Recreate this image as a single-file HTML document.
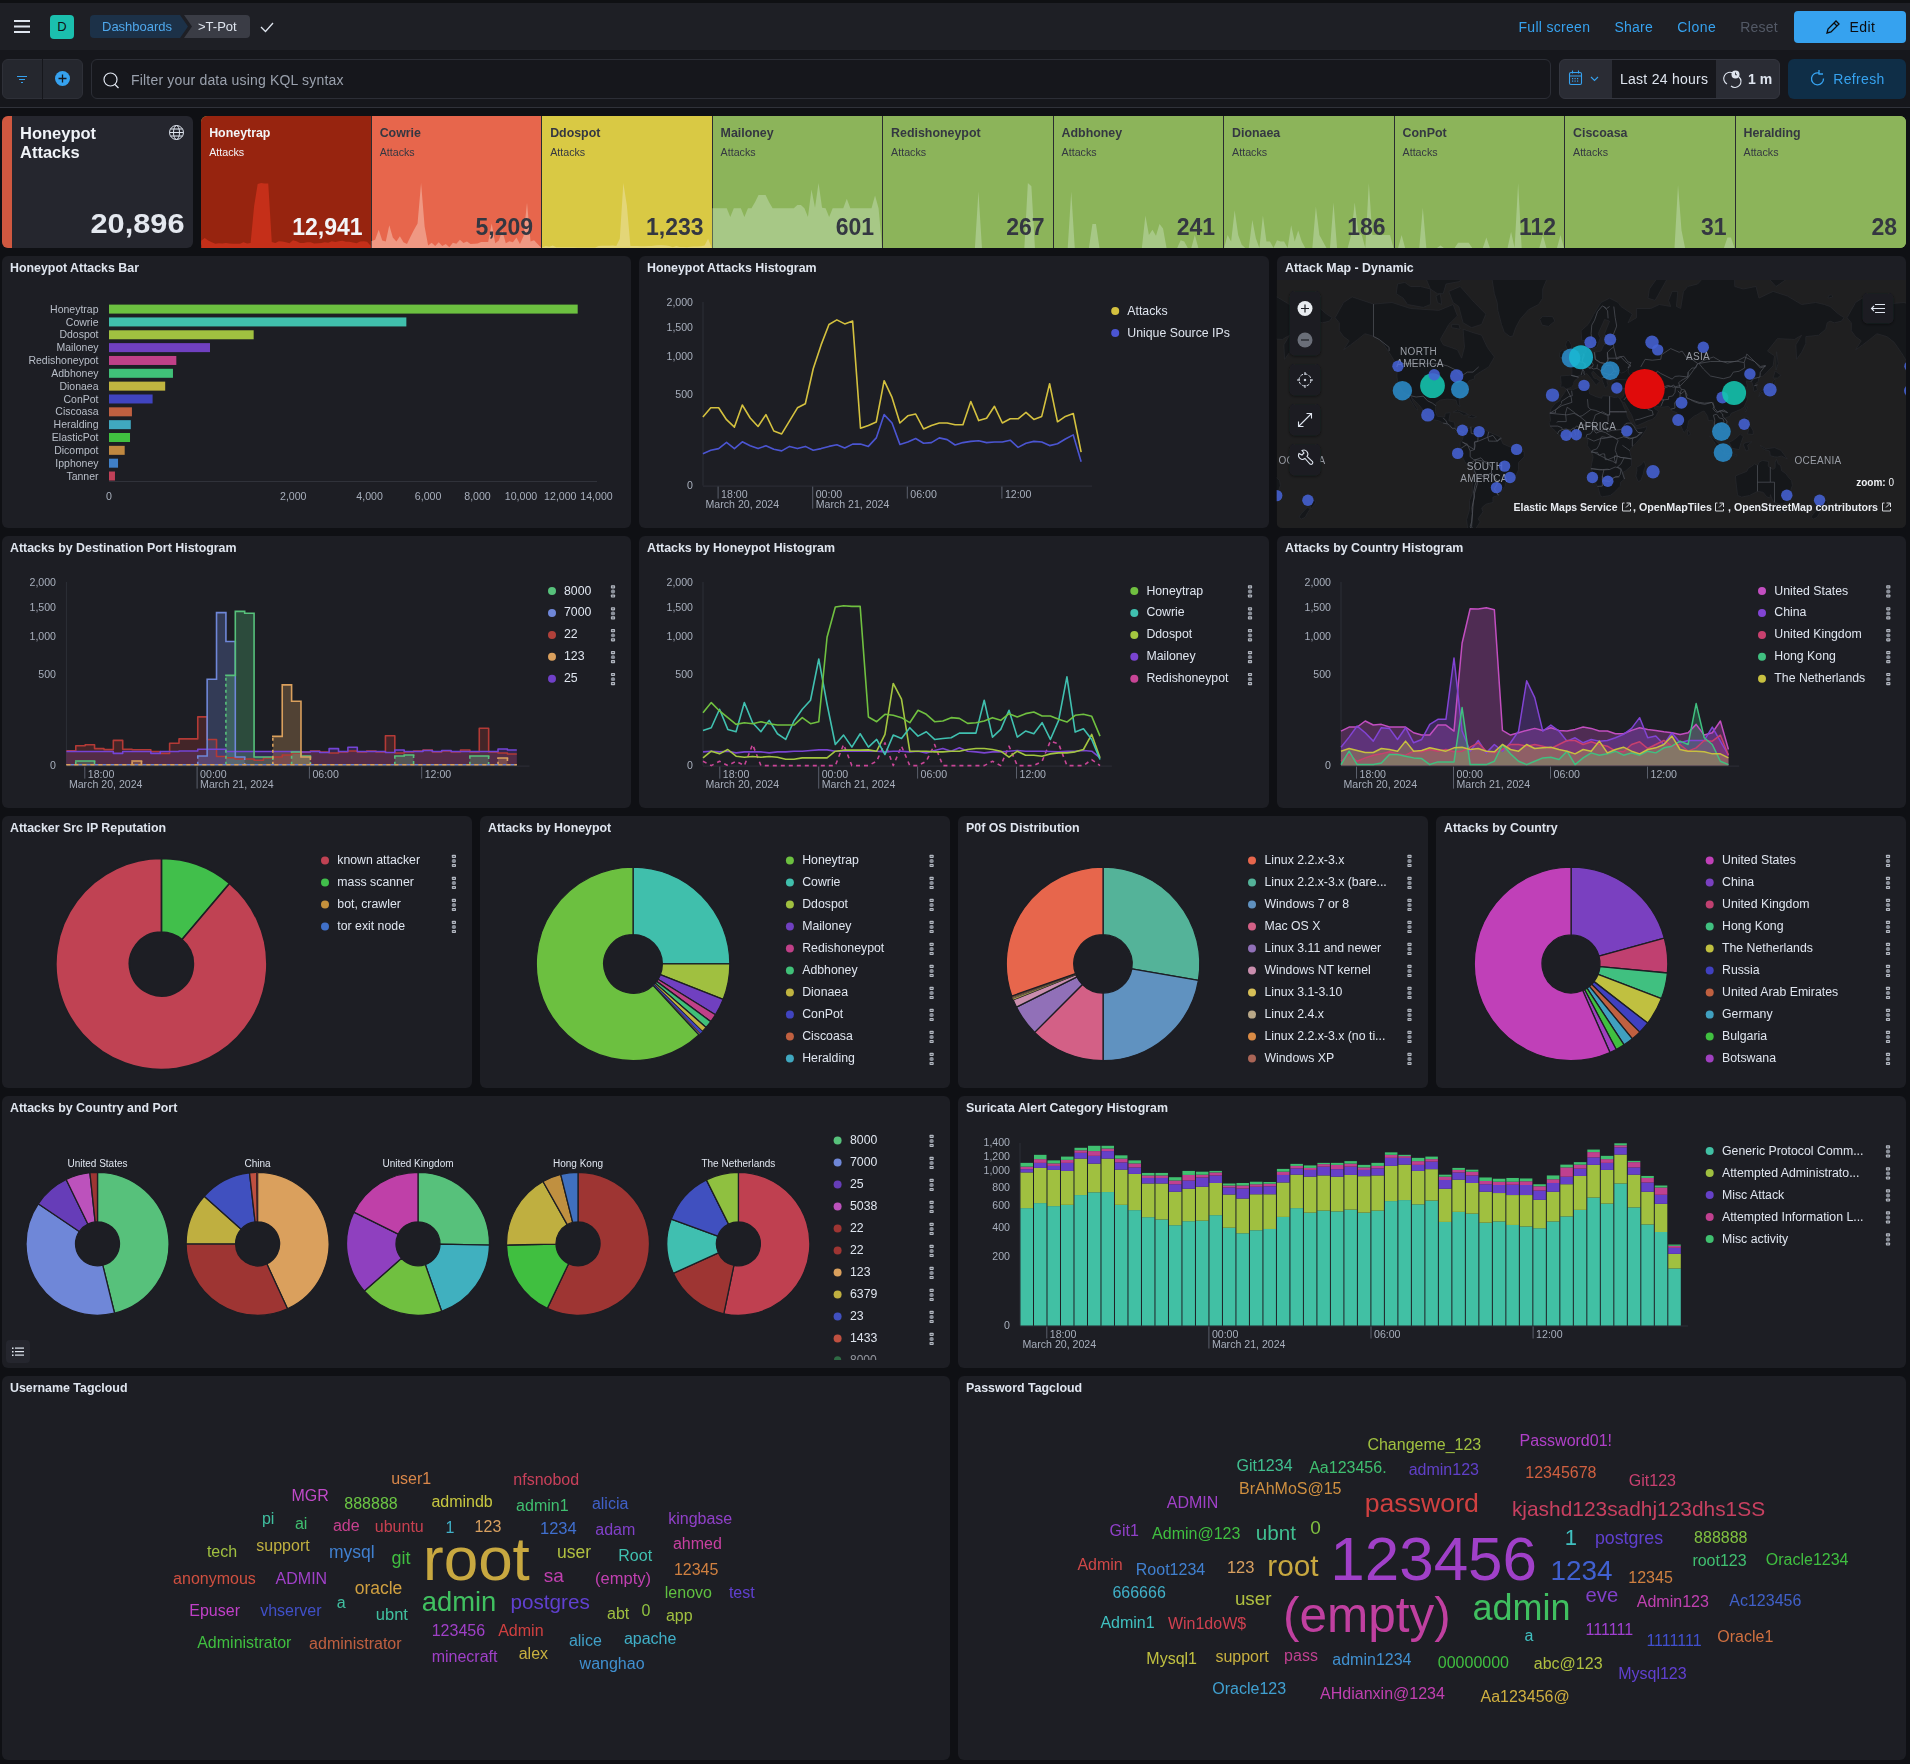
<!DOCTYPE html>
<html><head><meta charset="utf-8"><title>T-Pot Dashboard</title>
<style>
*{box-sizing:border-box}
html,body{margin:0;padding:0}
body{width:1910px;height:1764px;overflow:hidden;position:relative;background:#0f1014;font-family:'Liberation Sans', Arial, sans-serif;color:#dfe5ef}
.pn{position:absolute;border-radius:6px}
.pt{will-change:transform;position:absolute;font-size:12.4px;font-weight:bold;color:#dfe5ef;line-height:14px;white-space:nowrap}
.a{position:absolute;white-space:nowrap}
.t{will-change:transform}
svg text{font-family:'Liberation Sans', Arial, sans-serif}
</style></head><body>
<div class="a" style="left:0;top:0;width:1910px;height:3px;background:#0f1013"></div><div class="a" style="left:0;top:3px;width:1910px;height:47px;background:#1e1f25"></div><div class="a" style="left:0;top:50px;width:1910px;height:57px;background:#16171c"></div><div class="a" style="left:0;top:107px;width:1910px;height:1px;background:#30323a"></div><div class="a" style="left:50px;top:15px;width:24px;height:24px;border-radius:4px;background:#1bbfae;color:#101114;font-size:13px;line-height:24px;text-align:center">D</div><div class="a" style="left:1794px;top:11px;width:112px;height:32px;border-radius:4px;background:#36a2ef"></div><div class="a" style="left:2px;top:59px;width:81px;height:40px;border-radius:6px;background:#25272e;border:1px solid #2e3038"></div><div class="a" style="left:42px;top:59px;width:1px;height:40px;background:#16171c"></div><div class="a" style="left:91px;top:59px;width:1460px;height:40px;border-radius:6px;background:#16171c;border:1px solid #2c2e36"></div><div class="a" style="left:1559px;top:59px;width:221px;height:40px;border-radius:6px;background:#2a2c34;border:1px solid #34363f"></div><div class="a" style="left:1612px;top:60px;width:104px;height:38px;background:#16171c"></div><div class="a" style="left:1788px;top:59px;width:118px;height:40px;border-radius:6px;background:#0f2e47"></div><div class="pn" style="left:2px;top:116px;width:191.17px;height:132px;background:#25262e;overflow:hidden"><div style="position:absolute;left:0;top:0;width:10px;height:132px;background:#d05840"></div></div><div class="a t" style="left:20px;top:123.5px;font-size:16.5px;font-weight:bold;line-height:18.6px;color:#f0f3f8">Honeypot<br>Attacks</div><div class="pn" style="left:201.17px;top:116px;width:1704.83px;height:132px;overflow:hidden;background:#8cb45a"><div style="position:absolute;left:0px;top:0;width:170.48px;height:132px;background:#97240f"></div><div style="position:absolute;left:170.48px;top:0;width:170.48px;height:132px;background:#e7664c"></div><div style="position:absolute;left:340.97px;top:0;width:170.48px;height:132px;background:#d9c944"></div><div style="position:absolute;left:511.45px;top:0;width:170.48px;height:132px;background:#8cb45a"></div><div style="position:absolute;left:681.93px;top:0;width:170.48px;height:132px;background:#8cb45a"></div><div style="position:absolute;left:852.42px;top:0;width:170.48px;height:132px;background:#8cb45a"></div><div style="position:absolute;left:1022.9px;top:0;width:170.48px;height:132px;background:#8cb45a"></div><div style="position:absolute;left:1193.38px;top:0;width:170.48px;height:132px;background:#8cb45a"></div><div style="position:absolute;left:1363.87px;top:0;width:170.48px;height:132px;background:#8cb45a"></div><div style="position:absolute;left:1534.35px;top:0;width:170.48px;height:132px;background:#8cb45a"></div><div style="position:absolute;left:169.48px;top:0;width:1px;height:132px;background:#2a2c30"></div><div style="position:absolute;left:339.97px;top:0;width:1px;height:132px;background:#2a2c30"></div><div style="position:absolute;left:510.45px;top:0;width:1px;height:132px;background:#2a2c30"></div><div style="position:absolute;left:680.93px;top:0;width:1px;height:132px;background:#2a2c30"></div><div style="position:absolute;left:851.42px;top:0;width:1px;height:132px;background:#2a2c30"></div><div style="position:absolute;left:1021.9px;top:0;width:1px;height:132px;background:#2a2c30"></div><div style="position:absolute;left:1192.38px;top:0;width:1px;height:132px;background:#2a2c30"></div><div style="position:absolute;left:1362.87px;top:0;width:1px;height:132px;background:#2a2c30"></div><div style="position:absolute;left:1533.35px;top:0;width:1px;height:132px;background:#2a2c30"></div></div><div class="pn" style="left:2px;top:256px;width:629.33px;height:272px;background:#1d1e24"></div><div class="pt" style="left:10px;top:261px">Honeypot Attacks Bar</div><div class="pn" style="left:639.33px;top:256px;width:629.33px;height:272px;background:#1d1e24"></div><div class="pt" style="left:647.33px;top:261px">Honeypot Attacks Histogram</div><div class="pn" style="left:1276.67px;top:256px;width:629.33px;height:272px;background:#1d1e24"></div><div class="pt" style="left:1284.67px;top:261px">Attack Map - Dynamic</div><div class="pn" style="left:2px;top:536px;width:629.33px;height:272px;background:#1d1e24"></div><div class="pt" style="left:10px;top:541px">Attacks by Destination Port Histogram</div><div class="pn" style="left:639.33px;top:536px;width:629.33px;height:272px;background:#1d1e24"></div><div class="pt" style="left:647.33px;top:541px">Attacks by Honeypot Histogram</div><div class="pn" style="left:1276.67px;top:536px;width:629.33px;height:272px;background:#1d1e24"></div><div class="pt" style="left:1284.67px;top:541px">Attacks by Country Histogram</div><div class="pn" style="left:2px;top:816px;width:470px;height:272px;background:#1d1e24"></div><div class="pt" style="left:10px;top:821px">Attacker Src IP Reputation</div><div class="pn" style="left:480px;top:816px;width:470px;height:272px;background:#1d1e24"></div><div class="pt" style="left:488px;top:821px">Attacks by Honeypot</div><div class="pn" style="left:958px;top:816px;width:470px;height:272px;background:#1d1e24"></div><div class="pt" style="left:966px;top:821px">P0f OS Distribution</div><div class="pn" style="left:1436px;top:816px;width:470px;height:272px;background:#1d1e24"></div><div class="pt" style="left:1444px;top:821px">Attacks by Country</div><div class="pn" style="left:2px;top:1096px;width:948px;height:272px;background:#1d1e24"></div><div class="pt" style="left:10px;top:1101px">Attacks by Country and Port</div><div class="pn" style="left:958px;top:1096px;width:948px;height:272px;background:#1d1e24"></div><div class="pt" style="left:966px;top:1101px">Suricata Alert Category Histogram</div><div class="pn" style="left:2px;top:1376px;width:948px;height:384px;background:#1d1e24"></div><div class="pt" style="left:10px;top:1381px">Username Tagcloud</div><div class="pn" style="left:958px;top:1376px;width:948px;height:384px;background:#1d1e24"></div><div class="pt" style="left:966px;top:1381px">Password Tagcloud</div><div class="a" style="left:6px;top:1340px;width:24px;height:23px;border-radius:4px;background:#25262e"></div>
<svg width="1910" height="1764" viewBox="0 0 1910 1764" style="position:absolute;left:0;top:0;will-change:transform">
<rect x="14" y="20" width="16" height="2" fill="#dfe5ef"/><rect x="14" y="25.5" width="16" height="2" fill="#dfe5ef"/><rect x="14" y="31" width="16" height="2" fill="#dfe5ef"/><path d="M94 15 H180 L188 26.5 L180 38 H94 Q90 38 90 34 V19 Q90 15 94 15 Z" fill="#1c3148"/><path d="M184 15 H246 Q250 15 250 19 V34 Q250 38 246 38 H184 L192 26.5 Z" fill="#3a3c45"/><text x="102" y="31" font-size="13" fill="#4fa8ec" text-anchor="start" font-weight="normal" >Dashboards</text><text x="198" y="31" font-size="13" fill="#dfe5ef" text-anchor="start" font-weight="normal" >&gt;T-Pot</text><path d="M261 27 L265.5 31.5 L273 23" stroke="#dfe5ef" stroke-width="1.3" fill="none"/><text x="1518.5" y="32" font-size="14" fill="#36a2ef" text-anchor="start" font-weight="normal" textLength="71.5">Full screen</text><text x="1614.5" y="32" font-size="14" fill="#36a2ef" text-anchor="start" font-weight="normal" textLength="38.2">Share</text><text x="1677.2" y="32" font-size="14" fill="#36a2ef" text-anchor="start" font-weight="normal" textLength="38.5">Clone</text><text x="1740.2" y="32" font-size="14" fill="#535966" text-anchor="start" font-weight="normal" textLength="37.5">Reset</text><g stroke="#0b0c0f" stroke-width="1.3" fill="none"><path d="M1827 33 L1828 29 L1836 21 L1839 24 L1831 32 Z"/><path d="M1834 23 L1837 26"/></g><text x="1849.4" y="32" font-size="14" fill="#0b0c0f" text-anchor="start" font-weight="normal" textLength="25.5">Edit</text><g stroke="#36a2ef" stroke-width="1.2"><path d="M17 76.5 H27 M19 79.5 H25 M21 82.5 H23"/></g><circle cx="62.5" cy="78.5" r="7.5" fill="#36a2ef"/><path d="M62.5 74.5 V82.5 M58.5 78.5 H66.5" stroke="#16171c" stroke-width="1.3"/><circle cx="110.5" cy="79.5" r="6.5" stroke="#dfe5ef" stroke-width="1.2" fill="none"/><path d="M115 84.5 L118.5 88" stroke="#dfe5ef" stroke-width="1.2"/><text x="131" y="85" font-size="14" fill="#9aa1ad" text-anchor="start" font-weight="normal" textLength="212.5">Filter your data using KQL syntax</text><g stroke="#36a2ef" stroke-width="1.1" fill="none"><rect x="1569.5" y="72.5" width="12" height="12" rx="1.5"/><path d="M1569.5 76 H1581.5 M1572.5 70.5 V73.5 M1578.5 70.5 V73.5"/><path d="M1591 77 L1594.5 80.5 L1598 77"/></g><g fill="#36a2ef"><rect x="1572.0" y="78.0" width="1.2" height="1.2"/><rect x="1572.0" y="80.5" width="1.2" height="1.2"/><rect x="1574.5" y="78.0" width="1.2" height="1.2"/><rect x="1574.5" y="80.5" width="1.2" height="1.2"/><rect x="1577.0" y="78.0" width="1.2" height="1.2"/><rect x="1577.0" y="80.5" width="1.2" height="1.2"/></g><text x="1620" y="84" font-size="14" fill="#dfe5ef" text-anchor="start" font-weight="normal" textLength="88">Last 24 hours</text><g stroke="#dfe5ef" stroke-width="1.1" fill="none"><path d="M1727 84 A6 6 0 0 1 1733 73"/><path d="M1739 77 A6 6 0 0 1 1731 86"/></g><circle cx="1735.5" cy="74.5" r="4" fill="#dfe5ef"/><path d="M1735.5 72.5 V74.8 H1737" stroke="#2a2c34" stroke-width="0.9" fill="none"/><text x="1748" y="84" font-size="14" fill="#dfe5ef" text-anchor="start" font-weight="bold" >1 m</text><path d="M1823.5 78.5 A6 6 0 1 1 1819 73" stroke="#36a2ef" stroke-width="1.3" fill="none"/><path d="M1819 70 V74 H1823" stroke="#36a2ef" stroke-width="1.3" fill="none"/><text x="1833.3" y="84" font-size="14" fill="#36a2ef" text-anchor="start" font-weight="normal" textLength="51">Refresh</text><g stroke="#dfe5ef" stroke-width="1" fill="none"><circle cx="176.5" cy="132.5" r="7"/><ellipse cx="176.5" cy="132.5" rx="3" ry="7"/><path d="M169.5 132.5 H183.5 M170.5 129 H182.5 M170.5 136 H182.5"/></g><text x="184.5" y="233.4" font-size="28.5" fill="#e4e8ef" text-anchor="end" font-weight="bold" textLength="94" lengthAdjust="spacingAndGlyphs">20,896</text><path d="M201.17,248 L201.17,240.87 L204.7,237.9 L208.23,240.41 L211.76,242.16 L215.29,243.68 L218.82,243.32 L222.35,243.53 L225.88,243.1 L229.41,243.53 L232.94,243.82 L236.48,243.82 L240.01,243.82 L243.54,242.16 L247.07,243.53 L250.6,243.1 L254.13,206.09 L257.66,184.09 L261.19,183 L264.72,183.54 L268.25,183.54 L271.78,241.99 L275.32,243.1 L278.85,241.31 L282.38,241.57 L285.91,242.16 L289.44,243.32 L292.97,240.22 L296.5,241.31 L300.03,243.1 L303.56,242.94 L307.09,242.16 L310.62,242.32 L314.16,243.46 L317.69,243.32 L321.22,242.94 L324.75,242.16 L328.28,242.79 L331.81,241.13 L335.34,241.99 L338.87,241.13 L342.4,240.68 L345.93,241.74 L349.46,241.74 L353,242.56 L356.53,243.17 L360.06,241.57 L363.59,241.31 L367.12,241.83 L370.65,245.79 L370.65,248 Z" fill="#c52f19"/><text x="209.17" y="137" font-size="12.4" fill="#f3f5f8" text-anchor="start" font-weight="bold" >Honeytrap</text><text x="209.17" y="155.8" font-size="10.7" fill="#f3f5f8" text-anchor="start" font-weight="normal" >Attacks</text><text x="362.65" y="235" font-size="23" fill="#f3f5f8" text-anchor="end" font-weight="bold" >12,941</text><path d="M371.65,248 L371.65,240.91 L375.18,239.79 L378.71,229.86 L382.24,240.5 L385.77,241.44 L389.3,225.28 L392.84,237.47 L396.37,241.44 L399.9,236.28 L403.43,242.2 L406.96,244.09 L410.49,236.63 L414.02,229.86 L417.55,223.56 L421.08,183 L424.61,226.47 L428.14,245.45 L431.68,242.67 L435.21,246.05 L438.74,242.2 L442.27,246.05 L445.8,244.09 L449.33,247.3 L452.86,242.67 L456.39,243.78 L459.92,239.79 L463.45,243.02 L466.98,241.44 L470.52,244.09 L474.05,243.78 L477.58,243.57 L481.11,241.95 L484.64,241.95 L488.17,241.95 L491.7,223.56 L495.23,243.35 L498.76,240.5 L502.29,230.5 L505.82,243.35 L509.36,241.18 L512.89,242.2 L516.42,237.47 L519.95,244.09 L523.48,236.28 L527.01,202.86 L530.54,241.57 L534.07,240.22 L537.6,244.09 L541.13,247.79 L541.13,248 Z" fill="#ef9883"/><text x="379.65" y="137" font-size="12.4" fill="#343741" text-anchor="start" font-weight="bold" >Cowrie</text><text x="379.65" y="155.8" font-size="10.7" fill="#343741" text-anchor="start" font-weight="normal" >Attacks</text><text x="533.13" y="235" font-size="23" fill="#343741" text-anchor="end" font-weight="bold" >5,209</text><path d="M542.13,248 L542.13,247.43 L545.66,246 L549.2,246.67 L552.73,245.5 L556.26,247.15 L559.79,247.32 L563.32,247.21 L566.85,247.32 L570.38,247.21 L573.91,247.32 L577.44,247.61 L580.97,247.61 L584.5,247.43 L588.04,247.43 L591.57,247.43 L595.1,247.43 L598.63,246 L602.16,245.71 L605.69,245.71 L609.22,245.71 L612.75,245.61 L616.28,246 L619.81,238.63 L623.34,183 L626.87,205.54 L630.41,246 L633.94,246 L637.47,246 L641,246.18 L644.53,246.18 L648.06,246 L651.59,246 L655.12,245.5 L658.65,245.18 L662.18,245.18 L665.71,245.5 L669.25,246 L672.78,247.32 L676.31,246 L679.84,246.96 L683.37,246.96 L686.9,247.15 L690.43,246.67 L693.96,246.43 L697.49,246.43 L701.02,246.18 L704.55,245.5 L708.09,238.63 L711.62,247.43 L711.62,248 Z" fill="#e3d678"/><text x="550.13" y="137" font-size="12.4" fill="#343741" text-anchor="start" font-weight="bold" >Ddospot</text><text x="550.13" y="155.8" font-size="10.7" fill="#343741" text-anchor="start" font-weight="normal" >Attacks</text><text x="703.62" y="235" font-size="23" fill="#343741" text-anchor="end" font-weight="bold" >1,233</text><path d="M712.62,248 L712.62,208.25 L716.15,208.25 L719.68,208.25 L723.21,208.25 L726.74,208.25 L730.27,217.11 L733.8,208.25 L737.33,208.25 L740.86,208.25 L744.39,217.11 L747.93,208.25 L751.46,208.25 L754.99,202.34 L758.52,195.09 L762.05,195.09 L765.58,195.09 L769.11,202.34 L772.64,208.25 L776.17,208.25 L779.7,208.25 L783.23,208.25 L786.77,208.25 L790.3,208.25 L793.83,208.25 L797.36,205.02 L800.89,205.02 L804.42,208.25 L807.95,217.11 L811.48,189.45 L815.01,207.71 L818.54,183 L822.07,207.71 L825.61,208.25 L829.14,217.11 L832.67,208.25 L836.2,208.25 L839.73,208.25 L843.26,208.25 L846.79,198.85 L850.32,208.25 L853.85,208.25 L857.38,208.25 L860.91,208.25 L864.45,208.25 L867.98,208.25 L871.51,208.25 L875.04,195.62 L878.57,208.25 L882.1,248 L882.1,248 Z" fill="#a7c886"/><text x="720.62" y="137" font-size="12.4" fill="#343741" text-anchor="start" font-weight="bold" >Mailoney</text><text x="720.62" y="155.8" font-size="10.7" fill="#343741" text-anchor="start" font-weight="normal" >Attacks</text><text x="874.1" y="235" font-size="23" fill="#343741" text-anchor="end" font-weight="bold" >601</text><path d="M883.1,248 L883.1,248 L886.63,248 L890.16,248 L893.69,248 L897.22,248 L900.75,248 L904.29,248 L907.82,248 L911.35,248 L914.88,248 L918.41,248 L921.94,248 L925.47,248 L929,248 L932.53,248 L936.06,248 L939.59,248 L943.13,248 L946.66,248 L950.19,248 L953.72,248 L957.25,248 L960.78,248 L964.31,248 L967.84,248 L971.37,248 L974.9,248 L978.43,191.45 L981.97,248 L985.5,248 L989.03,248 L992.56,248 L996.09,248 L999.62,248 L1003.15,248 L1006.68,248 L1010.21,248 L1013.74,248 L1017.27,248 L1020.81,248 L1024.34,248 L1027.87,183 L1031.4,186.25 L1034.93,248 L1038.46,248 L1041.99,248 L1045.52,248 L1049.05,248 L1052.58,248 L1052.58,248 Z" fill="#a7c886"/><text x="891.1" y="137" font-size="12.4" fill="#343741" text-anchor="start" font-weight="bold" >Redishoneypot</text><text x="891.1" y="155.8" font-size="10.7" fill="#343741" text-anchor="start" font-weight="normal" >Attacks</text><text x="1044.58" y="235" font-size="23" fill="#343741" text-anchor="end" font-weight="bold" >267</text><path d="M1053.58,248 L1053.58,248 L1057.11,248 L1060.65,248 L1064.18,248 L1067.71,248 L1071.24,191.45 L1074.77,248 L1078.3,248 L1081.83,248 L1085.36,248 L1088.89,248 L1092.42,223.95 L1095.95,223.95 L1099.49,248 L1103.02,248 L1106.55,248 L1110.08,248 L1113.61,248 L1117.14,248 L1120.67,248 L1124.2,248 L1127.73,248 L1131.26,248 L1134.79,248 L1138.32,248 L1141.86,248 L1145.39,215.5 L1148.92,235 L1152.45,229.8 L1155.98,235.65 L1159.51,223.95 L1163.04,228.5 L1166.57,248 L1170.1,248 L1173.63,248 L1177.16,248 L1180.7,240.2 L1184.23,241.5 L1187.76,248 L1191.29,248 L1194.82,235 L1198.35,248 L1201.88,248 L1205.41,248 L1208.94,248 L1212.47,248 L1216,248 L1219.54,248 L1223.07,248 L1223.07,248 Z" fill="#a7c886"/><text x="1061.58" y="137" font-size="12.4" fill="#343741" text-anchor="start" font-weight="bold" >Adbhoney</text><text x="1061.58" y="155.8" font-size="10.7" fill="#343741" text-anchor="start" font-weight="normal" >Attacks</text><text x="1215.07" y="235" font-size="23" fill="#343741" text-anchor="end" font-weight="bold" >241</text><path d="M1224.07,248 L1224.07,248 L1227.6,235 L1231.13,241.5 L1234.66,210.3 L1238.19,235 L1241.72,244.75 L1245.25,248 L1248.78,248 L1252.31,220.05 L1255.84,238.25 L1259.38,248 L1262.91,215.5 L1266.44,241.5 L1269.97,241.5 L1273.5,248 L1277.03,240.2 L1280.56,241.5 L1284.09,241.5 L1287.62,248 L1291.15,225.25 L1294.68,241.5 L1298.22,230.45 L1301.75,241.5 L1305.28,248 L1308.81,248 L1312.34,248 L1315.87,206.4 L1319.4,235 L1322.93,241.5 L1326.46,248 L1329.99,248 L1333.52,202.5 L1337.06,248 L1340.59,248 L1344.12,248 L1347.65,248 L1351.18,235 L1354.71,202.5 L1358.24,231.75 L1361.77,235 L1365.3,248 L1368.83,183 L1372.36,235 L1375.9,235 L1379.43,235 L1382.96,235 L1386.49,235 L1390.02,235 L1393.55,248 L1393.55,248 Z" fill="#a7c886"/><text x="1232.07" y="137" font-size="12.4" fill="#343741" text-anchor="start" font-weight="bold" >Dionaea</text><text x="1232.07" y="155.8" font-size="10.7" fill="#343741" text-anchor="start" font-weight="normal" >Attacks</text><text x="1385.55" y="235" font-size="23" fill="#343741" text-anchor="end" font-weight="bold" >186</text><path d="M1394.55,248 L1394.55,248 L1398.08,248 L1401.61,235 L1405.14,248 L1408.67,248 L1412.2,248 L1415.74,248 L1419.27,248 L1422.8,207.7 L1426.33,248 L1429.86,248 L1433.39,248 L1436.92,248 L1440.45,245.4 L1443.98,248 L1447.51,248 L1451.04,248 L1454.58,248 L1458.11,242.8 L1461.64,242.8 L1465.17,242.8 L1468.7,242.8 L1472.23,248 L1475.76,248 L1479.29,248 L1482.82,248 L1486.35,237.6 L1489.88,248 L1493.42,248 L1496.95,248 L1500.48,248 L1504.01,248 L1507.54,248 L1511.07,231.75 L1514.6,248 L1518.13,183 L1521.66,248 L1525.19,248 L1528.72,248 L1532.26,248 L1535.79,248 L1539.32,248 L1542.85,235 L1546.38,248 L1549.91,248 L1553.44,248 L1556.97,248 L1560.5,235 L1564.03,248 L1564.03,248 Z" fill="#a7c886"/><text x="1402.55" y="137" font-size="12.4" fill="#343741" text-anchor="start" font-weight="bold" >ConPot</text><text x="1402.55" y="155.8" font-size="10.7" fill="#343741" text-anchor="start" font-weight="normal" >Attacks</text><text x="1556.03" y="235" font-size="23" fill="#343741" text-anchor="end" font-weight="bold" >112</text><path d="M1565.03,248 L1565.03,248 L1568.56,248 L1572.1,248 L1575.63,248 L1579.16,248 L1582.69,248 L1586.22,248 L1589.75,248 L1593.28,248 L1596.81,248 L1600.34,248 L1603.87,248 L1607.4,248 L1610.94,248 L1614.47,248 L1618,248 L1621.53,248 L1625.06,248 L1628.59,248 L1632.12,248 L1635.65,248 L1639.18,248 L1642.71,248 L1646.24,248 L1649.77,248 L1653.31,248 L1656.84,248 L1660.37,248 L1663.9,248 L1667.43,248 L1670.96,248 L1674.49,248 L1678.02,184.95 L1681.55,230.45 L1685.08,248 L1688.61,248 L1692.15,248 L1695.68,248 L1699.21,248 L1702.74,248 L1706.27,248 L1709.8,248 L1713.33,248 L1716.86,248 L1720.39,248 L1723.92,248 L1727.45,237.6 L1730.99,237.6 L1734.52,248 L1734.52,248 Z" fill="#a7c886"/><text x="1573.03" y="137" font-size="12.4" fill="#343741" text-anchor="start" font-weight="bold" >Ciscoasa</text><text x="1573.03" y="155.8" font-size="10.7" fill="#343741" text-anchor="start" font-weight="normal" >Attacks</text><text x="1726.52" y="235" font-size="23" fill="#343741" text-anchor="end" font-weight="bold" >31</text><text x="1743.52" y="137" font-size="12.4" fill="#343741" text-anchor="start" font-weight="bold" >Heralding</text><text x="1743.52" y="155.8" font-size="10.7" fill="#343741" text-anchor="start" font-weight="normal" >Attacks</text><text x="1897" y="235" font-size="23" fill="#343741" text-anchor="end" font-weight="bold" >28</text><rect x="109" y="304.6" width="468.69" height="9" fill="#6cc040"/><text x="98.5" y="312.7" font-size="10.5" fill="#b9bfc9" text-anchor="end" font-weight="normal" >Honeytrap</text><rect x="109" y="317.44" width="297.35" height="9" fill="#40bfac"/><text x="98.5" y="325.54" font-size="10.5" fill="#b9bfc9" text-anchor="end" font-weight="normal" >Cowrie</text><rect x="109" y="330.28" width="144.67" height="9" fill="#a0c040"/><text x="98.5" y="338.38" font-size="10.5" fill="#b9bfc9" text-anchor="end" font-weight="normal" >Ddospot</text><rect x="109" y="343.12" width="101" height="9" fill="#7040c0"/><text x="98.5" y="351.22" font-size="10.5" fill="#b9bfc9" text-anchor="end" font-weight="normal" >Mailoney</text><rect x="109" y="355.96" width="67.32" height="9" fill="#c04088"/><text x="98.5" y="364.06" font-size="10.5" fill="#b9bfc9" text-anchor="end" font-weight="normal" >Redishoneypot</text><rect x="109" y="368.8" width="63.96" height="9" fill="#40c078"/><text x="98.5" y="376.9" font-size="10.5" fill="#b9bfc9" text-anchor="end" font-weight="normal" >Adbhoney</text><rect x="109" y="381.64" width="56.19" height="9" fill="#c0b440"/><text x="98.5" y="389.74" font-size="10.5" fill="#b9bfc9" text-anchor="end" font-weight="normal" >Dionaea</text><rect x="109" y="394.48" width="43.6" height="9" fill="#4044c0"/><text x="98.5" y="402.58" font-size="10.5" fill="#b9bfc9" text-anchor="end" font-weight="normal" >ConPot</text><rect x="109" y="407.32" width="22.94" height="9" fill="#c06040"/><text x="98.5" y="415.42" font-size="10.5" fill="#b9bfc9" text-anchor="end" font-weight="normal" >Ciscoasa</text><rect x="109" y="420.16" width="21.8" height="9" fill="#40a8c0"/><text x="98.5" y="428.26" font-size="10.5" fill="#b9bfc9" text-anchor="end" font-weight="normal" >Heralding</text><rect x="109" y="433" width="21.01" height="9" fill="#40c040"/><text x="98.5" y="441.1" font-size="10.5" fill="#b9bfc9" text-anchor="end" font-weight="normal" >ElasticPot</text><rect x="109" y="445.84" width="15.69" height="9" fill="#c08840"/><text x="98.5" y="453.94" font-size="10.5" fill="#b9bfc9" text-anchor="end" font-weight="normal" >Dicompot</text><rect x="109" y="458.68" width="9.03" height="9" fill="#4080c8"/><text x="98.5" y="466.78" font-size="10.5" fill="#b9bfc9" text-anchor="end" font-weight="normal" >Ipphoney</text><rect x="109" y="471.52" width="5.97" height="9" fill="#c04058"/><text x="98.5" y="479.62" font-size="10.5" fill="#b9bfc9" text-anchor="end" font-weight="normal" >Tanner</text><rect x="109" y="481" width="488" height="1" fill="#30323a"/><text x="109" y="499.5" font-size="10.6" fill="#a7aebb" text-anchor="middle" font-weight="normal" >0</text><text x="293.25" y="499.5" font-size="10.6" fill="#a7aebb" text-anchor="middle" font-weight="normal" >2,000</text><text x="369.57" y="499.5" font-size="10.6" fill="#a7aebb" text-anchor="middle" font-weight="normal" >4,000</text><text x="428.13" y="499.5" font-size="10.6" fill="#a7aebb" text-anchor="middle" font-weight="normal" >6,000</text><text x="477.5" y="499.5" font-size="10.6" fill="#a7aebb" text-anchor="middle" font-weight="normal" >8,000</text><text x="521" y="499.5" font-size="10.6" fill="#a7aebb" text-anchor="middle" font-weight="normal" >10,000</text><text x="560.32" y="499.5" font-size="10.6" fill="#a7aebb" text-anchor="middle" font-weight="normal" >12,000</text><text x="596.48" y="499.5" font-size="10.6" fill="#a7aebb" text-anchor="middle" font-weight="normal" >14,000</text><rect x="702.5" y="302" width="1" height="183.6" fill="#2d2f37"/><rect x="703" y="485.6" width="389" height="1" fill="#2d2f37"/><rect x="717.6" y="486.6" width="1" height="12" fill="#5a5f6b"/><text x="721.1" y="497.6" font-size="10.6" fill="#a7aebb" text-anchor="start" font-weight="normal" >18:00</text><rect x="812.2" y="486.6" width="1" height="22" fill="#5a5f6b"/><text x="815.7" y="497.6" font-size="10.6" fill="#a7aebb" text-anchor="start" font-weight="normal" >00:00</text><rect x="906.8" y="486.6" width="1" height="12" fill="#5a5f6b"/><text x="910.3" y="497.6" font-size="10.6" fill="#a7aebb" text-anchor="start" font-weight="normal" >06:00</text><rect x="1001.4" y="486.6" width="1" height="12" fill="#5a5f6b"/><text x="1004.9" y="497.6" font-size="10.6" fill="#a7aebb" text-anchor="start" font-weight="normal" >12:00</text><text x="705.5" y="508.1" font-size="10.6" fill="#a7aebb" text-anchor="start" font-weight="normal" >March 20, 2024</text><text x="815.7" y="508.1" font-size="10.6" fill="#a7aebb" text-anchor="start" font-weight="normal" >March 21, 2024</text><text x="693" y="306.3" font-size="10.6" fill="#a7aebb" text-anchor="end" font-weight="normal" >2,000</text><text x="693" y="330.82" font-size="10.6" fill="#a7aebb" text-anchor="end" font-weight="normal" >1,500</text><text x="693" y="359.9" font-size="10.6" fill="#a7aebb" text-anchor="end" font-weight="normal" >1,000</text><text x="693" y="397.8" font-size="10.6" fill="#a7aebb" text-anchor="end" font-weight="normal" >500</text><text x="693" y="489.3" font-size="10.6" fill="#a7aebb" text-anchor="end" font-weight="normal" >0</text><path d="M702.9,416.9 L710.78,407.8 L718.66,407.8 L726.54,419.7 L734.42,427.1 L742.3,405 L750.18,418 L758.06,426.5 L765.94,414.6 L773.82,431 L781.7,433.9 L789.58,420.9 L797.46,407.8 L805.34,403.8 L813.22,368.7 L821.1,344.9 L828.98,324.5 L836.86,319.9 L844.74,323.9 L852.62,321.1 L860.5,428.2 L868.38,425.4 L876.26,422 L884.14,380.7 L892.02,397.4 L899.9,423 L907.78,415.8 L915.66,414 L923.54,428.9 L931.42,425.4 L939.3,423 L947.18,423 L955.06,424.8 L962.94,424.8 L970.82,401.5 L978.7,420.6 L986.58,418.2 L994.46,406.3 L1002.34,423 L1010.22,418.8 L1018.1,418.8 L1025.98,412.3 L1033.86,419.4 L1041.74,416.4 L1049.62,383.7 L1057.5,421.8 L1065.38,416.4 L1073.26,413.5 L1081.14,452.1" fill="none" stroke="#d4c13f" stroke-width="1.6" stroke-linejoin="round" /><path d="M702.9,453.7 L710.78,450.3 L718.66,448.6 L726.54,442.4 L734.42,448.6 L742.3,441.8 L750.18,445.8 L758.06,448.6 L765.94,445.8 L773.82,449.2 L781.7,450.9 L789.58,446.4 L797.46,448.6 L805.34,446.4 L813.22,450.3 L821.1,448.6 L828.98,446.4 L836.86,444.7 L844.74,448 L852.62,444.1 L860.5,444.1 L868.38,446.4 L876.26,437.9 L884.14,414.6 L892.02,423 L899.9,444.4 L907.78,442 L915.66,438.5 L923.54,443.2 L931.42,442.6 L939.3,437.9 L947.18,439.6 L955.06,445 L962.94,442.6 L970.82,441.4 L978.7,440.8 L986.58,442.6 L994.46,442 L1002.34,442 L1010.22,440.2 L1018.1,447.4 L1025.98,443.2 L1033.86,441.4 L1041.74,442 L1049.62,445.6 L1057.5,443.8 L1065.38,439 L1073.26,434.9 L1081.14,461.7" fill="none" stroke="#4b55d2" stroke-width="1.6" stroke-linejoin="round" /><circle cx="1115.2" cy="311.1" r="4" fill="#d4c13f"/><text x="1127.3" y="314.5" font-size="12.3" fill="#dfe5ef" text-anchor="start" font-weight="normal" >Attacks</text><circle cx="1115.2" cy="333.1" r="4" fill="#4b55d2"/><text x="1127.3" y="336.5" font-size="12.3" fill="#dfe5ef" text-anchor="start" font-weight="normal" >Unique Source IPs</text><rect x="65.9" y="582" width="1" height="183.6" fill="#2d2f37"/><rect x="66.4" y="765.6" width="463.1" height="1" fill="#2d2f37"/><rect x="84.3" y="766.6" width="1" height="12" fill="#5a5f6b"/><text x="87.8" y="777.6" font-size="10.6" fill="#a7aebb" text-anchor="start" font-weight="normal" >18:00</text><rect x="196.6" y="766.6" width="1" height="22" fill="#5a5f6b"/><text x="200.1" y="777.6" font-size="10.6" fill="#a7aebb" text-anchor="start" font-weight="normal" >00:00</text><rect x="308.9" y="766.6" width="1" height="12" fill="#5a5f6b"/><text x="312.4" y="777.6" font-size="10.6" fill="#a7aebb" text-anchor="start" font-weight="normal" >06:00</text><rect x="421.2" y="766.6" width="1" height="12" fill="#5a5f6b"/><text x="424.7" y="777.6" font-size="10.6" fill="#a7aebb" text-anchor="start" font-weight="normal" >12:00</text><text x="68.9" y="788.1" font-size="10.6" fill="#a7aebb" text-anchor="start" font-weight="normal" >March 20, 2024</text><text x="200.1" y="788.1" font-size="10.6" fill="#a7aebb" text-anchor="start" font-weight="normal" >March 21, 2024</text><text x="56" y="586.3" font-size="10.6" fill="#a7aebb" text-anchor="end" font-weight="normal" >2,000</text><text x="56" y="610.82" font-size="10.6" fill="#a7aebb" text-anchor="end" font-weight="normal" >1,500</text><text x="56" y="639.9" font-size="10.6" fill="#a7aebb" text-anchor="end" font-weight="normal" >1,000</text><text x="56" y="677.8" font-size="10.6" fill="#a7aebb" text-anchor="end" font-weight="normal" >500</text><text x="56" y="769.3" font-size="10.6" fill="#a7aebb" text-anchor="end" font-weight="normal" >0</text><path d="M66.4,765.6 L66.4,751.5 L75.78,751.5 L75.78,751.5 L85.17,751.5 L85.17,751.5 L94.55,751.5 L94.55,751.5 L103.93,751.5 L103.93,751.5 L113.32,751.5 L113.32,753.4 L122.7,753.4 L122.7,751.5 L132.08,751.5 L132.08,751.5 L141.47,751.5 L141.47,751.5 L150.85,751.5 L150.85,753.4 L160.23,753.4 L160.23,751.5 L169.62,751.5 L169.62,751.5 L179,751.5 L179,751 L188.38,751 L188.38,751 L197.77,751 L197.77,749.3 L207.15,749.3 L207.15,749.3 L216.53,749.3 L216.53,749.3 L225.92,749.3 L225.92,751.5 L235.3,751.5 L235.3,751.5 L244.68,751.5 L244.68,751.5 L254.07,751.5 L254.07,751.5 L263.45,751.5 L263.45,751.5 L272.83,751.5 L272.83,751.5 L282.22,751.5 L282.22,751.5 L291.6,751.5 L291.6,751.5 L300.98,751.5 L300.98,752 L310.37,752 L310.37,751.5 L319.75,751.5 L319.75,752.5 L329.13,752.5 L329.13,748.6 L338.52,748.6 L338.52,751.5 L347.9,751.5 L347.9,747.3 L357.28,747.3 L357.28,751.5 L366.67,751.5 L366.67,751.5 L376.05,751.5 L376.05,751.5 L385.43,751.5 L385.43,752.5 L394.82,752.5 L394.82,750 L404.2,750 L404.2,751.5 L413.58,751.5 L413.58,751.5 L422.97,751.5 L422.97,750.5 L432.35,750.5 L432.35,751.5 L441.73,751.5 L441.73,750.5 L451.12,750.5 L451.12,751.5 L460.5,751.5 L460.5,751.5 L469.88,751.5 L469.88,751.5 L479.27,751.5 L479.27,751.5 L488.65,751.5 L488.65,751.5 L498.03,751.5 L498.03,749 L507.42,749 L507.42,750 L516.8,750 L516.8,765.6 Z" fill="#6b3fc6" fill-opacity="0.28"/><path d="M66.4,765.6 L66.4,750.8 L75.78,750.8 L75.78,745.8 L85.17,745.8 L85.17,744.8 L94.55,744.8 L94.55,748.6 L103.93,748.6 L103.93,749.6 L113.32,749.6 L113.32,740.4 L122.7,740.4 L122.7,749.3 L132.08,749.3 L132.08,749.8 L141.47,749.8 L141.47,749.8 L150.85,749.8 L150.85,751.5 L160.23,751.5 L160.23,753.4 L169.62,753.4 L169.62,743.3 L179,743.3 L179,738.9 L188.38,738.9 L188.38,738.9 L197.77,738.9 L197.77,716.9 L207.15,716.9 L207.15,739.5 L216.53,739.5 L216.53,756.5 L225.92,756.5 L225.92,757.8 L235.3,757.8 L235.3,759 L244.68,759 L244.68,759 L254.07,759 L254.07,760.3 L263.45,760.3 L263.45,758 L272.83,758 L272.83,757 L282.22,757 L282.22,755 L291.6,755 L291.6,753 L300.98,753 L300.98,752 L310.37,752 L310.37,751 L319.75,751 L319.75,752 L329.13,752 L329.13,753 L338.52,753 L338.52,752 L347.9,752 L347.9,751 L357.28,751 L357.28,752 L366.67,752 L366.67,751 L376.05,751 L376.05,752 L385.43,752 L385.43,735.8 L394.82,735.8 L394.82,753 L404.2,753 L404.2,752 L413.58,752 L413.58,751 L422.97,751 L422.97,750 L432.35,750 L432.35,752 L441.73,752 L441.73,751 L451.12,751 L451.12,752 L460.5,752 L460.5,750 L469.88,750 L469.88,752 L479.27,752 L479.27,728.2 L488.65,728.2 L488.65,752 L498.03,752 L498.03,753 L507.42,753 L507.42,754 L516.8,754 L516.8,765.6 Z" fill="#a83834" fill-opacity="0.28"/><path d="M66.4,765.6 L66.4,764.8 L75.78,764.8 L75.78,764.8 L85.17,764.8 L85.17,764.8 L94.55,764.8 L94.55,764.8 L103.93,764.8 L103.93,764.8 L113.32,764.8 L113.32,764.8 L122.7,764.8 L122.7,764.8 L132.08,764.8 L132.08,764.8 L141.47,764.8 L141.47,764.8 L150.85,764.8 L150.85,764.8 L160.23,764.8 L160.23,764.8 L169.62,764.8 L169.62,764.8 L179,764.8 L179,764.8 L188.38,764.8 L188.38,764.8 L197.77,764.8 L197.77,756 L207.15,756 L207.15,679.2 L216.53,679.2 L216.53,612.6 L225.92,612.6 L225.92,641.5 L235.3,641.5 L235.3,757 L244.68,757 L244.68,764.8 L254.07,764.8 L254.07,764.8 L263.45,764.8 L263.45,764.8 L272.83,764.8 L272.83,764.8 L282.22,764.8 L282.22,764.8 L291.6,764.8 L291.6,764.8 L300.98,764.8 L300.98,764.8 L310.37,764.8 L310.37,764.8 L319.75,764.8 L319.75,764.8 L329.13,764.8 L329.13,764.8 L338.52,764.8 L338.52,764.8 L347.9,764.8 L347.9,764.8 L357.28,764.8 L357.28,764.8 L366.67,764.8 L366.67,764.8 L376.05,764.8 L376.05,764.8 L385.43,764.8 L385.43,764.8 L394.82,764.8 L394.82,764.8 L404.2,764.8 L404.2,764.8 L413.58,764.8 L413.58,764.8 L422.97,764.8 L422.97,764.8 L432.35,764.8 L432.35,764.8 L441.73,764.8 L441.73,764.8 L451.12,764.8 L451.12,764.8 L460.5,764.8 L460.5,764.8 L469.88,764.8 L469.88,764.8 L479.27,764.8 L479.27,764.8 L488.65,764.8 L488.65,764.8 L498.03,764.8 L498.03,764.8 L507.42,764.8 L507.42,764.8 L516.8,764.8 L516.8,765.6 Z" fill="#6f87d8" fill-opacity="0.28"/><path d="M66.4,765.6 L66.4,764.8 L75.78,764.8 L75.78,761 L85.17,761 L85.17,761 L94.55,761 L94.55,764.8 L103.93,764.8 L103.93,764.8 L113.32,764.8 L113.32,764.8 L122.7,764.8 L122.7,764.8 L132.08,764.8 L132.08,764.8 L141.47,764.8 L141.47,764.8 L150.85,764.8 L150.85,764.8 L160.23,764.8 L160.23,764.8 L169.62,764.8 L169.62,764.8 L179,764.8 L179,764.8 L188.38,764.8 L188.38,764.8 L197.77,764.8 L197.77,764.8 L207.15,764.8 L207.15,764.8 L216.53,764.8 L216.53,764.8 L225.92,764.8 L225.92,675.4 L235.3,675.4 L235.3,611.4 L244.68,611.4 L244.68,613.2 L254.07,613.2 L254.07,757 L263.45,757 L263.45,757 L272.83,757 L272.83,764.8 L282.22,764.8 L282.22,764.8 L291.6,764.8 L291.6,752 L300.98,752 L300.98,756 L310.37,756 L310.37,764.8 L319.75,764.8 L319.75,764.8 L329.13,764.8 L329.13,764.8 L338.52,764.8 L338.52,764.8 L347.9,764.8 L347.9,764.8 L357.28,764.8 L357.28,764.8 L366.67,764.8 L366.67,764.8 L376.05,764.8 L376.05,764.8 L385.43,764.8 L385.43,764.8 L394.82,764.8 L394.82,756 L404.2,756 L404.2,755 L413.58,755 L413.58,764.8 L422.97,764.8 L422.97,764.8 L432.35,764.8 L432.35,764.8 L441.73,764.8 L441.73,764.8 L451.12,764.8 L451.12,764.8 L460.5,764.8 L460.5,764.8 L469.88,764.8 L469.88,756 L479.27,756 L479.27,756 L488.65,756 L488.65,764.8 L498.03,764.8 L498.03,764.8 L507.42,764.8 L507.42,764.8 L516.8,764.8 L516.8,765.6 Z" fill="#57c17b" fill-opacity="0.28"/><path d="M66.4,765.6 L66.4,764.8 L75.78,764.8 L75.78,764.8 L85.17,764.8 L85.17,764.8 L94.55,764.8 L94.55,764.8 L103.93,764.8 L103.93,764.8 L113.32,764.8 L113.32,764.8 L122.7,764.8 L122.7,764.8 L132.08,764.8 L132.08,761 L141.47,761 L141.47,764.8 L150.85,764.8 L150.85,764.8 L160.23,764.8 L160.23,764.8 L169.62,764.8 L169.62,764.8 L179,764.8 L179,764.8 L188.38,764.8 L188.38,764.8 L197.77,764.8 L197.77,764.8 L207.15,764.8 L207.15,764.8 L216.53,764.8 L216.53,764.8 L225.92,764.8 L225.92,764.8 L235.3,764.8 L235.3,764.8 L244.68,764.8 L244.68,764.8 L254.07,764.8 L254.07,764.8 L263.45,764.8 L263.45,764.8 L272.83,764.8 L272.83,736.4 L282.22,736.4 L282.22,684.9 L291.6,684.9 L291.6,701.2 L300.98,701.2 L300.98,757 L310.37,757 L310.37,764.8 L319.75,764.8 L319.75,764.8 L329.13,764.8 L329.13,764.8 L338.52,764.8 L338.52,764.8 L347.9,764.8 L347.9,764.8 L357.28,764.8 L357.28,764.8 L366.67,764.8 L366.67,764.8 L376.05,764.8 L376.05,764.8 L385.43,764.8 L385.43,764.8 L394.82,764.8 L394.82,764.8 L404.2,764.8 L404.2,764.8 L413.58,764.8 L413.58,764.8 L422.97,764.8 L422.97,764.8 L432.35,764.8 L432.35,764.8 L441.73,764.8 L441.73,764.8 L451.12,764.8 L451.12,764.8 L460.5,764.8 L460.5,764.8 L469.88,764.8 L469.88,764.8 L479.27,764.8 L479.27,764.8 L488.65,764.8 L488.65,764.8 L498.03,764.8 L498.03,758 L507.42,758 L507.42,764.8 L516.8,764.8 L516.8,765.6 Z" fill="#daa05d" fill-opacity="0.28"/><path d="M66.4,750.8 L75.78,750.8 L75.78,745.8 L85.17,745.8 L85.17,744.8 L94.55,744.8 L94.55,748.6 L103.93,748.6 L103.93,749.6 L113.32,749.6 L113.32,740.4 L122.7,740.4 L122.7,749.3 L132.08,749.3 L132.08,749.8 L141.47,749.8 L141.47,749.8 L150.85,749.8 L150.85,751.5 L160.23,751.5 L160.23,753.4 L169.62,753.4 L169.62,743.3 L179,743.3 L179,738.9 L188.38,738.9 L188.38,738.9 L197.77,738.9 L197.77,716.9 L207.15,716.9 L207.15,739.5 L216.53,739.5 L216.53,756.5 L225.92,756.5 L225.92,757.8 L235.3,757.8 L235.3,759 L244.68,759 L244.68,759 L254.07,759 L254.07,760.3 L263.45,760.3 L263.45,758 L272.83,758 L272.83,757 L282.22,757 L282.22,755 L291.6,755 L291.6,753 L300.98,753 L300.98,752 L310.37,752 L310.37,751 L319.75,751 L319.75,752 L329.13,752 L329.13,753 L338.52,753 L338.52,752 L347.9,752 L347.9,751 L357.28,751 L357.28,752 L366.67,752 L366.67,751 L376.05,751 L376.05,752 L385.43,752 L385.43,735.8 L394.82,735.8 L394.82,753 L404.2,753 L404.2,752 L413.58,752 L413.58,751 L422.97,751 L422.97,750 L432.35,750 L432.35,752 L441.73,752 L441.73,751 L451.12,751 L451.12,752 L460.5,752 L460.5,750 L469.88,750 L469.88,752 L479.27,752 L479.27,728.2 L488.65,728.2 L488.65,752 L498.03,752 L498.03,753 L507.42,753 L507.42,754 L516.8,754" fill="none" stroke="#b33a36" stroke-width="1.6" stroke-linejoin="round" /><path d="M66.4,751.5 L75.78,751.5 L75.78,751.5 L85.17,751.5 L85.17,751.5 L94.55,751.5 L94.55,751.5 L103.93,751.5 L103.93,751.5 L113.32,751.5 L113.32,753.4 L122.7,753.4 L122.7,751.5 L132.08,751.5 L132.08,751.5 L141.47,751.5 L141.47,751.5 L150.85,751.5 L150.85,753.4 L160.23,753.4 L160.23,751.5 L169.62,751.5 L169.62,751.5 L179,751.5 L179,751 L188.38,751 L188.38,751 L197.77,751 L197.77,749.3 L207.15,749.3 L207.15,749.3 L216.53,749.3 L216.53,749.3 L225.92,749.3 L225.92,751.5 L235.3,751.5 L235.3,751.5 L244.68,751.5 L244.68,751.5 L254.07,751.5 L254.07,751.5 L263.45,751.5 L263.45,751.5 L272.83,751.5 L272.83,751.5 L282.22,751.5 L282.22,751.5 L291.6,751.5 L291.6,751.5 L300.98,751.5 L300.98,752 L310.37,752 L310.37,751.5 L319.75,751.5 L319.75,752.5 L329.13,752.5 L329.13,748.6 L338.52,748.6 L338.52,751.5 L347.9,751.5 L347.9,747.3 L357.28,747.3 L357.28,751.5 L366.67,751.5 L366.67,751.5 L376.05,751.5 L376.05,751.5 L385.43,751.5 L385.43,752.5 L394.82,752.5 L394.82,750 L404.2,750 L404.2,751.5 L413.58,751.5 L413.58,751.5 L422.97,751.5 L422.97,750.5 L432.35,750.5 L432.35,751.5 L441.73,751.5 L441.73,750.5 L451.12,750.5 L451.12,751.5 L460.5,751.5 L460.5,751.5 L469.88,751.5 L469.88,751.5 L479.27,751.5 L479.27,751.5 L488.65,751.5 L488.65,751.5 L498.03,751.5 L498.03,749 L507.42,749 L507.42,750 L516.8,750" fill="none" stroke="#7444d6" stroke-width="1.6" stroke-linejoin="round" /><path d="M197.77,756 H207.15 M207.15,679.2 H216.53 M207.15,756 V679.2 M216.53,612.6 H225.92 M216.53,679.2 V612.6 M225.92,641.5 H235.3 M225.92,612.6 V641.5 M235.3,757 H244.68 M235.3,641.5 V757" fill="none" stroke="#6f87d8" stroke-width="1.6" stroke-linecap="square"/><path d="M197.77,764.8 V756 M244.68,757 V764.8" fill="none" stroke="#6f87d8" stroke-width="1.6" stroke-dasharray="3,3"/><path d="M75.78,761 H85.17 M85.17,761 H94.55 M225.92,675.4 H235.3 M235.3,611.4 H244.68 M235.3,675.4 V611.4 M244.68,613.2 H254.07 M244.68,611.4 V613.2 M254.07,757 H263.45 M254.07,613.2 V757 M263.45,757 H272.83 M291.6,752 H300.98 M300.98,756 H310.37 M300.98,752 V756 M394.82,756 H404.2 M404.2,755 H413.58 M404.2,756 V755 M469.88,756 H479.27 M479.27,756 H488.65" fill="none" stroke="#57c17b" stroke-width="1.6" stroke-linecap="square"/><path d="M75.78,764.8 V761 M94.55,761 V764.8 M225.92,764.8 V675.4 M272.83,757 V764.8 M291.6,764.8 V752 M310.37,756 V764.8 M394.82,764.8 V756 M413.58,755 V764.8 M469.88,764.8 V756 M488.65,756 V764.8" fill="none" stroke="#57c17b" stroke-width="1.6" stroke-dasharray="3,3"/><path d="M132.08,761 H141.47 M272.83,736.4 H282.22 M282.22,684.9 H291.6 M282.22,736.4 V684.9 M291.6,701.2 H300.98 M291.6,684.9 V701.2 M300.98,757 H310.37 M300.98,701.2 V757 M498.03,758 H507.42" fill="none" stroke="#daa05d" stroke-width="1.6" stroke-linecap="square"/><path d="M132.08,764.8 V761 M141.47,761 V764.8 M272.83,764.8 V736.4 M310.37,757 V764.8 M498.03,764.8 V758 M507.42,758 V764.8" fill="none" stroke="#daa05d" stroke-width="1.6" stroke-dasharray="3,3"/><path d="M66.4,764.6 H516.8" stroke="#6f87d8" stroke-width="1.4" stroke-dasharray="4,4" stroke-dashoffset="4" fill="none"/><path d="M66.4,764.6 H516.8" stroke="#daa05d" stroke-width="1.4" stroke-dasharray="4,4" fill="none"/><path d="M66.4,764.6 H516.8" stroke="#daa05d" stroke-width="1.4" stroke-dasharray="4,4" fill="none"/><circle cx="552" cy="591.1" r="4" fill="#57c17b"/><text x="564" y="594.5" font-size="12.3" fill="#dfe5ef" text-anchor="start" font-weight="normal" >8000</text><rect x="610.9" y="585.3" width="4.2" height="3.2" rx="0.8" fill="#b4b9c2"/><rect x="611.9" y="586.6" width="2.2" height="0.7" fill="#3a3d45"/><rect x="610.9" y="589.6" width="4.2" height="3.8" rx="1.6" fill="#8a8f99"/><rect x="610.9" y="594.4" width="4.2" height="3.2" rx="0.8" fill="#b4b9c2"/><rect x="611.9" y="595.7" width="2.2" height="0.7" fill="#3a3d45"/><circle cx="552" cy="613" r="4" fill="#6f87d8"/><text x="564" y="616.4" font-size="12.3" fill="#dfe5ef" text-anchor="start" font-weight="normal" >7000</text><rect x="610.9" y="607.2" width="4.2" height="3.2" rx="0.8" fill="#b4b9c2"/><rect x="611.9" y="608.5" width="2.2" height="0.7" fill="#3a3d45"/><rect x="610.9" y="611.5" width="4.2" height="3.8" rx="1.6" fill="#8a8f99"/><rect x="610.9" y="616.3" width="4.2" height="3.2" rx="0.8" fill="#b4b9c2"/><rect x="611.9" y="617.6" width="2.2" height="0.7" fill="#3a3d45"/><circle cx="552" cy="634.9" r="4" fill="#b0403a"/><text x="564" y="638.3" font-size="12.3" fill="#dfe5ef" text-anchor="start" font-weight="normal" >22</text><rect x="610.9" y="629.1" width="4.2" height="3.2" rx="0.8" fill="#b4b9c2"/><rect x="611.9" y="630.4" width="2.2" height="0.7" fill="#3a3d45"/><rect x="610.9" y="633.4" width="4.2" height="3.8" rx="1.6" fill="#8a8f99"/><rect x="610.9" y="638.2" width="4.2" height="3.2" rx="0.8" fill="#b4b9c2"/><rect x="611.9" y="639.5" width="2.2" height="0.7" fill="#3a3d45"/><circle cx="552" cy="656.8" r="4" fill="#daa05d"/><text x="564" y="660.2" font-size="12.3" fill="#dfe5ef" text-anchor="start" font-weight="normal" >123</text><rect x="610.9" y="651" width="4.2" height="3.2" rx="0.8" fill="#b4b9c2"/><rect x="611.9" y="652.3" width="2.2" height="0.7" fill="#3a3d45"/><rect x="610.9" y="655.3" width="4.2" height="3.8" rx="1.6" fill="#8a8f99"/><rect x="610.9" y="660.1" width="4.2" height="3.2" rx="0.8" fill="#b4b9c2"/><rect x="611.9" y="661.4" width="2.2" height="0.7" fill="#3a3d45"/><circle cx="552" cy="678.7" r="4" fill="#7040c8"/><text x="564" y="682.1" font-size="12.3" fill="#dfe5ef" text-anchor="start" font-weight="normal" >25</text><rect x="610.9" y="672.9" width="4.2" height="3.2" rx="0.8" fill="#b4b9c2"/><rect x="611.9" y="674.2" width="2.2" height="0.7" fill="#3a3d45"/><rect x="610.9" y="677.2" width="4.2" height="3.8" rx="1.6" fill="#8a8f99"/><rect x="610.9" y="682" width="4.2" height="3.2" rx="0.8" fill="#b4b9c2"/><rect x="611.9" y="683.3" width="2.2" height="0.7" fill="#3a3d45"/><rect x="702.5" y="582" width="1" height="183.6" fill="#2d2f37"/><rect x="703" y="765.6" width="408.9" height="1" fill="#2d2f37"/><rect x="719.3" y="766.6" width="1" height="12" fill="#5a5f6b"/><text x="722.8" y="777.6" font-size="10.6" fill="#a7aebb" text-anchor="start" font-weight="normal" >18:00</text><rect x="818.2" y="766.6" width="1" height="22" fill="#5a5f6b"/><text x="821.7" y="777.6" font-size="10.6" fill="#a7aebb" text-anchor="start" font-weight="normal" >00:00</text><rect x="917.1" y="766.6" width="1" height="12" fill="#5a5f6b"/><text x="920.6" y="777.6" font-size="10.6" fill="#a7aebb" text-anchor="start" font-weight="normal" >06:00</text><rect x="1016" y="766.6" width="1" height="12" fill="#5a5f6b"/><text x="1019.5" y="777.6" font-size="10.6" fill="#a7aebb" text-anchor="start" font-weight="normal" >12:00</text><text x="705.5" y="788.1" font-size="10.6" fill="#a7aebb" text-anchor="start" font-weight="normal" >March 20, 2024</text><text x="821.7" y="788.1" font-size="10.6" fill="#a7aebb" text-anchor="start" font-weight="normal" >March 21, 2024</text><text x="693" y="586.3" font-size="10.6" fill="#a7aebb" text-anchor="end" font-weight="normal" >2,000</text><text x="693" y="610.82" font-size="10.6" fill="#a7aebb" text-anchor="end" font-weight="normal" >1,500</text><text x="693" y="639.9" font-size="10.6" fill="#a7aebb" text-anchor="end" font-weight="normal" >1,000</text><text x="693" y="677.8" font-size="10.6" fill="#a7aebb" text-anchor="end" font-weight="normal" >500</text><text x="693" y="769.3" font-size="10.6" fill="#a7aebb" text-anchor="end" font-weight="normal" >0</text><path d="M703,761.23 L711.27,765.59 L719.54,761.23 L727.81,765.59 L736.08,761.23 L744.35,765.59 L752.62,744.48 L760.9,765.59 L769.17,765.59 L777.44,765.59 L785.71,765.59 L793.98,765.59 L802.25,765.59 L810.52,765.59 L818.79,765.59 L827.06,765.59 L835.33,765.59 L843.6,744.48 L851.88,765.59 L860.15,765.59 L868.42,765.59 L876.69,761.23 L884.96,742.8 L893.23,765.59 L901.5,746.15 L909.77,765.59 L918.04,765.59 L926.31,761.23 L934.58,744.48 L942.85,765.59 L951.12,765.59 L959.4,765.59 L967.67,765.59 L975.94,765.59 L984.21,765.59 L992.48,761.23 L1000.75,765.59 L1009.02,746.15 L1017.29,765.59 L1025.56,765.59 L1033.83,765.59 L1042.1,761.23 L1050.38,741.13 L1058.65,743.81 L1066.92,765.59 L1075.19,765.59 L1083.46,765.59 L1091.73,759.56 L1100,765.59" fill="none" stroke="#c84596" stroke-width="1.6" stroke-linejoin="round" stroke-dasharray="4,4" /><path d="M703,751.85 L711.27,751.18 L719.54,751.85 L727.81,751.18 L736.08,752.86 L744.35,751.85 L752.62,751.85 L760.9,751.85 L769.17,752.86 L777.44,751.85 L785.71,751.85 L793.98,751.18 L802.25,751.18 L810.52,750.51 L818.79,749.84 L827.06,749.84 L835.33,751.18 L843.6,751.18 L851.88,751.18 L860.15,751.18 L868.42,751.18 L876.69,751.18 L884.96,751.85 L893.23,751.18 L901.5,751.18 L909.77,751.85 L918.04,751.18 L926.31,752.86 L934.58,750.51 L942.85,748.5 L951.12,751.18 L959.4,747.83 L967.67,751.18 L975.94,751.85 L984.21,752.86 L992.48,751.85 L1000.75,751.85 L1009.02,751.18 L1017.29,750.51 L1025.56,751.18 L1033.83,751.18 L1042.1,751.18 L1050.38,751.51 L1058.65,751.85 L1066.92,751.18 L1075.19,751.18 L1083.46,750.51 L1091.73,751.18 L1100,757.88" fill="none" stroke="#7a44d0" stroke-width="1.6" stroke-linejoin="round" /><path d="M703,757.88 L711.27,751.18 L719.54,753.86 L727.81,749.5 L736.08,756.21 L744.35,757.21 L752.62,756.54 L760.9,757.21 L769.17,756.54 L777.44,757.21 L785.71,759.22 L793.98,759.22 L802.25,757.88 L810.52,757.88 L818.79,757.88 L827.06,757.88 L835.33,751.18 L843.6,750.17 L851.88,750.17 L860.15,750.17 L868.42,749.84 L876.69,751.18 L884.96,734.42 L893.23,683.49 L901.5,699.24 L909.77,751.18 L918.04,751.18 L926.31,751.18 L934.58,751.85 L942.85,751.85 L951.12,751.18 L959.4,751.18 L967.67,749.5 L975.94,748.5 L984.21,748.5 L992.48,749.5 L1000.75,751.18 L1009.02,757.21 L1017.29,751.18 L1025.56,755.2 L1033.83,755.2 L1042.1,756.21 L1050.38,753.86 L1058.65,752.86 L1066.92,752.86 L1075.19,751.85 L1083.46,749.5 L1091.73,734.42 L1100,757.88" fill="none" stroke="#a4c640" stroke-width="1.6" stroke-linejoin="round" /><path d="M703,730.4 L711.27,727.72 L719.54,709.29 L727.81,729.4 L736.08,731.74 L744.35,702.59 L752.62,722.69 L760.9,731.74 L769.17,720.35 L777.44,733.75 L785.71,739.45 L793.98,721.02 L802.25,709.29 L810.52,700.24 L818.79,659.02 L827.06,704.26 L835.33,744.48 L843.6,735.09 L851.88,747.16 L860.15,733.75 L868.42,747.16 L876.69,739.45 L884.96,754.53 L893.23,735.09 L901.5,738.45 L909.77,727.72 L918.04,736.1 L926.31,731.74 L934.58,739.45 L942.85,738.45 L951.12,737.77 L959.4,733.08 L967.67,733.08 L975.94,733.08 L984.21,700.24 L992.48,737.1 L1000.75,729.4 L1009.02,710.29 L1017.29,737.1 L1025.56,731.07 L1033.83,733.75 L1042.1,722.69 L1050.38,739.45 L1058.65,720.35 L1066.92,676.78 L1075.19,732.08 L1083.46,728.73 L1091.73,739.45 L1100,759.56" fill="none" stroke="#40c0b0" stroke-width="1.6" stroke-linejoin="round" /><path d="M703,712.64 L711.27,702.59 L719.54,710.97 L727.81,717.67 L736.08,724.37 L744.35,722.69 L752.62,723.7 L760.9,721.69 L769.17,723.7 L777.44,725.04 L785.71,725.04 L793.98,725.04 L802.25,717.67 L810.52,723.7 L818.79,721.69 L827.06,637.24 L835.33,607.08 L843.6,605.74 L851.88,606.41 L860.15,606.41 L868.42,717 L876.69,721.69 L884.96,714.32 L893.23,715.32 L901.5,717.67 L909.77,722.69 L918.04,710.29 L926.31,714.32 L934.58,721.69 L942.85,721.02 L951.12,717.67 L959.4,718.34 L967.67,723.36 L975.94,722.69 L984.21,721.02 L992.48,717.67 L1000.75,720.35 L1009.02,713.65 L1017.29,717 L1025.56,713.65 L1033.83,711.97 L1042.1,715.99 L1050.38,715.99 L1058.65,719.34 L1066.92,722.02 L1075.19,715.32 L1083.46,714.32 L1091.73,716.33 L1100,736.1" fill="none" stroke="#70c040" stroke-width="1.6" stroke-linejoin="round" /><circle cx="1134.3" cy="591.1" r="4" fill="#70c040"/><text x="1146.4" y="594.5" font-size="12.3" fill="#dfe5ef" text-anchor="start" font-weight="normal" >Honeytrap</text><rect x="1247.9" y="585.3" width="4.2" height="3.2" rx="0.8" fill="#b4b9c2"/><rect x="1248.9" y="586.6" width="2.2" height="0.7" fill="#3a3d45"/><rect x="1247.9" y="589.6" width="4.2" height="3.8" rx="1.6" fill="#8a8f99"/><rect x="1247.9" y="594.4" width="4.2" height="3.2" rx="0.8" fill="#b4b9c2"/><rect x="1248.9" y="595.7" width="2.2" height="0.7" fill="#3a3d45"/><circle cx="1134.3" cy="613" r="4" fill="#40c0b0"/><text x="1146.4" y="616.4" font-size="12.3" fill="#dfe5ef" text-anchor="start" font-weight="normal" >Cowrie</text><rect x="1247.9" y="607.2" width="4.2" height="3.2" rx="0.8" fill="#b4b9c2"/><rect x="1248.9" y="608.5" width="2.2" height="0.7" fill="#3a3d45"/><rect x="1247.9" y="611.5" width="4.2" height="3.8" rx="1.6" fill="#8a8f99"/><rect x="1247.9" y="616.3" width="4.2" height="3.2" rx="0.8" fill="#b4b9c2"/><rect x="1248.9" y="617.6" width="2.2" height="0.7" fill="#3a3d45"/><circle cx="1134.3" cy="634.9" r="4" fill="#a4c640"/><text x="1146.4" y="638.3" font-size="12.3" fill="#dfe5ef" text-anchor="start" font-weight="normal" >Ddospot</text><rect x="1247.9" y="629.1" width="4.2" height="3.2" rx="0.8" fill="#b4b9c2"/><rect x="1248.9" y="630.4" width="2.2" height="0.7" fill="#3a3d45"/><rect x="1247.9" y="633.4" width="4.2" height="3.8" rx="1.6" fill="#8a8f99"/><rect x="1247.9" y="638.2" width="4.2" height="3.2" rx="0.8" fill="#b4b9c2"/><rect x="1248.9" y="639.5" width="2.2" height="0.7" fill="#3a3d45"/><circle cx="1134.3" cy="656.8" r="4" fill="#7a44d0"/><text x="1146.4" y="660.2" font-size="12.3" fill="#dfe5ef" text-anchor="start" font-weight="normal" >Mailoney</text><rect x="1247.9" y="651" width="4.2" height="3.2" rx="0.8" fill="#b4b9c2"/><rect x="1248.9" y="652.3" width="2.2" height="0.7" fill="#3a3d45"/><rect x="1247.9" y="655.3" width="4.2" height="3.8" rx="1.6" fill="#8a8f99"/><rect x="1247.9" y="660.1" width="4.2" height="3.2" rx="0.8" fill="#b4b9c2"/><rect x="1248.9" y="661.4" width="2.2" height="0.7" fill="#3a3d45"/><circle cx="1134.3" cy="678.7" r="4" fill="#c84596"/><text x="1146.4" y="682.1" font-size="12.3" fill="#dfe5ef" text-anchor="start" font-weight="normal" >Redishoneypot</text><rect x="1247.9" y="672.9" width="4.2" height="3.2" rx="0.8" fill="#b4b9c2"/><rect x="1248.9" y="674.2" width="2.2" height="0.7" fill="#3a3d45"/><rect x="1247.9" y="677.2" width="4.2" height="3.8" rx="1.6" fill="#8a8f99"/><rect x="1247.9" y="682" width="4.2" height="3.2" rx="0.8" fill="#b4b9c2"/><rect x="1248.9" y="683.3" width="2.2" height="0.7" fill="#3a3d45"/><rect x="1340.5" y="582" width="1" height="183.6" fill="#2d2f37"/><rect x="1341" y="765.6" width="398.2" height="1" fill="#2d2f37"/><rect x="1356" y="766.6" width="1" height="12" fill="#5a5f6b"/><text x="1359.5" y="777.6" font-size="10.6" fill="#a7aebb" text-anchor="start" font-weight="normal" >18:00</text><rect x="1453" y="766.6" width="1" height="22" fill="#5a5f6b"/><text x="1456.5" y="777.6" font-size="10.6" fill="#a7aebb" text-anchor="start" font-weight="normal" >00:00</text><rect x="1550" y="766.6" width="1" height="12" fill="#5a5f6b"/><text x="1553.5" y="777.6" font-size="10.6" fill="#a7aebb" text-anchor="start" font-weight="normal" >06:00</text><rect x="1647" y="766.6" width="1" height="12" fill="#5a5f6b"/><text x="1650.5" y="777.6" font-size="10.6" fill="#a7aebb" text-anchor="start" font-weight="normal" >12:00</text><text x="1343.5" y="788.1" font-size="10.6" fill="#a7aebb" text-anchor="start" font-weight="normal" >March 20, 2024</text><text x="1456.5" y="788.1" font-size="10.6" fill="#a7aebb" text-anchor="start" font-weight="normal" >March 21, 2024</text><text x="1331" y="586.3" font-size="10.6" fill="#a7aebb" text-anchor="end" font-weight="normal" >2,000</text><text x="1331" y="610.82" font-size="10.6" fill="#a7aebb" text-anchor="end" font-weight="normal" >1,500</text><text x="1331" y="639.9" font-size="10.6" fill="#a7aebb" text-anchor="end" font-weight="normal" >1,000</text><text x="1331" y="677.8" font-size="10.6" fill="#a7aebb" text-anchor="end" font-weight="normal" >500</text><text x="1331" y="769.3" font-size="10.6" fill="#a7aebb" text-anchor="end" font-weight="normal" >0</text><path d="M1341,765.6 L1341,731.07 L1349.07,727.05 L1357.14,727.05 L1365.22,721.02 L1373.29,725.04 L1381.36,724.37 L1389.43,727.05 L1397.5,727.05 L1405.57,727.05 L1413.65,732.75 L1421.72,735.09 L1429.79,735.09 L1437.86,725.04 L1445.93,725.04 L1454,731.07 L1462.08,643.27 L1470.15,608.75 L1478.22,609.09 L1486.29,607.75 L1494.36,609.76 L1502.44,730.4 L1510.51,735.09 L1518.58,732.75 L1526.65,730.4 L1534.72,728.39 L1542.79,730.4 L1550.87,727.72 L1558.94,730.4 L1567.01,731.07 L1575.08,729.4 L1583.15,727.05 L1591.22,728.39 L1599.3,731.07 L1607.37,731.07 L1615.44,733.75 L1623.51,733.75 L1631.58,730.4 L1639.66,727.72 L1647.73,729.4 L1655.8,730.4 L1663.87,731.74 L1671.94,732.75 L1680.01,734.42 L1688.09,732.75 L1696.16,724.37 L1704.23,735.09 L1712.3,732.75 L1720.37,721.02 L1728.45,749.5 L1728.45,765.6 Z" fill="#c24ec0" fill-opacity="0.3"/><path d="M1341,765.6 L1341,747.16 L1349.07,737.1 L1357.14,726.05 L1365.22,732.75 L1373.29,741.13 L1381.36,727.72 L1389.43,728.39 L1397.5,739.45 L1405.57,727.72 L1413.65,742.8 L1421.72,739.45 L1429.79,724.37 L1437.86,719.34 L1445.93,719.34 L1454,658.02 L1462.08,731.07 L1470.15,751.18 L1478.22,740.46 L1486.29,752.86 L1494.36,744.48 L1502.44,751.18 L1510.51,742.8 L1518.58,731.07 L1526.65,680.8 L1534.72,697.56 L1542.79,731.07 L1550.87,725.04 L1558.94,731.07 L1567.01,741.13 L1575.08,737.77 L1583.15,742.8 L1591.22,739.45 L1599.3,741.13 L1607.37,740.46 L1615.44,737.77 L1623.51,734.42 L1631.58,728.39 L1639.66,717.67 L1647.73,737.77 L1655.8,736.1 L1663.87,744.48 L1671.94,732.75 L1680.01,742.8 L1688.09,740.46 L1696.16,740.46 L1704.23,740.46 L1712.3,727.05 L1720.37,741.13 L1728.45,755.2 L1728.45,765.6 Z" fill="#8244d4" fill-opacity="0.3"/><path d="M1341,765.6 L1341,761.23 L1349.07,754.53 L1357.14,761.23 L1365.22,757.88 L1373.29,755.2 L1381.36,753.86 L1389.43,751.85 L1397.5,753.86 L1405.57,755.2 L1413.65,751.18 L1421.72,751.85 L1429.79,749.5 L1437.86,751.18 L1445.93,749.5 L1454,751.85 L1462.08,751.18 L1470.15,747.16 L1478.22,742.8 L1486.29,751.18 L1494.36,752.86 L1502.44,749.5 L1510.51,744.48 L1518.58,744.48 L1526.65,746.15 L1534.72,744.48 L1542.79,746.15 L1550.87,748.5 L1558.94,744.48 L1567.01,740.46 L1575.08,740.46 L1583.15,744.48 L1591.22,741.8 L1599.3,744.48 L1607.37,746.15 L1615.44,751.18 L1623.51,751.85 L1631.58,744.48 L1639.66,741.8 L1647.73,748.5 L1655.8,744.48 L1663.87,740.46 L1671.94,746.15 L1680.01,744.48 L1688.09,751.18 L1696.16,747.83 L1704.23,740.46 L1712.3,741.13 L1720.37,735.09 L1728.45,755.2 L1728.45,765.6 Z" fill="#c8406e" fill-opacity="0.25"/><path d="M1341,765.6 L1341,764.58 L1349.07,751.18 L1357.14,764.58 L1365.22,764.58 L1373.29,764.58 L1381.36,762.91 L1389.43,754.53 L1397.5,754.53 L1405.57,756.21 L1413.65,757.88 L1421.72,758.55 L1429.79,764.58 L1437.86,761.9 L1445.93,761.9 L1454,761.9 L1462.08,707.61 L1470.15,764.58 L1478.22,764.58 L1486.29,764.58 L1494.36,761.23 L1502.44,744.48 L1510.51,753.86 L1518.58,761.23 L1526.65,764.58 L1534.72,761.23 L1542.79,757.88 L1550.87,757.21 L1558.94,759.56 L1567.01,751.18 L1575.08,764.58 L1583.15,757.88 L1591.22,752.86 L1599.3,755.2 L1607.37,753.86 L1615.44,751.18 L1623.51,755.2 L1631.58,752.86 L1639.66,755.2 L1647.73,751.18 L1655.8,752.86 L1663.87,747.83 L1671.94,746.15 L1680.01,741.13 L1688.09,744.48 L1696.16,703.59 L1704.23,737.77 L1712.3,744.48 L1720.37,761.23 L1728.45,764.58 L1728.45,765.6 Z" fill="#40c080" fill-opacity="0.25"/><path d="M1341,765.6 L1341,751.18 L1349.07,748.5 L1357.14,750.51 L1365.22,752.52 L1373.29,752.52 L1381.36,748.5 L1389.43,749.5 L1397.5,751.18 L1405.57,741.13 L1413.65,751.18 L1421.72,750.51 L1429.79,747.83 L1437.86,749.5 L1445.93,751.18 L1454,747.83 L1462.08,747.16 L1470.15,749.5 L1478.22,748.5 L1486.29,751.18 L1494.36,751.85 L1502.44,744.48 L1510.51,749.5 L1518.58,751.18 L1526.65,744.48 L1534.72,748.5 L1542.79,747.83 L1550.87,747.16 L1558.94,749.5 L1567.01,751.18 L1575.08,753.86 L1583.15,749.5 L1591.22,751.18 L1599.3,741.13 L1607.37,752.86 L1615.44,749.5 L1623.51,747.16 L1631.58,751.18 L1639.66,753.86 L1647.73,749.5 L1655.8,747.83 L1663.87,744.48 L1671.94,736.1 L1680.01,749.5 L1688.09,751.18 L1696.16,751.18 L1704.23,751.85 L1712.3,753.86 L1720.37,753.86 L1728.45,757.88 L1728.45,765.6 Z" fill="#c8c040" fill-opacity="0.3"/><path d="M1341,731.07 L1349.07,727.05 L1357.14,727.05 L1365.22,721.02 L1373.29,725.04 L1381.36,724.37 L1389.43,727.05 L1397.5,727.05 L1405.57,727.05 L1413.65,732.75 L1421.72,735.09 L1429.79,735.09 L1437.86,725.04 L1445.93,725.04 L1454,731.07 L1462.08,643.27 L1470.15,608.75 L1478.22,609.09 L1486.29,607.75 L1494.36,609.76 L1502.44,730.4 L1510.51,735.09 L1518.58,732.75 L1526.65,730.4 L1534.72,728.39 L1542.79,730.4 L1550.87,727.72 L1558.94,730.4 L1567.01,731.07 L1575.08,729.4 L1583.15,727.05 L1591.22,728.39 L1599.3,731.07 L1607.37,731.07 L1615.44,733.75 L1623.51,733.75 L1631.58,730.4 L1639.66,727.72 L1647.73,729.4 L1655.8,730.4 L1663.87,731.74 L1671.94,732.75 L1680.01,734.42 L1688.09,732.75 L1696.16,724.37 L1704.23,735.09 L1712.3,732.75 L1720.37,721.02 L1728.45,749.5" fill="none" stroke="#c24ec0" stroke-width="1.5" stroke-linejoin="round" /><path d="M1341,747.16 L1349.07,737.1 L1357.14,726.05 L1365.22,732.75 L1373.29,741.13 L1381.36,727.72 L1389.43,728.39 L1397.5,739.45 L1405.57,727.72 L1413.65,742.8 L1421.72,739.45 L1429.79,724.37 L1437.86,719.34 L1445.93,719.34 L1454,658.02 L1462.08,731.07 L1470.15,751.18 L1478.22,740.46 L1486.29,752.86 L1494.36,744.48 L1502.44,751.18 L1510.51,742.8 L1518.58,731.07 L1526.65,680.8 L1534.72,697.56 L1542.79,731.07 L1550.87,725.04 L1558.94,731.07 L1567.01,741.13 L1575.08,737.77 L1583.15,742.8 L1591.22,739.45 L1599.3,741.13 L1607.37,740.46 L1615.44,737.77 L1623.51,734.42 L1631.58,728.39 L1639.66,717.67 L1647.73,737.77 L1655.8,736.1 L1663.87,744.48 L1671.94,732.75 L1680.01,742.8 L1688.09,740.46 L1696.16,740.46 L1704.23,740.46 L1712.3,727.05 L1720.37,741.13 L1728.45,755.2" fill="none" stroke="#8244d4" stroke-width="1.5" stroke-linejoin="round" /><path d="M1341,761.23 L1349.07,754.53 L1357.14,761.23 L1365.22,757.88 L1373.29,755.2 L1381.36,753.86 L1389.43,751.85 L1397.5,753.86 L1405.57,755.2 L1413.65,751.18 L1421.72,751.85 L1429.79,749.5 L1437.86,751.18 L1445.93,749.5 L1454,751.85 L1462.08,751.18 L1470.15,747.16 L1478.22,742.8 L1486.29,751.18 L1494.36,752.86 L1502.44,749.5 L1510.51,744.48 L1518.58,744.48 L1526.65,746.15 L1534.72,744.48 L1542.79,746.15 L1550.87,748.5 L1558.94,744.48 L1567.01,740.46 L1575.08,740.46 L1583.15,744.48 L1591.22,741.8 L1599.3,744.48 L1607.37,746.15 L1615.44,751.18 L1623.51,751.85 L1631.58,744.48 L1639.66,741.8 L1647.73,748.5 L1655.8,744.48 L1663.87,740.46 L1671.94,746.15 L1680.01,744.48 L1688.09,751.18 L1696.16,747.83 L1704.23,740.46 L1712.3,741.13 L1720.37,735.09 L1728.45,755.2" fill="none" stroke="#c8406e" stroke-width="1.5" stroke-linejoin="round" /><path d="M1341,764.58 L1349.07,751.18 L1357.14,764.58 L1365.22,764.58 L1373.29,764.58 L1381.36,762.91 L1389.43,754.53 L1397.5,754.53 L1405.57,756.21 L1413.65,757.88 L1421.72,758.55 L1429.79,764.58 L1437.86,761.9 L1445.93,761.9 L1454,761.9 L1462.08,707.61 L1470.15,764.58 L1478.22,764.58 L1486.29,764.58 L1494.36,761.23 L1502.44,744.48 L1510.51,753.86 L1518.58,761.23 L1526.65,764.58 L1534.72,761.23 L1542.79,757.88 L1550.87,757.21 L1558.94,759.56 L1567.01,751.18 L1575.08,764.58 L1583.15,757.88 L1591.22,752.86 L1599.3,755.2 L1607.37,753.86 L1615.44,751.18 L1623.51,755.2 L1631.58,752.86 L1639.66,755.2 L1647.73,751.18 L1655.8,752.86 L1663.87,747.83 L1671.94,746.15 L1680.01,741.13 L1688.09,744.48 L1696.16,703.59 L1704.23,737.77 L1712.3,744.48 L1720.37,761.23 L1728.45,764.58" fill="none" stroke="#40c080" stroke-width="1.5" stroke-linejoin="round" /><path d="M1341,751.18 L1349.07,748.5 L1357.14,750.51 L1365.22,752.52 L1373.29,752.52 L1381.36,748.5 L1389.43,749.5 L1397.5,751.18 L1405.57,741.13 L1413.65,751.18 L1421.72,750.51 L1429.79,747.83 L1437.86,749.5 L1445.93,751.18 L1454,747.83 L1462.08,747.16 L1470.15,749.5 L1478.22,748.5 L1486.29,751.18 L1494.36,751.85 L1502.44,744.48 L1510.51,749.5 L1518.58,751.18 L1526.65,744.48 L1534.72,748.5 L1542.79,747.83 L1550.87,747.16 L1558.94,749.5 L1567.01,751.18 L1575.08,753.86 L1583.15,749.5 L1591.22,751.18 L1599.3,741.13 L1607.37,752.86 L1615.44,749.5 L1623.51,747.16 L1631.58,751.18 L1639.66,753.86 L1647.73,749.5 L1655.8,747.83 L1663.87,744.48 L1671.94,736.1 L1680.01,749.5 L1688.09,751.18 L1696.16,751.18 L1704.23,751.85 L1712.3,753.86 L1720.37,753.86 L1728.45,757.88" fill="none" stroke="#c8c040" stroke-width="1.5" stroke-linejoin="round" /><circle cx="1762" cy="591.1" r="4" fill="#c24ec0"/><text x="1774.3" y="594.5" font-size="12.3" fill="#dfe5ef" text-anchor="start" font-weight="normal" >United States</text><rect x="1886.2" y="585.3" width="4.2" height="3.2" rx="0.8" fill="#b4b9c2"/><rect x="1887.2" y="586.6" width="2.2" height="0.7" fill="#3a3d45"/><rect x="1886.2" y="589.6" width="4.2" height="3.8" rx="1.6" fill="#8a8f99"/><rect x="1886.2" y="594.4" width="4.2" height="3.2" rx="0.8" fill="#b4b9c2"/><rect x="1887.2" y="595.7" width="2.2" height="0.7" fill="#3a3d45"/><circle cx="1762" cy="613" r="4" fill="#8244d4"/><text x="1774.3" y="616.4" font-size="12.3" fill="#dfe5ef" text-anchor="start" font-weight="normal" >China</text><rect x="1886.2" y="607.2" width="4.2" height="3.2" rx="0.8" fill="#b4b9c2"/><rect x="1887.2" y="608.5" width="2.2" height="0.7" fill="#3a3d45"/><rect x="1886.2" y="611.5" width="4.2" height="3.8" rx="1.6" fill="#8a8f99"/><rect x="1886.2" y="616.3" width="4.2" height="3.2" rx="0.8" fill="#b4b9c2"/><rect x="1887.2" y="617.6" width="2.2" height="0.7" fill="#3a3d45"/><circle cx="1762" cy="634.9" r="4" fill="#c8406e"/><text x="1774.3" y="638.3" font-size="12.3" fill="#dfe5ef" text-anchor="start" font-weight="normal" >United Kingdom</text><rect x="1886.2" y="629.1" width="4.2" height="3.2" rx="0.8" fill="#b4b9c2"/><rect x="1887.2" y="630.4" width="2.2" height="0.7" fill="#3a3d45"/><rect x="1886.2" y="633.4" width="4.2" height="3.8" rx="1.6" fill="#8a8f99"/><rect x="1886.2" y="638.2" width="4.2" height="3.2" rx="0.8" fill="#b4b9c2"/><rect x="1887.2" y="639.5" width="2.2" height="0.7" fill="#3a3d45"/><circle cx="1762" cy="656.8" r="4" fill="#40c080"/><text x="1774.3" y="660.2" font-size="12.3" fill="#dfe5ef" text-anchor="start" font-weight="normal" >Hong Kong</text><rect x="1886.2" y="651" width="4.2" height="3.2" rx="0.8" fill="#b4b9c2"/><rect x="1887.2" y="652.3" width="2.2" height="0.7" fill="#3a3d45"/><rect x="1886.2" y="655.3" width="4.2" height="3.8" rx="1.6" fill="#8a8f99"/><rect x="1886.2" y="660.1" width="4.2" height="3.2" rx="0.8" fill="#b4b9c2"/><rect x="1887.2" y="661.4" width="2.2" height="0.7" fill="#3a3d45"/><circle cx="1762" cy="678.7" r="4" fill="#c8c040"/><text x="1774.3" y="682.1" font-size="12.3" fill="#dfe5ef" text-anchor="start" font-weight="normal" >The Netherlands</text><rect x="1886.2" y="672.9" width="4.2" height="3.2" rx="0.8" fill="#b4b9c2"/><rect x="1887.2" y="674.2" width="2.2" height="0.7" fill="#3a3d45"/><rect x="1886.2" y="677.2" width="4.2" height="3.8" rx="1.6" fill="#8a8f99"/><rect x="1886.2" y="682" width="4.2" height="3.2" rx="0.8" fill="#b4b9c2"/><rect x="1887.2" y="683.3" width="2.2" height="0.7" fill="#3a3d45"/><path d="M161.4,858.5 A105.5,105.5 0 0 1 229.5,883.42 L182.05,939.56 A32,32 0 0 0 161.4,932 Z" fill="#41bf4b" stroke="#1d1e24" stroke-width="1.6" stroke-linejoin="round"/><path d="M229.5,883.42 A105.5,105.5 0 1 1 161.4,858.5 L161.4,932 A32,32 0 1 0 182.05,939.56 Z" fill="#c04253" stroke="#1d1e24" stroke-width="1.6" stroke-linejoin="round"/><circle cx="325" cy="860.6" r="4" fill="#c04253"/><text x="337.3" y="864" font-size="12.3" fill="#dfe5ef" text-anchor="start" font-weight="normal" >known attacker</text><rect x="451.8" y="854.8" width="4.2" height="3.2" rx="0.8" fill="#b4b9c2"/><rect x="452.8" y="856.1" width="2.2" height="0.7" fill="#3a3d45"/><rect x="451.8" y="859.1" width="4.2" height="3.8" rx="1.6" fill="#8a8f99"/><rect x="451.8" y="863.9" width="4.2" height="3.2" rx="0.8" fill="#b4b9c2"/><rect x="452.8" y="865.2" width="2.2" height="0.7" fill="#3a3d45"/><circle cx="325" cy="882.6" r="4" fill="#41bf4b"/><text x="337.3" y="886" font-size="12.3" fill="#dfe5ef" text-anchor="start" font-weight="normal" >mass scanner</text><rect x="451.8" y="876.8" width="4.2" height="3.2" rx="0.8" fill="#b4b9c2"/><rect x="452.8" y="878.1" width="2.2" height="0.7" fill="#3a3d45"/><rect x="451.8" y="881.1" width="4.2" height="3.8" rx="1.6" fill="#8a8f99"/><rect x="451.8" y="885.9" width="4.2" height="3.2" rx="0.8" fill="#b4b9c2"/><rect x="452.8" y="887.2" width="2.2" height="0.7" fill="#3a3d45"/><circle cx="325" cy="904.6" r="4" fill="#c4903c"/><text x="337.3" y="908" font-size="12.3" fill="#dfe5ef" text-anchor="start" font-weight="normal" >bot, crawler</text><rect x="451.8" y="898.8" width="4.2" height="3.2" rx="0.8" fill="#b4b9c2"/><rect x="452.8" y="900.1" width="2.2" height="0.7" fill="#3a3d45"/><rect x="451.8" y="903.1" width="4.2" height="3.8" rx="1.6" fill="#8a8f99"/><rect x="451.8" y="907.9" width="4.2" height="3.2" rx="0.8" fill="#b4b9c2"/><rect x="452.8" y="909.2" width="2.2" height="0.7" fill="#3a3d45"/><circle cx="325" cy="926.6" r="4" fill="#4070c8"/><text x="337.3" y="930" font-size="12.3" fill="#dfe5ef" text-anchor="start" font-weight="normal" >tor exit node</text><rect x="451.8" y="920.8" width="4.2" height="3.2" rx="0.8" fill="#b4b9c2"/><rect x="452.8" y="922.1" width="2.2" height="0.7" fill="#3a3d45"/><rect x="451.8" y="925.1" width="4.2" height="3.8" rx="1.6" fill="#8a8f99"/><rect x="451.8" y="929.9" width="4.2" height="3.2" rx="0.8" fill="#b4b9c2"/><rect x="452.8" y="931.2" width="2.2" height="0.7" fill="#3a3d45"/><path d="M633.05,867.1 A96.8,96.8 0 0 1 729.85,963.9 L662.35,963.9 A29.3,29.3 0 0 0 633.05,934.6 Z" fill="#40bfac" stroke="#1d1e24" stroke-width="1.3" stroke-linejoin="round"/><path d="M729.85,963.9 A96.8,96.8 0 0 1 723.11,999.38 L660.31,974.64 A29.3,29.3 0 0 0 662.35,963.9 Z" fill="#a0c040" stroke="#1d1e24" stroke-width="1.3" stroke-linejoin="round"/><path d="M723.11,999.38 A96.8,96.8 0 0 1 715.41,1014.77 L657.98,979.3 A29.3,29.3 0 0 0 660.31,974.64 Z" fill="#7040c0" stroke="#1d1e24" stroke-width="1.3" stroke-linejoin="round"/><path d="M715.41,1014.77 A96.8,96.8 0 0 1 710.76,1021.61 L656.57,981.37 A29.3,29.3 0 0 0 657.98,979.3 Z" fill="#c04088" stroke="#1d1e24" stroke-width="1.3" stroke-linejoin="round"/><path d="M710.76,1021.61 A96.8,96.8 0 0 1 706.11,1027.41 L655.16,983.12 A29.3,29.3 0 0 0 656.57,981.37 Z" fill="#40c078" stroke="#1d1e24" stroke-width="1.3" stroke-linejoin="round"/><path d="M706.11,1027.41 A96.8,96.8 0 0 1 702.45,1031.39 L654.06,984.33 A29.3,29.3 0 0 0 655.16,983.12 Z" fill="#c0b440" stroke="#1d1e24" stroke-width="1.3" stroke-linejoin="round"/><path d="M702.45,1031.39 A96.8,96.8 0 0 1 700.29,1033.53 L653.4,984.98 A29.3,29.3 0 0 0 654.06,984.33 Z" fill="#4044c0" stroke="#1d1e24" stroke-width="0.35" stroke-linejoin="round"/><path d="M700.29,1033.53 A96.8,96.8 0 0 1 699.56,1034.23 L653.18,985.19 A29.3,29.3 0 0 0 653.4,984.98 Z" fill="#c06040" stroke="#1d1e24" stroke-width="0.35" stroke-linejoin="round"/><path d="M699.56,1034.23 A96.8,96.8 0 0 1 698.82,1034.93 L652.96,985.4 A29.3,29.3 0 0 0 653.18,985.19 Z" fill="#40a8c0" stroke="#1d1e24" stroke-width="0.35" stroke-linejoin="round"/><path d="M698.82,1034.93 A96.8,96.8 0 1 1 633.05,867.1 L633.05,934.6 A29.3,29.3 0 1 0 652.96,985.4 Z" fill="#6cc040" stroke="#1d1e24" stroke-width="1.3" stroke-linejoin="round"/><circle cx="789.9" cy="860.6" r="4" fill="#6cc040"/><text x="802.2" y="864" font-size="12.3" fill="#dfe5ef" text-anchor="start" font-weight="normal" >Honeytrap</text><rect x="929.5" y="854.8" width="4.2" height="3.2" rx="0.8" fill="#b4b9c2"/><rect x="930.5" y="856.1" width="2.2" height="0.7" fill="#3a3d45"/><rect x="929.5" y="859.1" width="4.2" height="3.8" rx="1.6" fill="#8a8f99"/><rect x="929.5" y="863.9" width="4.2" height="3.2" rx="0.8" fill="#b4b9c2"/><rect x="930.5" y="865.2" width="2.2" height="0.7" fill="#3a3d45"/><circle cx="789.9" cy="882.6" r="4" fill="#40bfac"/><text x="802.2" y="886" font-size="12.3" fill="#dfe5ef" text-anchor="start" font-weight="normal" >Cowrie</text><rect x="929.5" y="876.8" width="4.2" height="3.2" rx="0.8" fill="#b4b9c2"/><rect x="930.5" y="878.1" width="2.2" height="0.7" fill="#3a3d45"/><rect x="929.5" y="881.1" width="4.2" height="3.8" rx="1.6" fill="#8a8f99"/><rect x="929.5" y="885.9" width="4.2" height="3.2" rx="0.8" fill="#b4b9c2"/><rect x="930.5" y="887.2" width="2.2" height="0.7" fill="#3a3d45"/><circle cx="789.9" cy="904.6" r="4" fill="#a0c040"/><text x="802.2" y="908" font-size="12.3" fill="#dfe5ef" text-anchor="start" font-weight="normal" >Ddospot</text><rect x="929.5" y="898.8" width="4.2" height="3.2" rx="0.8" fill="#b4b9c2"/><rect x="930.5" y="900.1" width="2.2" height="0.7" fill="#3a3d45"/><rect x="929.5" y="903.1" width="4.2" height="3.8" rx="1.6" fill="#8a8f99"/><rect x="929.5" y="907.9" width="4.2" height="3.2" rx="0.8" fill="#b4b9c2"/><rect x="930.5" y="909.2" width="2.2" height="0.7" fill="#3a3d45"/><circle cx="789.9" cy="926.6" r="4" fill="#7040c0"/><text x="802.2" y="930" font-size="12.3" fill="#dfe5ef" text-anchor="start" font-weight="normal" >Mailoney</text><rect x="929.5" y="920.8" width="4.2" height="3.2" rx="0.8" fill="#b4b9c2"/><rect x="930.5" y="922.1" width="2.2" height="0.7" fill="#3a3d45"/><rect x="929.5" y="925.1" width="4.2" height="3.8" rx="1.6" fill="#8a8f99"/><rect x="929.5" y="929.9" width="4.2" height="3.2" rx="0.8" fill="#b4b9c2"/><rect x="930.5" y="931.2" width="2.2" height="0.7" fill="#3a3d45"/><circle cx="789.9" cy="948.6" r="4" fill="#c04088"/><text x="802.2" y="952" font-size="12.3" fill="#dfe5ef" text-anchor="start" font-weight="normal" >Redishoneypot</text><rect x="929.5" y="942.8" width="4.2" height="3.2" rx="0.8" fill="#b4b9c2"/><rect x="930.5" y="944.1" width="2.2" height="0.7" fill="#3a3d45"/><rect x="929.5" y="947.1" width="4.2" height="3.8" rx="1.6" fill="#8a8f99"/><rect x="929.5" y="951.9" width="4.2" height="3.2" rx="0.8" fill="#b4b9c2"/><rect x="930.5" y="953.2" width="2.2" height="0.7" fill="#3a3d45"/><circle cx="789.9" cy="970.6" r="4" fill="#40c078"/><text x="802.2" y="974" font-size="12.3" fill="#dfe5ef" text-anchor="start" font-weight="normal" >Adbhoney</text><rect x="929.5" y="964.8" width="4.2" height="3.2" rx="0.8" fill="#b4b9c2"/><rect x="930.5" y="966.1" width="2.2" height="0.7" fill="#3a3d45"/><rect x="929.5" y="969.1" width="4.2" height="3.8" rx="1.6" fill="#8a8f99"/><rect x="929.5" y="973.9" width="4.2" height="3.2" rx="0.8" fill="#b4b9c2"/><rect x="930.5" y="975.2" width="2.2" height="0.7" fill="#3a3d45"/><circle cx="789.9" cy="992.6" r="4" fill="#c0b440"/><text x="802.2" y="996" font-size="12.3" fill="#dfe5ef" text-anchor="start" font-weight="normal" >Dionaea</text><rect x="929.5" y="986.8" width="4.2" height="3.2" rx="0.8" fill="#b4b9c2"/><rect x="930.5" y="988.1" width="2.2" height="0.7" fill="#3a3d45"/><rect x="929.5" y="991.1" width="4.2" height="3.8" rx="1.6" fill="#8a8f99"/><rect x="929.5" y="995.9" width="4.2" height="3.2" rx="0.8" fill="#b4b9c2"/><rect x="930.5" y="997.2" width="2.2" height="0.7" fill="#3a3d45"/><circle cx="789.9" cy="1014.6" r="4" fill="#4044c0"/><text x="802.2" y="1018" font-size="12.3" fill="#dfe5ef" text-anchor="start" font-weight="normal" >ConPot</text><rect x="929.5" y="1008.8" width="4.2" height="3.2" rx="0.8" fill="#b4b9c2"/><rect x="930.5" y="1010.1" width="2.2" height="0.7" fill="#3a3d45"/><rect x="929.5" y="1013.1" width="4.2" height="3.8" rx="1.6" fill="#8a8f99"/><rect x="929.5" y="1017.9" width="4.2" height="3.2" rx="0.8" fill="#b4b9c2"/><rect x="930.5" y="1019.2" width="2.2" height="0.7" fill="#3a3d45"/><circle cx="789.9" cy="1036.6" r="4" fill="#c06040"/><text x="802.2" y="1040" font-size="12.3" fill="#dfe5ef" text-anchor="start" font-weight="normal" >Ciscoasa</text><rect x="929.5" y="1030.8" width="4.2" height="3.2" rx="0.8" fill="#b4b9c2"/><rect x="930.5" y="1032.1" width="2.2" height="0.7" fill="#3a3d45"/><rect x="929.5" y="1035.1" width="4.2" height="3.8" rx="1.6" fill="#8a8f99"/><rect x="929.5" y="1039.9" width="4.2" height="3.2" rx="0.8" fill="#b4b9c2"/><rect x="930.5" y="1041.2" width="2.2" height="0.7" fill="#3a3d45"/><circle cx="789.9" cy="1058.6" r="4" fill="#40a8c0"/><text x="802.2" y="1062" font-size="12.3" fill="#dfe5ef" text-anchor="start" font-weight="normal" >Heralding</text><rect x="929.5" y="1052.8" width="4.2" height="3.2" rx="0.8" fill="#b4b9c2"/><rect x="930.5" y="1054.1" width="2.2" height="0.7" fill="#3a3d45"/><rect x="929.5" y="1057.1" width="4.2" height="3.8" rx="1.6" fill="#8a8f99"/><rect x="929.5" y="1061.9" width="4.2" height="3.2" rx="0.8" fill="#b4b9c2"/><rect x="930.5" y="1063.2" width="2.2" height="0.7" fill="#3a3d45"/><path d="M1103.05,867.1 A96.8,96.8 0 0 1 1198.44,980.38 L1131.82,968.87 A29.2,29.2 0 0 0 1103.05,934.7 Z" fill="#54b399" stroke="#1d1e24" stroke-width="1.3" stroke-linejoin="round"/><path d="M1198.44,980.38 A96.8,96.8 0 0 1 1103.05,1060.7 L1103.05,993.1 A29.2,29.2 0 0 0 1131.82,968.87 Z" fill="#6092c0" stroke="#1d1e24" stroke-width="1.3" stroke-linejoin="round"/><path d="M1103.05,1060.7 A96.8,96.8 0 0 1 1034.6,1032.35 L1082.4,984.55 A29.2,29.2 0 0 0 1103.05,993.1 Z" fill="#d36086" stroke="#1d1e24" stroke-width="1.3" stroke-linejoin="round"/><path d="M1034.6,1032.35 A96.8,96.8 0 0 1 1016.42,1007.09 L1076.92,976.93 A29.2,29.2 0 0 0 1082.4,984.55 Z" fill="#9170b8" stroke="#1d1e24" stroke-width="1.3" stroke-linejoin="round"/><path d="M1016.42,1007.09 A96.8,96.8 0 0 1 1013.17,999.85 L1075.94,974.74 A29.2,29.2 0 0 0 1076.92,976.93 Z" fill="#ca8eae" stroke="#1d1e24" stroke-width="1.3" stroke-linejoin="round"/><path d="M1013.17,999.85 A96.8,96.8 0 0 1 1012.68,998.59 L1075.79,974.36 A29.2,29.2 0 0 0 1075.94,974.74 Z" fill="#d6bf57" stroke="#1d1e24" stroke-width="0.35" stroke-linejoin="round"/><path d="M1012.68,998.59 A96.8,96.8 0 0 1 1012.32,997.64 L1075.68,974.08 A29.2,29.2 0 0 0 1075.79,974.36 Z" fill="#b9a888" stroke="#1d1e24" stroke-width="0.35" stroke-linejoin="round"/><path d="M1012.32,997.64 A96.8,96.8 0 0 1 1012.03,996.85 L1075.59,973.84 A29.2,29.2 0 0 0 1075.68,974.08 Z" fill="#da8b45" stroke="#1d1e24" stroke-width="0.35" stroke-linejoin="round"/><path d="M1012.03,996.85 A96.8,96.8 0 0 1 1011.75,996.05 L1075.51,973.6 A29.2,29.2 0 0 0 1075.59,973.84 Z" fill="#aa6556" stroke="#1d1e24" stroke-width="0.35" stroke-linejoin="round"/><path d="M1011.75,996.05 A96.8,96.8 0 0 1 1103.05,867.1 L1103.05,934.7 A29.2,29.2 0 0 0 1075.51,973.6 Z" fill="#e7664c" stroke="#1d1e24" stroke-width="1.3" stroke-linejoin="round"/><circle cx="1252" cy="860.6" r="4" fill="#e7664c"/><text x="1264.4" y="864" font-size="12.3" fill="#dfe5ef" text-anchor="start" font-weight="normal" >Linux 2.2.x-3.x</text><rect x="1407.4" y="854.8" width="4.2" height="3.2" rx="0.8" fill="#b4b9c2"/><rect x="1408.4" y="856.1" width="2.2" height="0.7" fill="#3a3d45"/><rect x="1407.4" y="859.1" width="4.2" height="3.8" rx="1.6" fill="#8a8f99"/><rect x="1407.4" y="863.9" width="4.2" height="3.2" rx="0.8" fill="#b4b9c2"/><rect x="1408.4" y="865.2" width="2.2" height="0.7" fill="#3a3d45"/><circle cx="1252" cy="882.6" r="4" fill="#54b399"/><text x="1264.4" y="886" font-size="12.3" fill="#dfe5ef" text-anchor="start" font-weight="normal" >Linux 2.2.x-3.x (bare...</text><rect x="1407.4" y="876.8" width="4.2" height="3.2" rx="0.8" fill="#b4b9c2"/><rect x="1408.4" y="878.1" width="2.2" height="0.7" fill="#3a3d45"/><rect x="1407.4" y="881.1" width="4.2" height="3.8" rx="1.6" fill="#8a8f99"/><rect x="1407.4" y="885.9" width="4.2" height="3.2" rx="0.8" fill="#b4b9c2"/><rect x="1408.4" y="887.2" width="2.2" height="0.7" fill="#3a3d45"/><circle cx="1252" cy="904.6" r="4" fill="#6092c0"/><text x="1264.4" y="908" font-size="12.3" fill="#dfe5ef" text-anchor="start" font-weight="normal" >Windows 7 or 8</text><rect x="1407.4" y="898.8" width="4.2" height="3.2" rx="0.8" fill="#b4b9c2"/><rect x="1408.4" y="900.1" width="2.2" height="0.7" fill="#3a3d45"/><rect x="1407.4" y="903.1" width="4.2" height="3.8" rx="1.6" fill="#8a8f99"/><rect x="1407.4" y="907.9" width="4.2" height="3.2" rx="0.8" fill="#b4b9c2"/><rect x="1408.4" y="909.2" width="2.2" height="0.7" fill="#3a3d45"/><circle cx="1252" cy="926.6" r="4" fill="#d36086"/><text x="1264.4" y="930" font-size="12.3" fill="#dfe5ef" text-anchor="start" font-weight="normal" >Mac OS X</text><rect x="1407.4" y="920.8" width="4.2" height="3.2" rx="0.8" fill="#b4b9c2"/><rect x="1408.4" y="922.1" width="2.2" height="0.7" fill="#3a3d45"/><rect x="1407.4" y="925.1" width="4.2" height="3.8" rx="1.6" fill="#8a8f99"/><rect x="1407.4" y="929.9" width="4.2" height="3.2" rx="0.8" fill="#b4b9c2"/><rect x="1408.4" y="931.2" width="2.2" height="0.7" fill="#3a3d45"/><circle cx="1252" cy="948.6" r="4" fill="#9170b8"/><text x="1264.4" y="952" font-size="12.3" fill="#dfe5ef" text-anchor="start" font-weight="normal" >Linux 3.11 and newer</text><rect x="1407.4" y="942.8" width="4.2" height="3.2" rx="0.8" fill="#b4b9c2"/><rect x="1408.4" y="944.1" width="2.2" height="0.7" fill="#3a3d45"/><rect x="1407.4" y="947.1" width="4.2" height="3.8" rx="1.6" fill="#8a8f99"/><rect x="1407.4" y="951.9" width="4.2" height="3.2" rx="0.8" fill="#b4b9c2"/><rect x="1408.4" y="953.2" width="2.2" height="0.7" fill="#3a3d45"/><circle cx="1252" cy="970.6" r="4" fill="#ca8eae"/><text x="1264.4" y="974" font-size="12.3" fill="#dfe5ef" text-anchor="start" font-weight="normal" >Windows NT kernel</text><rect x="1407.4" y="964.8" width="4.2" height="3.2" rx="0.8" fill="#b4b9c2"/><rect x="1408.4" y="966.1" width="2.2" height="0.7" fill="#3a3d45"/><rect x="1407.4" y="969.1" width="4.2" height="3.8" rx="1.6" fill="#8a8f99"/><rect x="1407.4" y="973.9" width="4.2" height="3.2" rx="0.8" fill="#b4b9c2"/><rect x="1408.4" y="975.2" width="2.2" height="0.7" fill="#3a3d45"/><circle cx="1252" cy="992.6" r="4" fill="#d6bf57"/><text x="1264.4" y="996" font-size="12.3" fill="#dfe5ef" text-anchor="start" font-weight="normal" >Linux 3.1-3.10</text><rect x="1407.4" y="986.8" width="4.2" height="3.2" rx="0.8" fill="#b4b9c2"/><rect x="1408.4" y="988.1" width="2.2" height="0.7" fill="#3a3d45"/><rect x="1407.4" y="991.1" width="4.2" height="3.8" rx="1.6" fill="#8a8f99"/><rect x="1407.4" y="995.9" width="4.2" height="3.2" rx="0.8" fill="#b4b9c2"/><rect x="1408.4" y="997.2" width="2.2" height="0.7" fill="#3a3d45"/><circle cx="1252" cy="1014.6" r="4" fill="#b9a888"/><text x="1264.4" y="1018" font-size="12.3" fill="#dfe5ef" text-anchor="start" font-weight="normal" >Linux 2.4.x</text><rect x="1407.4" y="1008.8" width="4.2" height="3.2" rx="0.8" fill="#b4b9c2"/><rect x="1408.4" y="1010.1" width="2.2" height="0.7" fill="#3a3d45"/><rect x="1407.4" y="1013.1" width="4.2" height="3.8" rx="1.6" fill="#8a8f99"/><rect x="1407.4" y="1017.9" width="4.2" height="3.2" rx="0.8" fill="#b4b9c2"/><rect x="1408.4" y="1019.2" width="2.2" height="0.7" fill="#3a3d45"/><circle cx="1252" cy="1036.6" r="4" fill="#da8b45"/><text x="1264.4" y="1040" font-size="12.3" fill="#dfe5ef" text-anchor="start" font-weight="normal" >Linux 2.2.x-3.x (no ti...</text><rect x="1407.4" y="1030.8" width="4.2" height="3.2" rx="0.8" fill="#b4b9c2"/><rect x="1408.4" y="1032.1" width="2.2" height="0.7" fill="#3a3d45"/><rect x="1407.4" y="1035.1" width="4.2" height="3.8" rx="1.6" fill="#8a8f99"/><rect x="1407.4" y="1039.9" width="4.2" height="3.2" rx="0.8" fill="#b4b9c2"/><rect x="1408.4" y="1041.2" width="2.2" height="0.7" fill="#3a3d45"/><circle cx="1252" cy="1058.6" r="4" fill="#aa6556"/><text x="1264.4" y="1062" font-size="12.3" fill="#dfe5ef" text-anchor="start" font-weight="normal" >Windows XP</text><rect x="1407.4" y="1052.8" width="4.2" height="3.2" rx="0.8" fill="#b4b9c2"/><rect x="1408.4" y="1054.1" width="2.2" height="0.7" fill="#3a3d45"/><rect x="1407.4" y="1057.1" width="4.2" height="3.8" rx="1.6" fill="#8a8f99"/><rect x="1407.4" y="1061.9" width="4.2" height="3.2" rx="0.8" fill="#b4b9c2"/><rect x="1408.4" y="1063.2" width="2.2" height="0.7" fill="#3a3d45"/><path d="M1571.05,867.1 A96.8,96.8 0 0 1 1664.33,938.03 L1599,956.15 A29,29 0 0 0 1571.05,934.9 Z" fill="#7a40c0" stroke="#1d1e24" stroke-width="1.3" stroke-linejoin="round"/><path d="M1664.33,938.03 A96.8,96.8 0 0 1 1667.42,973.01 L1599.92,966.63 A29,29 0 0 0 1599,956.15 Z" fill="#c04070" stroke="#1d1e24" stroke-width="1.3" stroke-linejoin="round"/><path d="M1667.42,973.01 A96.8,96.8 0 0 1 1661.42,998.59 L1598.12,974.29 A29,29 0 0 0 1599.92,966.63 Z" fill="#40c080" stroke="#1d1e24" stroke-width="1.3" stroke-linejoin="round"/><path d="M1661.42,998.59 A96.8,96.8 0 0 1 1647.64,1023.1 L1594,981.63 A29,29 0 0 0 1598.12,974.29 Z" fill="#c0c040" stroke="#1d1e24" stroke-width="1.3" stroke-linejoin="round"/><path d="M1647.64,1023.1 A96.8,96.8 0 0 1 1639.74,1032.11 L1591.63,984.33 A29,29 0 0 0 1594,981.63 Z" fill="#4040c0" stroke="#1d1e24" stroke-width="1.3" stroke-linejoin="round"/><path d="M1639.74,1032.11 A96.8,96.8 0 0 1 1632.36,1038.81 L1589.42,986.34 A29,29 0 0 0 1591.63,984.33 Z" fill="#c06040" stroke="#1d1e24" stroke-width="1.3" stroke-linejoin="round"/><path d="M1632.36,1038.81 A96.8,96.8 0 0 1 1624.05,1044.9 L1586.93,988.17 A29,29 0 0 0 1589.42,986.34 Z" fill="#40a0c0" stroke="#1d1e24" stroke-width="1.3" stroke-linejoin="round"/><path d="M1624.05,1044.9 A96.8,96.8 0 0 1 1616.2,1049.53 L1584.58,989.55 A29,29 0 0 0 1586.93,988.17 Z" fill="#40c040" stroke="#1d1e24" stroke-width="1.3" stroke-linejoin="round"/><path d="M1616.2,1049.53 A96.8,96.8 0 0 1 1609.96,1052.54 L1582.71,990.45 A29,29 0 0 0 1584.58,989.55 Z" fill="#a040c0" stroke="#1d1e24" stroke-width="1.3" stroke-linejoin="round"/><path d="M1609.96,1052.54 A96.8,96.8 0 1 1 1571.05,867.1 L1571.05,934.9 A29,29 0 1 0 1582.71,990.45 Z" fill="#c040b8" stroke="#1d1e24" stroke-width="1.3" stroke-linejoin="round"/><circle cx="1709.7" cy="860.6" r="4" fill="#c040b8"/><text x="1722" y="864" font-size="12.3" fill="#dfe5ef" text-anchor="start" font-weight="normal" >United States</text><rect x="1885.9" y="854.8" width="4.2" height="3.2" rx="0.8" fill="#b4b9c2"/><rect x="1886.9" y="856.1" width="2.2" height="0.7" fill="#3a3d45"/><rect x="1885.9" y="859.1" width="4.2" height="3.8" rx="1.6" fill="#8a8f99"/><rect x="1885.9" y="863.9" width="4.2" height="3.2" rx="0.8" fill="#b4b9c2"/><rect x="1886.9" y="865.2" width="2.2" height="0.7" fill="#3a3d45"/><circle cx="1709.7" cy="882.6" r="4" fill="#7a40c0"/><text x="1722" y="886" font-size="12.3" fill="#dfe5ef" text-anchor="start" font-weight="normal" >China</text><rect x="1885.9" y="876.8" width="4.2" height="3.2" rx="0.8" fill="#b4b9c2"/><rect x="1886.9" y="878.1" width="2.2" height="0.7" fill="#3a3d45"/><rect x="1885.9" y="881.1" width="4.2" height="3.8" rx="1.6" fill="#8a8f99"/><rect x="1885.9" y="885.9" width="4.2" height="3.2" rx="0.8" fill="#b4b9c2"/><rect x="1886.9" y="887.2" width="2.2" height="0.7" fill="#3a3d45"/><circle cx="1709.7" cy="904.6" r="4" fill="#c04070"/><text x="1722" y="908" font-size="12.3" fill="#dfe5ef" text-anchor="start" font-weight="normal" >United Kingdom</text><rect x="1885.9" y="898.8" width="4.2" height="3.2" rx="0.8" fill="#b4b9c2"/><rect x="1886.9" y="900.1" width="2.2" height="0.7" fill="#3a3d45"/><rect x="1885.9" y="903.1" width="4.2" height="3.8" rx="1.6" fill="#8a8f99"/><rect x="1885.9" y="907.9" width="4.2" height="3.2" rx="0.8" fill="#b4b9c2"/><rect x="1886.9" y="909.2" width="2.2" height="0.7" fill="#3a3d45"/><circle cx="1709.7" cy="926.6" r="4" fill="#40c080"/><text x="1722" y="930" font-size="12.3" fill="#dfe5ef" text-anchor="start" font-weight="normal" >Hong Kong</text><rect x="1885.9" y="920.8" width="4.2" height="3.2" rx="0.8" fill="#b4b9c2"/><rect x="1886.9" y="922.1" width="2.2" height="0.7" fill="#3a3d45"/><rect x="1885.9" y="925.1" width="4.2" height="3.8" rx="1.6" fill="#8a8f99"/><rect x="1885.9" y="929.9" width="4.2" height="3.2" rx="0.8" fill="#b4b9c2"/><rect x="1886.9" y="931.2" width="2.2" height="0.7" fill="#3a3d45"/><circle cx="1709.7" cy="948.6" r="4" fill="#c0c040"/><text x="1722" y="952" font-size="12.3" fill="#dfe5ef" text-anchor="start" font-weight="normal" >The Netherlands</text><rect x="1885.9" y="942.8" width="4.2" height="3.2" rx="0.8" fill="#b4b9c2"/><rect x="1886.9" y="944.1" width="2.2" height="0.7" fill="#3a3d45"/><rect x="1885.9" y="947.1" width="4.2" height="3.8" rx="1.6" fill="#8a8f99"/><rect x="1885.9" y="951.9" width="4.2" height="3.2" rx="0.8" fill="#b4b9c2"/><rect x="1886.9" y="953.2" width="2.2" height="0.7" fill="#3a3d45"/><circle cx="1709.7" cy="970.6" r="4" fill="#4040c0"/><text x="1722" y="974" font-size="12.3" fill="#dfe5ef" text-anchor="start" font-weight="normal" >Russia</text><rect x="1885.9" y="964.8" width="4.2" height="3.2" rx="0.8" fill="#b4b9c2"/><rect x="1886.9" y="966.1" width="2.2" height="0.7" fill="#3a3d45"/><rect x="1885.9" y="969.1" width="4.2" height="3.8" rx="1.6" fill="#8a8f99"/><rect x="1885.9" y="973.9" width="4.2" height="3.2" rx="0.8" fill="#b4b9c2"/><rect x="1886.9" y="975.2" width="2.2" height="0.7" fill="#3a3d45"/><circle cx="1709.7" cy="992.6" r="4" fill="#c06040"/><text x="1722" y="996" font-size="12.3" fill="#dfe5ef" text-anchor="start" font-weight="normal" >United Arab Emirates</text><rect x="1885.9" y="986.8" width="4.2" height="3.2" rx="0.8" fill="#b4b9c2"/><rect x="1886.9" y="988.1" width="2.2" height="0.7" fill="#3a3d45"/><rect x="1885.9" y="991.1" width="4.2" height="3.8" rx="1.6" fill="#8a8f99"/><rect x="1885.9" y="995.9" width="4.2" height="3.2" rx="0.8" fill="#b4b9c2"/><rect x="1886.9" y="997.2" width="2.2" height="0.7" fill="#3a3d45"/><circle cx="1709.7" cy="1014.6" r="4" fill="#40a0c0"/><text x="1722" y="1018" font-size="12.3" fill="#dfe5ef" text-anchor="start" font-weight="normal" >Germany</text><rect x="1885.9" y="1008.8" width="4.2" height="3.2" rx="0.8" fill="#b4b9c2"/><rect x="1886.9" y="1010.1" width="2.2" height="0.7" fill="#3a3d45"/><rect x="1885.9" y="1013.1" width="4.2" height="3.8" rx="1.6" fill="#8a8f99"/><rect x="1885.9" y="1017.9" width="4.2" height="3.2" rx="0.8" fill="#b4b9c2"/><rect x="1886.9" y="1019.2" width="2.2" height="0.7" fill="#3a3d45"/><circle cx="1709.7" cy="1036.6" r="4" fill="#40c040"/><text x="1722" y="1040" font-size="12.3" fill="#dfe5ef" text-anchor="start" font-weight="normal" >Bulgaria</text><rect x="1885.9" y="1030.8" width="4.2" height="3.2" rx="0.8" fill="#b4b9c2"/><rect x="1886.9" y="1032.1" width="2.2" height="0.7" fill="#3a3d45"/><rect x="1885.9" y="1035.1" width="4.2" height="3.8" rx="1.6" fill="#8a8f99"/><rect x="1885.9" y="1039.9" width="4.2" height="3.2" rx="0.8" fill="#b4b9c2"/><rect x="1886.9" y="1041.2" width="2.2" height="0.7" fill="#3a3d45"/><circle cx="1709.7" cy="1058.6" r="4" fill="#a040c0"/><text x="1722" y="1062" font-size="12.3" fill="#dfe5ef" text-anchor="start" font-weight="normal" >Botswana</text><rect x="1885.9" y="1052.8" width="4.2" height="3.2" rx="0.8" fill="#b4b9c2"/><rect x="1886.9" y="1054.1" width="2.2" height="0.7" fill="#3a3d45"/><rect x="1885.9" y="1057.1" width="4.2" height="3.8" rx="1.6" fill="#8a8f99"/><rect x="1885.9" y="1061.9" width="4.2" height="3.2" rx="0.8" fill="#b4b9c2"/><rect x="1886.9" y="1063.2" width="2.2" height="0.7" fill="#3a3d45"/><path d="M97.5,1172.3 A71.5,71.5 0 0 1 114.56,1313.24 L102.75,1265.16 A22,22 0 0 0 97.5,1221.8 Z" fill="#57c17b" stroke="#1d1e24" stroke-width="1.3" stroke-linejoin="round"/><path d="M114.56,1313.24 A71.5,71.5 0 0 1 38.22,1203.82 L79.26,1231.5 A22,22 0 0 0 102.75,1265.16 Z" fill="#6f87d8" stroke="#1d1e24" stroke-width="1.3" stroke-linejoin="round"/><path d="M38.22,1203.82 A71.5,71.5 0 0 1 66.16,1179.54 L87.86,1224.03 A22,22 0 0 0 79.26,1231.5 Z" fill="#663db8" stroke="#1d1e24" stroke-width="1.3" stroke-linejoin="round"/><path d="M66.16,1179.54 A71.5,71.5 0 0 1 89.9,1172.7 L95.16,1221.92 A22,22 0 0 0 87.86,1224.03 Z" fill="#bc52bc" stroke="#1d1e24" stroke-width="1.3" stroke-linejoin="round"/><path d="M89.9,1172.7 A71.5,71.5 0 0 1 97.5,1172.3 L97.5,1221.8 A22,22 0 0 0 95.16,1221.92 Z" fill="#9e3533" stroke="#1d1e24" stroke-width="1.3" stroke-linejoin="round"/><text x="97.5" y="1167" font-size="10" fill="#dfe5ef" text-anchor="middle" font-weight="normal" >United States</text><path d="M257.6,1172.3 A71.5,71.5 0 0 1 287.48,1308.76 L266.79,1263.79 A22,22 0 0 0 257.6,1221.8 Z" fill="#daa05d" stroke="#1d1e24" stroke-width="1.3" stroke-linejoin="round"/><path d="M287.48,1308.76 A71.5,71.5 0 0 1 186.1,1243.8 L235.6,1243.8 A22,22 0 0 0 266.79,1263.79 Z" fill="#9e3533" stroke="#1d1e24" stroke-width="1.3" stroke-linejoin="round"/><path d="M186.1,1243.8 A71.5,71.5 0 0 1 204.22,1196.24 L241.17,1229.16 A22,22 0 0 0 235.6,1243.8 Z" fill="#bfaf40" stroke="#1d1e24" stroke-width="1.3" stroke-linejoin="round"/><path d="M204.22,1196.24 A71.5,71.5 0 0 1 249.51,1172.76 L255.11,1221.94 A22,22 0 0 0 241.17,1229.16 Z" fill="#4050bf" stroke="#1d1e24" stroke-width="1.3" stroke-linejoin="round"/><path d="M249.51,1172.76 A71.5,71.5 0 0 1 256.73,1172.31 L257.33,1221.8 A22,22 0 0 0 255.11,1221.94 Z" fill="#bf5040" stroke="#1d1e24" stroke-width="1.3" stroke-linejoin="round"/><path d="M256.73,1172.31 A71.5,71.5 0 0 1 257.6,1172.3 L257.6,1221.8 A22,22 0 0 0 257.33,1221.8 Z" fill="#9e3533" stroke="#1d1e24" stroke-width="0.35" stroke-linejoin="round"/><text x="257.6" y="1167" font-size="10" fill="#dfe5ef" text-anchor="middle" font-weight="normal" >China</text><path d="M418,1172.3 A71.5,71.5 0 0 1 489.49,1245.05 L440,1244.18 A22,22 0 0 0 418,1221.8 Z" fill="#57c17b" stroke="#1d1e24" stroke-width="1.3" stroke-linejoin="round"/><path d="M489.49,1245.05 A71.5,71.5 0 0 1 441.63,1311.28 L425.27,1264.56 A22,22 0 0 0 440,1244.18 Z" fill="#40b0bf" stroke="#1d1e24" stroke-width="1.3" stroke-linejoin="round"/><path d="M441.63,1311.28 A71.5,71.5 0 0 1 364.37,1291.08 L401.5,1258.35 A22,22 0 0 0 425.27,1264.56 Z" fill="#70c040" stroke="#1d1e24" stroke-width="1.3" stroke-linejoin="round"/><path d="M364.37,1291.08 A71.5,71.5 0 0 1 353.9,1212.12 L398.28,1234.05 A22,22 0 0 0 401.5,1258.35 Z" fill="#8f40bf" stroke="#1d1e24" stroke-width="1.3" stroke-linejoin="round"/><path d="M353.9,1212.12 A71.5,71.5 0 0 1 418,1172.3 L418,1221.8 A22,22 0 0 0 398.28,1234.05 Z" fill="#bf40a8" stroke="#1d1e24" stroke-width="1.3" stroke-linejoin="round"/><text x="418" y="1167" font-size="10" fill="#dfe5ef" text-anchor="middle" font-weight="normal" >United Kingdom</text><path d="M578,1172.3 A71.5,71.5 0 1 1 547.33,1308.39 L568.56,1263.67 A22,22 0 1 0 578,1221.8 Z" fill="#9e3533" stroke="#1d1e24" stroke-width="1.3" stroke-linejoin="round"/><path d="M547.33,1308.39 A71.5,71.5 0 0 1 506.51,1245.05 L556,1244.18 A22,22 0 0 0 568.56,1263.67 Z" fill="#40bf40" stroke="#1d1e24" stroke-width="1.3" stroke-linejoin="round"/><path d="M506.51,1245.05 A71.5,71.5 0 0 1 543.01,1181.45 L567.23,1224.61 A22,22 0 0 0 556,1244.18 Z" fill="#bfaf40" stroke="#1d1e24" stroke-width="1.3" stroke-linejoin="round"/><path d="M543.01,1181.45 A71.5,71.5 0 0 1 560.7,1174.42 L572.68,1222.45 A22,22 0 0 0 567.23,1224.61 Z" fill="#c09040" stroke="#1d1e24" stroke-width="1.3" stroke-linejoin="round"/><path d="M560.7,1174.42 A71.5,71.5 0 0 1 578,1172.3 L578,1221.8 A22,22 0 0 0 572.68,1222.45 Z" fill="#4070bf" stroke="#1d1e24" stroke-width="1.3" stroke-linejoin="round"/><text x="578" y="1167" font-size="10" fill="#dfe5ef" text-anchor="middle" font-weight="normal" >Hong Kong</text><path d="M738.4,1172.3 A71.5,71.5 0 1 1 723.78,1313.79 L733.9,1265.34 A22,22 0 1 0 738.4,1221.8 Z" fill="#bf4050" stroke="#1d1e24" stroke-width="1.3" stroke-linejoin="round"/><path d="M723.78,1313.79 A71.5,71.5 0 0 1 673.29,1273.34 L718.36,1252.89 A22,22 0 0 0 733.9,1265.34 Z" fill="#9e3533" stroke="#1d1e24" stroke-width="1.3" stroke-linejoin="round"/><path d="M673.29,1273.34 A71.5,71.5 0 0 1 671.3,1219.11 L717.75,1236.2 A22,22 0 0 0 718.36,1252.89 Z" fill="#40bfb0" stroke="#1d1e24" stroke-width="1.3" stroke-linejoin="round"/><path d="M671.3,1219.11 A71.5,71.5 0 0 1 706.39,1179.87 L728.55,1224.13 A22,22 0 0 0 717.75,1236.2 Z" fill="#4050bf" stroke="#1d1e24" stroke-width="1.3" stroke-linejoin="round"/><path d="M706.39,1179.87 A71.5,71.5 0 0 1 738.4,1172.3 L738.4,1221.8 A22,22 0 0 0 728.55,1224.13 Z" fill="#8fc040" stroke="#1d1e24" stroke-width="1.3" stroke-linejoin="round"/><text x="738.4" y="1167" font-size="10" fill="#dfe5ef" text-anchor="middle" font-weight="normal" >The Netherlands</text><circle cx="837.6" cy="1140.6" r="4" fill="#57c17b"/><text x="850" y="1144" font-size="12.3" fill="#dfe5ef" text-anchor="start" font-weight="normal" >8000</text><rect x="929.5" y="1134.8" width="4.2" height="3.2" rx="0.8" fill="#b4b9c2"/><rect x="930.5" y="1136.1" width="2.2" height="0.7" fill="#3a3d45"/><rect x="929.5" y="1139.1" width="4.2" height="3.8" rx="1.6" fill="#8a8f99"/><rect x="929.5" y="1143.9" width="4.2" height="3.2" rx="0.8" fill="#b4b9c2"/><rect x="930.5" y="1145.2" width="2.2" height="0.7" fill="#3a3d45"/><circle cx="837.6" cy="1162.6" r="4" fill="#6f87d8"/><text x="850" y="1166" font-size="12.3" fill="#dfe5ef" text-anchor="start" font-weight="normal" >7000</text><rect x="929.5" y="1156.8" width="4.2" height="3.2" rx="0.8" fill="#b4b9c2"/><rect x="930.5" y="1158.1" width="2.2" height="0.7" fill="#3a3d45"/><rect x="929.5" y="1161.1" width="4.2" height="3.8" rx="1.6" fill="#8a8f99"/><rect x="929.5" y="1165.9" width="4.2" height="3.2" rx="0.8" fill="#b4b9c2"/><rect x="930.5" y="1167.2" width="2.2" height="0.7" fill="#3a3d45"/><circle cx="837.6" cy="1184.6" r="4" fill="#663db8"/><text x="850" y="1188" font-size="12.3" fill="#dfe5ef" text-anchor="start" font-weight="normal" >25</text><rect x="929.5" y="1178.8" width="4.2" height="3.2" rx="0.8" fill="#b4b9c2"/><rect x="930.5" y="1180.1" width="2.2" height="0.7" fill="#3a3d45"/><rect x="929.5" y="1183.1" width="4.2" height="3.8" rx="1.6" fill="#8a8f99"/><rect x="929.5" y="1187.9" width="4.2" height="3.2" rx="0.8" fill="#b4b9c2"/><rect x="930.5" y="1189.2" width="2.2" height="0.7" fill="#3a3d45"/><circle cx="837.6" cy="1206.6" r="4" fill="#bc52bc"/><text x="850" y="1210" font-size="12.3" fill="#dfe5ef" text-anchor="start" font-weight="normal" >5038</text><rect x="929.5" y="1200.8" width="4.2" height="3.2" rx="0.8" fill="#b4b9c2"/><rect x="930.5" y="1202.1" width="2.2" height="0.7" fill="#3a3d45"/><rect x="929.5" y="1205.1" width="4.2" height="3.8" rx="1.6" fill="#8a8f99"/><rect x="929.5" y="1209.9" width="4.2" height="3.2" rx="0.8" fill="#b4b9c2"/><rect x="930.5" y="1211.2" width="2.2" height="0.7" fill="#3a3d45"/><circle cx="837.6" cy="1228.6" r="4" fill="#9e3533"/><text x="850" y="1232" font-size="12.3" fill="#dfe5ef" text-anchor="start" font-weight="normal" >22</text><rect x="929.5" y="1222.8" width="4.2" height="3.2" rx="0.8" fill="#b4b9c2"/><rect x="930.5" y="1224.1" width="2.2" height="0.7" fill="#3a3d45"/><rect x="929.5" y="1227.1" width="4.2" height="3.8" rx="1.6" fill="#8a8f99"/><rect x="929.5" y="1231.9" width="4.2" height="3.2" rx="0.8" fill="#b4b9c2"/><rect x="930.5" y="1233.2" width="2.2" height="0.7" fill="#3a3d45"/><circle cx="837.6" cy="1250.6" r="4" fill="#9e3533"/><text x="850" y="1254" font-size="12.3" fill="#dfe5ef" text-anchor="start" font-weight="normal" >22</text><rect x="929.5" y="1244.8" width="4.2" height="3.2" rx="0.8" fill="#b4b9c2"/><rect x="930.5" y="1246.1" width="2.2" height="0.7" fill="#3a3d45"/><rect x="929.5" y="1249.1" width="4.2" height="3.8" rx="1.6" fill="#8a8f99"/><rect x="929.5" y="1253.9" width="4.2" height="3.2" rx="0.8" fill="#b4b9c2"/><rect x="930.5" y="1255.2" width="2.2" height="0.7" fill="#3a3d45"/><circle cx="837.6" cy="1272.6" r="4" fill="#daa05d"/><text x="850" y="1276" font-size="12.3" fill="#dfe5ef" text-anchor="start" font-weight="normal" >123</text><rect x="929.5" y="1266.8" width="4.2" height="3.2" rx="0.8" fill="#b4b9c2"/><rect x="930.5" y="1268.1" width="2.2" height="0.7" fill="#3a3d45"/><rect x="929.5" y="1271.1" width="4.2" height="3.8" rx="1.6" fill="#8a8f99"/><rect x="929.5" y="1275.9" width="4.2" height="3.2" rx="0.8" fill="#b4b9c2"/><rect x="930.5" y="1277.2" width="2.2" height="0.7" fill="#3a3d45"/><circle cx="837.6" cy="1294.6" r="4" fill="#bfaf40"/><text x="850" y="1298" font-size="12.3" fill="#dfe5ef" text-anchor="start" font-weight="normal" >6379</text><rect x="929.5" y="1288.8" width="4.2" height="3.2" rx="0.8" fill="#b4b9c2"/><rect x="930.5" y="1290.1" width="2.2" height="0.7" fill="#3a3d45"/><rect x="929.5" y="1293.1" width="4.2" height="3.8" rx="1.6" fill="#8a8f99"/><rect x="929.5" y="1297.9" width="4.2" height="3.2" rx="0.8" fill="#b4b9c2"/><rect x="930.5" y="1299.2" width="2.2" height="0.7" fill="#3a3d45"/><circle cx="837.6" cy="1316.6" r="4" fill="#4050bf"/><text x="850" y="1320" font-size="12.3" fill="#dfe5ef" text-anchor="start" font-weight="normal" >23</text><rect x="929.5" y="1310.8" width="4.2" height="3.2" rx="0.8" fill="#b4b9c2"/><rect x="930.5" y="1312.1" width="2.2" height="0.7" fill="#3a3d45"/><rect x="929.5" y="1315.1" width="4.2" height="3.8" rx="1.6" fill="#8a8f99"/><rect x="929.5" y="1319.9" width="4.2" height="3.2" rx="0.8" fill="#b4b9c2"/><rect x="930.5" y="1321.2" width="2.2" height="0.7" fill="#3a3d45"/><circle cx="837.6" cy="1338.6" r="4" fill="#bf5040"/><text x="850" y="1342" font-size="12.3" fill="#dfe5ef" text-anchor="start" font-weight="normal" >1433</text><rect x="929.5" y="1332.8" width="4.2" height="3.2" rx="0.8" fill="#b4b9c2"/><rect x="930.5" y="1334.1" width="2.2" height="0.7" fill="#3a3d45"/><rect x="929.5" y="1337.1" width="4.2" height="3.8" rx="1.6" fill="#8a8f99"/><rect x="929.5" y="1341.9" width="4.2" height="3.2" rx="0.8" fill="#b4b9c2"/><rect x="930.5" y="1343.2" width="2.2" height="0.7" fill="#3a3d45"/><clipPath id="lgclip"><rect x="820" y="1340" width="125" height="20"/></clipPath><g clip-path="url(#lgclip)"><circle cx="837.6" cy="1359.8" r="3.6" fill="#2f6b45"/><text x="850" y="1364" font-size="12" fill="#dfe5ef" fill-opacity="0.6">8000</text></g><g fill="#dfe5ef"><rect x="12" y="1347.5" width="1.5" height="1.5"/><rect x="15" y="1347.5" width="9" height="1.2"/><rect x="12" y="1351.0" width="1.5" height="1.5"/><rect x="15" y="1351.0" width="9" height="1.2"/><rect x="12" y="1354.5" width="1.5" height="1.5"/><rect x="15" y="1354.5" width="9" height="1.2"/></g><rect x="1019.5" y="1143" width="1" height="182.5" fill="#2d2f37"/><rect x="1020" y="1325.5" width="668" height="1" fill="#2d2f37"/><rect x="1046.3" y="1326.5" width="1" height="12" fill="#5a5f6b"/><text x="1049.8" y="1337.5" font-size="10.6" fill="#a7aebb" text-anchor="start" font-weight="normal" >18:00</text><rect x="1208.4" y="1326.5" width="1" height="22" fill="#5a5f6b"/><text x="1211.9" y="1337.5" font-size="10.6" fill="#a7aebb" text-anchor="start" font-weight="normal" >00:00</text><rect x="1370.5" y="1326.5" width="1" height="12" fill="#5a5f6b"/><text x="1374" y="1337.5" font-size="10.6" fill="#a7aebb" text-anchor="start" font-weight="normal" >06:00</text><rect x="1532.6" y="1326.5" width="1" height="12" fill="#5a5f6b"/><text x="1536.1" y="1337.5" font-size="10.6" fill="#a7aebb" text-anchor="start" font-weight="normal" >12:00</text><text x="1022.5" y="1348" font-size="10.6" fill="#a7aebb" text-anchor="start" font-weight="normal" >March 20, 2024</text><text x="1211.9" y="1348" font-size="10.6" fill="#a7aebb" text-anchor="start" font-weight="normal" >March 21, 2024</text><text x="1010" y="1146.01" font-size="10.6" fill="#a7aebb" text-anchor="end" font-weight="normal" >1,400</text><text x="1010" y="1159.6" font-size="10.6" fill="#a7aebb" text-anchor="end" font-weight="normal" >1,200</text><text x="1010" y="1174.37" font-size="10.6" fill="#a7aebb" text-anchor="end" font-weight="normal" >1,000</text><text x="1010" y="1190.72" font-size="10.6" fill="#a7aebb" text-anchor="end" font-weight="normal" >800</text><text x="1010" y="1209.27" font-size="10.6" fill="#a7aebb" text-anchor="end" font-weight="normal" >600</text><text x="1010" y="1231.28" font-size="10.6" fill="#a7aebb" text-anchor="end" font-weight="normal" >400</text><text x="1010" y="1259.96" font-size="10.6" fill="#a7aebb" text-anchor="end" font-weight="normal" >200</text><text x="1010" y="1329.2" font-size="10.6" fill="#a7aebb" text-anchor="end" font-weight="normal" >0</text><rect x="1020.5" y="1208.12" width="12.5" height="117.38" fill="#41c0a4"/><rect x="1020.5" y="1172.43" width="12.5" height="35.69" fill="#a0c040"/><rect x="1020.5" y="1169.17" width="12.5" height="3.27" fill="#6540c8"/><rect x="1020.5" y="1166.65" width="12.5" height="2.51" fill="#c0408f"/><rect x="1020.5" y="1162.88" width="12.5" height="3.77" fill="#40c070"/><rect x="1034" y="1203.09" width="12.5" height="122.41" fill="#41c0a4"/><rect x="1034" y="1167.91" width="12.5" height="35.18" fill="#a0c040"/><rect x="1034" y="1162.88" width="12.5" height="5.03" fill="#6540c8"/><rect x="1034" y="1159.11" width="12.5" height="3.77" fill="#c0408f"/><rect x="1034" y="1154.84" width="12.5" height="4.27" fill="#40c070"/><rect x="1047.49" y="1206.11" width="12.5" height="119.39" fill="#41c0a4"/><rect x="1047.49" y="1169.92" width="12.5" height="36.19" fill="#a0c040"/><rect x="1047.49" y="1165.9" width="12.5" height="4.02" fill="#6540c8"/><rect x="1047.49" y="1163.39" width="12.5" height="2.51" fill="#c0408f"/><rect x="1047.49" y="1160.37" width="12.5" height="3.02" fill="#40c070"/><rect x="1060.99" y="1204.85" width="12.5" height="120.65" fill="#41c0a4"/><rect x="1060.99" y="1170.92" width="12.5" height="33.93" fill="#a0c040"/><rect x="1060.99" y="1162.88" width="12.5" height="8.04" fill="#6540c8"/><rect x="1060.99" y="1159.87" width="12.5" height="3.02" fill="#c0408f"/><rect x="1060.99" y="1156.6" width="12.5" height="3.27" fill="#40c070"/><rect x="1074.48" y="1195.05" width="12.5" height="130.45" fill="#41c0a4"/><rect x="1074.48" y="1158.61" width="12.5" height="36.44" fill="#a0c040"/><rect x="1074.48" y="1152.83" width="12.5" height="5.78" fill="#6540c8"/><rect x="1074.48" y="1150.32" width="12.5" height="2.51" fill="#c0408f"/><rect x="1074.48" y="1147.8" width="12.5" height="2.51" fill="#40c070"/><rect x="1087.98" y="1192.29" width="12.5" height="133.21" fill="#41c0a4"/><rect x="1087.98" y="1163.64" width="12.5" height="28.65" fill="#a0c040"/><rect x="1087.98" y="1155.85" width="12.5" height="7.79" fill="#6540c8"/><rect x="1087.98" y="1151.07" width="12.5" height="4.78" fill="#c0408f"/><rect x="1087.98" y="1145.79" width="12.5" height="5.28" fill="#40c070"/><rect x="1101.48" y="1192.04" width="12.5" height="133.46" fill="#41c0a4"/><rect x="1101.48" y="1158.61" width="12.5" height="33.43" fill="#a0c040"/><rect x="1101.48" y="1151.07" width="12.5" height="7.54" fill="#6540c8"/><rect x="1101.48" y="1148.56" width="12.5" height="2.51" fill="#c0408f"/><rect x="1101.48" y="1145.79" width="12.5" height="2.76" fill="#40c070"/><rect x="1114.97" y="1204.85" width="12.5" height="120.65" fill="#41c0a4"/><rect x="1114.97" y="1169.67" width="12.5" height="35.18" fill="#a0c040"/><rect x="1114.97" y="1162.38" width="12.5" height="7.29" fill="#6540c8"/><rect x="1114.97" y="1158.61" width="12.5" height="3.77" fill="#c0408f"/><rect x="1114.97" y="1155.34" width="12.5" height="3.27" fill="#40c070"/><rect x="1128.47" y="1210.13" width="12.5" height="115.37" fill="#41c0a4"/><rect x="1128.47" y="1173.94" width="12.5" height="36.19" fill="#a0c040"/><rect x="1128.47" y="1167.41" width="12.5" height="6.53" fill="#6540c8"/><rect x="1128.47" y="1163.39" width="12.5" height="4.02" fill="#c0408f"/><rect x="1128.47" y="1160.37" width="12.5" height="3.02" fill="#40c070"/><rect x="1141.96" y="1217.17" width="12.5" height="108.33" fill="#41c0a4"/><rect x="1141.96" y="1183.49" width="12.5" height="33.68" fill="#a0c040"/><rect x="1141.96" y="1177.96" width="12.5" height="5.53" fill="#6540c8"/><rect x="1141.96" y="1175.45" width="12.5" height="2.51" fill="#c0408f"/><rect x="1141.96" y="1172.94" width="12.5" height="2.51" fill="#40c070"/><rect x="1155.46" y="1219.43" width="12.5" height="106.07" fill="#41c0a4"/><rect x="1155.46" y="1183.49" width="12.5" height="35.94" fill="#a0c040"/><rect x="1155.46" y="1177.96" width="12.5" height="5.53" fill="#6540c8"/><rect x="1155.46" y="1175.45" width="12.5" height="2.51" fill="#c0408f"/><rect x="1155.46" y="1172.94" width="12.5" height="2.51" fill="#40c070"/><rect x="1168.96" y="1225.21" width="12.5" height="100.29" fill="#41c0a4"/><rect x="1168.96" y="1191.78" width="12.5" height="33.43" fill="#a0c040"/><rect x="1168.96" y="1184.24" width="12.5" height="7.54" fill="#6540c8"/><rect x="1168.96" y="1180.47" width="12.5" height="3.77" fill="#c0408f"/><rect x="1168.96" y="1177.21" width="12.5" height="3.27" fill="#40c070"/><rect x="1182.45" y="1221.19" width="12.5" height="104.31" fill="#41c0a4"/><rect x="1182.45" y="1188.77" width="12.5" height="32.42" fill="#a0c040"/><rect x="1182.45" y="1180.47" width="12.5" height="8.29" fill="#6540c8"/><rect x="1182.45" y="1174.95" width="12.5" height="5.53" fill="#c0408f"/><rect x="1182.45" y="1170.92" width="12.5" height="4.02" fill="#40c070"/><rect x="1195.95" y="1220.69" width="12.5" height="104.81" fill="#41c0a4"/><rect x="1195.95" y="1186.76" width="12.5" height="33.93" fill="#a0c040"/><rect x="1195.95" y="1177.46" width="12.5" height="9.3" fill="#6540c8"/><rect x="1195.95" y="1174.69" width="12.5" height="2.76" fill="#c0408f"/><rect x="1195.95" y="1171.68" width="12.5" height="3.02" fill="#40c070"/><rect x="1209.44" y="1215.16" width="12.5" height="110.34" fill="#41c0a4"/><rect x="1209.44" y="1182.99" width="12.5" height="32.17" fill="#a0c040"/><rect x="1209.44" y="1175.45" width="12.5" height="7.54" fill="#6540c8"/><rect x="1209.44" y="1172.43" width="12.5" height="3.02" fill="#c0408f"/><rect x="1209.44" y="1170.92" width="12.5" height="1.51" fill="#40c070"/><rect x="1222.94" y="1227.72" width="12.5" height="97.78" fill="#41c0a4"/><rect x="1222.94" y="1194.55" width="12.5" height="33.17" fill="#a0c040"/><rect x="1222.94" y="1187.51" width="12.5" height="7.04" fill="#6540c8"/><rect x="1222.94" y="1185.5" width="12.5" height="2.01" fill="#c0408f"/><rect x="1222.94" y="1183.49" width="12.5" height="2.01" fill="#40c070"/><rect x="1236.43" y="1233.25" width="12.5" height="92.25" fill="#41c0a4"/><rect x="1236.43" y="1198.57" width="12.5" height="34.68" fill="#a0c040"/><rect x="1236.43" y="1188.52" width="12.5" height="10.05" fill="#6540c8"/><rect x="1236.43" y="1185.5" width="12.5" height="3.02" fill="#c0408f"/><rect x="1236.43" y="1182.99" width="12.5" height="2.51" fill="#40c070"/><rect x="1249.93" y="1230.24" width="12.5" height="95.26" fill="#41c0a4"/><rect x="1249.93" y="1194.3" width="12.5" height="35.94" fill="#a0c040"/><rect x="1249.93" y="1186.76" width="12.5" height="7.54" fill="#6540c8"/><rect x="1249.93" y="1184.24" width="12.5" height="2.51" fill="#c0408f"/><rect x="1249.93" y="1181.73" width="12.5" height="2.51" fill="#40c070"/><rect x="1263.43" y="1228.98" width="12.5" height="96.52" fill="#41c0a4"/><rect x="1263.43" y="1194.3" width="12.5" height="34.68" fill="#a0c040"/><rect x="1263.43" y="1186.26" width="12.5" height="8.04" fill="#6540c8"/><rect x="1263.43" y="1183.74" width="12.5" height="2.51" fill="#c0408f"/><rect x="1263.43" y="1181.98" width="12.5" height="1.76" fill="#40c070"/><rect x="1276.92" y="1216.92" width="12.5" height="108.58" fill="#41c0a4"/><rect x="1276.92" y="1182.49" width="12.5" height="34.43" fill="#a0c040"/><rect x="1276.92" y="1174.95" width="12.5" height="7.54" fill="#6540c8"/><rect x="1276.92" y="1171.68" width="12.5" height="3.27" fill="#c0408f"/><rect x="1276.92" y="1168.91" width="12.5" height="2.76" fill="#40c070"/><rect x="1290.42" y="1208.12" width="12.5" height="117.38" fill="#41c0a4"/><rect x="1290.42" y="1174.69" width="12.5" height="33.43" fill="#a0c040"/><rect x="1290.42" y="1168.41" width="12.5" height="6.28" fill="#6540c8"/><rect x="1290.42" y="1165.9" width="12.5" height="2.51" fill="#c0408f"/><rect x="1290.42" y="1163.89" width="12.5" height="2.01" fill="#40c070"/><rect x="1303.91" y="1212.64" width="12.5" height="112.86" fill="#41c0a4"/><rect x="1303.91" y="1176.71" width="12.5" height="35.94" fill="#a0c040"/><rect x="1303.91" y="1169.92" width="12.5" height="6.79" fill="#6540c8"/><rect x="1303.91" y="1167.91" width="12.5" height="2.01" fill="#c0408f"/><rect x="1303.91" y="1165.4" width="12.5" height="2.51" fill="#40c070"/><rect x="1317.41" y="1210.63" width="12.5" height="114.87" fill="#41c0a4"/><rect x="1317.41" y="1175.45" width="12.5" height="35.18" fill="#a0c040"/><rect x="1317.41" y="1166.65" width="12.5" height="8.8" fill="#6540c8"/><rect x="1317.41" y="1164.14" width="12.5" height="2.51" fill="#c0408f"/><rect x="1317.41" y="1162.88" width="12.5" height="1.26" fill="#40c070"/><rect x="1330.91" y="1211.39" width="12.5" height="114.11" fill="#41c0a4"/><rect x="1330.91" y="1176.71" width="12.5" height="34.68" fill="#a0c040"/><rect x="1330.91" y="1169.17" width="12.5" height="7.54" fill="#6540c8"/><rect x="1330.91" y="1164.89" width="12.5" height="4.27" fill="#c0408f"/><rect x="1330.91" y="1162.88" width="12.5" height="2.01" fill="#40c070"/><rect x="1344.4" y="1209.63" width="12.5" height="115.87" fill="#41c0a4"/><rect x="1344.4" y="1174.95" width="12.5" height="34.68" fill="#a0c040"/><rect x="1344.4" y="1166.65" width="12.5" height="8.29" fill="#6540c8"/><rect x="1344.4" y="1163.64" width="12.5" height="3.02" fill="#c0408f"/><rect x="1344.4" y="1161.12" width="12.5" height="2.51" fill="#40c070"/><rect x="1357.9" y="1212.64" width="12.5" height="112.86" fill="#41c0a4"/><rect x="1357.9" y="1176.2" width="12.5" height="36.44" fill="#a0c040"/><rect x="1357.9" y="1169.92" width="12.5" height="6.28" fill="#6540c8"/><rect x="1357.9" y="1167.41" width="12.5" height="2.51" fill="#c0408f"/><rect x="1357.9" y="1164.89" width="12.5" height="2.51" fill="#40c070"/><rect x="1371.39" y="1210.63" width="12.5" height="114.87" fill="#41c0a4"/><rect x="1371.39" y="1175.45" width="12.5" height="35.18" fill="#a0c040"/><rect x="1371.39" y="1168.41" width="12.5" height="7.04" fill="#6540c8"/><rect x="1371.39" y="1165.9" width="12.5" height="2.51" fill="#c0408f"/><rect x="1371.39" y="1162.88" width="12.5" height="3.02" fill="#40c070"/><rect x="1384.89" y="1201.08" width="12.5" height="124.42" fill="#41c0a4"/><rect x="1384.89" y="1165.9" width="12.5" height="35.18" fill="#a0c040"/><rect x="1384.89" y="1157.86" width="12.5" height="8.04" fill="#6540c8"/><rect x="1384.89" y="1154.84" width="12.5" height="3.02" fill="#c0408f"/><rect x="1384.89" y="1152.33" width="12.5" height="2.51" fill="#40c070"/><rect x="1398.39" y="1200.08" width="12.5" height="125.42" fill="#41c0a4"/><rect x="1398.39" y="1164.64" width="12.5" height="35.44" fill="#a0c040"/><rect x="1398.39" y="1157.86" width="12.5" height="6.79" fill="#6540c8"/><rect x="1398.39" y="1156.1" width="12.5" height="1.76" fill="#c0408f"/><rect x="1398.39" y="1154.84" width="12.5" height="1.26" fill="#40c070"/><rect x="1411.88" y="1204.35" width="12.5" height="121.15" fill="#41c0a4"/><rect x="1411.88" y="1170.92" width="12.5" height="33.43" fill="#a0c040"/><rect x="1411.88" y="1164.89" width="12.5" height="6.03" fill="#6540c8"/><rect x="1411.88" y="1161.12" width="12.5" height="3.77" fill="#c0408f"/><rect x="1411.88" y="1157.86" width="12.5" height="3.27" fill="#40c070"/><rect x="1425.38" y="1200.58" width="12.5" height="124.92" fill="#41c0a4"/><rect x="1425.38" y="1169.17" width="12.5" height="31.41" fill="#a0c040"/><rect x="1425.38" y="1161.63" width="12.5" height="7.54" fill="#6540c8"/><rect x="1425.38" y="1159.11" width="12.5" height="2.51" fill="#c0408f"/><rect x="1425.38" y="1156.6" width="12.5" height="2.51" fill="#40c070"/><rect x="1438.87" y="1221.94" width="12.5" height="103.56" fill="#41c0a4"/><rect x="1438.87" y="1188.77" width="12.5" height="33.17" fill="#a0c040"/><rect x="1438.87" y="1179.97" width="12.5" height="8.8" fill="#6540c8"/><rect x="1438.87" y="1176.71" width="12.5" height="3.27" fill="#c0408f"/><rect x="1438.87" y="1174.69" width="12.5" height="2.01" fill="#40c070"/><rect x="1452.37" y="1211.89" width="12.5" height="113.61" fill="#41c0a4"/><rect x="1452.37" y="1179.72" width="12.5" height="32.17" fill="#a0c040"/><rect x="1452.37" y="1172.43" width="12.5" height="7.29" fill="#6540c8"/><rect x="1452.37" y="1169.92" width="12.5" height="2.51" fill="#c0408f"/><rect x="1452.37" y="1167.91" width="12.5" height="2.01" fill="#40c070"/><rect x="1465.87" y="1213.65" width="12.5" height="111.85" fill="#41c0a4"/><rect x="1465.87" y="1182.99" width="12.5" height="30.66" fill="#a0c040"/><rect x="1465.87" y="1175.45" width="12.5" height="7.54" fill="#6540c8"/><rect x="1465.87" y="1171.68" width="12.5" height="3.77" fill="#c0408f"/><rect x="1465.87" y="1169.67" width="12.5" height="2.01" fill="#40c070"/><rect x="1479.36" y="1222.7" width="12.5" height="102.8" fill="#41c0a4"/><rect x="1479.36" y="1191.78" width="12.5" height="30.91" fill="#a0c040"/><rect x="1479.36" y="1184.24" width="12.5" height="7.54" fill="#6540c8"/><rect x="1479.36" y="1180.98" width="12.5" height="3.27" fill="#c0408f"/><rect x="1479.36" y="1177.46" width="12.5" height="3.52" fill="#40c070"/><rect x="1492.86" y="1221.44" width="12.5" height="104.06" fill="#41c0a4"/><rect x="1492.86" y="1193.04" width="12.5" height="28.4" fill="#a0c040"/><rect x="1492.86" y="1185" width="12.5" height="8.04" fill="#6540c8"/><rect x="1492.86" y="1181.73" width="12.5" height="3.27" fill="#c0408f"/><rect x="1492.86" y="1178.72" width="12.5" height="3.02" fill="#40c070"/><rect x="1506.35" y="1224.96" width="12.5" height="100.54" fill="#41c0a4"/><rect x="1506.35" y="1195.05" width="12.5" height="29.91" fill="#a0c040"/><rect x="1506.35" y="1184.75" width="12.5" height="10.3" fill="#6540c8"/><rect x="1506.35" y="1181.73" width="12.5" height="3.02" fill="#c0408f"/><rect x="1506.35" y="1177.96" width="12.5" height="3.77" fill="#40c070"/><rect x="1519.85" y="1226.47" width="12.5" height="99.03" fill="#41c0a4"/><rect x="1519.85" y="1195.05" width="12.5" height="31.41" fill="#a0c040"/><rect x="1519.85" y="1185" width="12.5" height="10.05" fill="#6540c8"/><rect x="1519.85" y="1181.23" width="12.5" height="3.77" fill="#c0408f"/><rect x="1519.85" y="1178.46" width="12.5" height="2.76" fill="#40c070"/><rect x="1533.34" y="1228.23" width="12.5" height="97.27" fill="#41c0a4"/><rect x="1533.34" y="1199.83" width="12.5" height="28.4" fill="#a0c040"/><rect x="1533.34" y="1190.53" width="12.5" height="9.3" fill="#6540c8"/><rect x="1533.34" y="1186.26" width="12.5" height="4.27" fill="#c0408f"/><rect x="1533.34" y="1184.24" width="12.5" height="2.01" fill="#40c070"/><rect x="1546.84" y="1221.44" width="12.5" height="104.06" fill="#41c0a4"/><rect x="1546.84" y="1191.78" width="12.5" height="29.66" fill="#a0c040"/><rect x="1546.84" y="1182.99" width="12.5" height="8.8" fill="#6540c8"/><rect x="1546.84" y="1179.22" width="12.5" height="3.77" fill="#c0408f"/><rect x="1546.84" y="1175.45" width="12.5" height="3.77" fill="#40c070"/><rect x="1560.34" y="1216.41" width="12.5" height="109.09" fill="#41c0a4"/><rect x="1560.34" y="1184.24" width="12.5" height="32.17" fill="#a0c040"/><rect x="1560.34" y="1176.71" width="12.5" height="7.54" fill="#6540c8"/><rect x="1560.34" y="1167.41" width="12.5" height="9.3" fill="#c0408f"/><rect x="1560.34" y="1164.64" width="12.5" height="2.76" fill="#40c070"/><rect x="1573.83" y="1209.88" width="12.5" height="115.62" fill="#41c0a4"/><rect x="1573.83" y="1175.95" width="12.5" height="33.93" fill="#a0c040"/><rect x="1573.83" y="1168.66" width="12.5" height="7.29" fill="#6540c8"/><rect x="1573.83" y="1164.64" width="12.5" height="4.02" fill="#c0408f"/><rect x="1573.83" y="1162.13" width="12.5" height="2.51" fill="#40c070"/><rect x="1587.33" y="1197.56" width="12.5" height="127.94" fill="#41c0a4"/><rect x="1587.33" y="1164.89" width="12.5" height="32.67" fill="#a0c040"/><rect x="1587.33" y="1157.35" width="12.5" height="7.54" fill="#6540c8"/><rect x="1587.33" y="1152.08" width="12.5" height="5.28" fill="#c0408f"/><rect x="1587.33" y="1149.56" width="12.5" height="2.51" fill="#40c070"/><rect x="1600.82" y="1203.6" width="12.5" height="121.9" fill="#41c0a4"/><rect x="1600.82" y="1169.92" width="12.5" height="33.68" fill="#a0c040"/><rect x="1600.82" y="1162.88" width="12.5" height="7.04" fill="#6540c8"/><rect x="1600.82" y="1159.11" width="12.5" height="3.77" fill="#c0408f"/><rect x="1600.82" y="1155.85" width="12.5" height="3.27" fill="#40c070"/><rect x="1614.32" y="1183.49" width="12.5" height="142.01" fill="#41c0a4"/><rect x="1614.32" y="1154.59" width="12.5" height="28.9" fill="#a0c040"/><rect x="1614.32" y="1147.3" width="12.5" height="7.29" fill="#6540c8"/><rect x="1614.32" y="1145.29" width="12.5" height="2.01" fill="#c0408f"/><rect x="1614.32" y="1143.28" width="12.5" height="2.01" fill="#40c070"/><rect x="1627.82" y="1207.37" width="12.5" height="118.13" fill="#41c0a4"/><rect x="1627.82" y="1174.69" width="12.5" height="32.67" fill="#a0c040"/><rect x="1627.82" y="1167.41" width="12.5" height="7.29" fill="#6540c8"/><rect x="1627.82" y="1162.13" width="12.5" height="5.28" fill="#c0408f"/><rect x="1627.82" y="1160.87" width="12.5" height="1.26" fill="#40c070"/><rect x="1641.31" y="1224.46" width="12.5" height="101.04" fill="#41c0a4"/><rect x="1641.31" y="1191.78" width="12.5" height="32.67" fill="#a0c040"/><rect x="1641.31" y="1182.49" width="12.5" height="9.3" fill="#6540c8"/><rect x="1641.31" y="1177.96" width="12.5" height="4.52" fill="#c0408f"/><rect x="1641.31" y="1175.95" width="12.5" height="2.01" fill="#40c070"/><rect x="1654.81" y="1232" width="12.5" height="93.5" fill="#41c0a4"/><rect x="1654.81" y="1203.85" width="12.5" height="28.15" fill="#a0c040"/><rect x="1654.81" y="1194.8" width="12.5" height="9.05" fill="#6540c8"/><rect x="1654.81" y="1187.51" width="12.5" height="7.29" fill="#c0408f"/><rect x="1654.81" y="1185.5" width="12.5" height="2.01" fill="#40c070"/><rect x="1668.3" y="1268.44" width="12.5" height="57.06" fill="#41c0a4"/><rect x="1668.3" y="1253.86" width="12.5" height="14.58" fill="#a0c040"/><rect x="1668.3" y="1247.83" width="12.5" height="6.03" fill="#6540c8"/><rect x="1668.3" y="1245.82" width="12.5" height="2.01" fill="#c0408f"/><rect x="1668.3" y="1244.56" width="12.5" height="1.26" fill="#40c070"/><circle cx="1709.7" cy="1151.1" r="4" fill="#41c0a4"/><text x="1722" y="1154.5" font-size="12.3" fill="#dfe5ef" text-anchor="start" font-weight="normal" >Generic Protocol Comm...</text><rect x="1885.9" y="1145.3" width="4.2" height="3.2" rx="0.8" fill="#b4b9c2"/><rect x="1886.9" y="1146.6" width="2.2" height="0.7" fill="#3a3d45"/><rect x="1885.9" y="1149.6" width="4.2" height="3.8" rx="1.6" fill="#8a8f99"/><rect x="1885.9" y="1154.4" width="4.2" height="3.2" rx="0.8" fill="#b4b9c2"/><rect x="1886.9" y="1155.7" width="2.2" height="0.7" fill="#3a3d45"/><circle cx="1709.7" cy="1173.1" r="4" fill="#a0c040"/><text x="1722" y="1176.5" font-size="12.3" fill="#dfe5ef" text-anchor="start" font-weight="normal" >Attempted Administrato...</text><rect x="1885.9" y="1167.3" width="4.2" height="3.2" rx="0.8" fill="#b4b9c2"/><rect x="1886.9" y="1168.6" width="2.2" height="0.7" fill="#3a3d45"/><rect x="1885.9" y="1171.6" width="4.2" height="3.8" rx="1.6" fill="#8a8f99"/><rect x="1885.9" y="1176.4" width="4.2" height="3.2" rx="0.8" fill="#b4b9c2"/><rect x="1886.9" y="1177.7" width="2.2" height="0.7" fill="#3a3d45"/><circle cx="1709.7" cy="1195.1" r="4" fill="#6540c8"/><text x="1722" y="1198.5" font-size="12.3" fill="#dfe5ef" text-anchor="start" font-weight="normal" >Misc Attack</text><rect x="1885.9" y="1189.3" width="4.2" height="3.2" rx="0.8" fill="#b4b9c2"/><rect x="1886.9" y="1190.6" width="2.2" height="0.7" fill="#3a3d45"/><rect x="1885.9" y="1193.6" width="4.2" height="3.8" rx="1.6" fill="#8a8f99"/><rect x="1885.9" y="1198.4" width="4.2" height="3.2" rx="0.8" fill="#b4b9c2"/><rect x="1886.9" y="1199.7" width="2.2" height="0.7" fill="#3a3d45"/><circle cx="1709.7" cy="1217.1" r="4" fill="#c0408f"/><text x="1722" y="1220.5" font-size="12.3" fill="#dfe5ef" text-anchor="start" font-weight="normal" >Attempted Information L...</text><rect x="1885.9" y="1211.3" width="4.2" height="3.2" rx="0.8" fill="#b4b9c2"/><rect x="1886.9" y="1212.6" width="2.2" height="0.7" fill="#3a3d45"/><rect x="1885.9" y="1215.6" width="4.2" height="3.8" rx="1.6" fill="#8a8f99"/><rect x="1885.9" y="1220.4" width="4.2" height="3.2" rx="0.8" fill="#b4b9c2"/><rect x="1886.9" y="1221.7" width="2.2" height="0.7" fill="#3a3d45"/><circle cx="1709.7" cy="1239.1" r="4" fill="#40c070"/><text x="1722" y="1242.5" font-size="12.3" fill="#dfe5ef" text-anchor="start" font-weight="normal" >Misc activity</text><rect x="1885.9" y="1233.3" width="4.2" height="3.2" rx="0.8" fill="#b4b9c2"/><rect x="1886.9" y="1234.6" width="2.2" height="0.7" fill="#3a3d45"/><rect x="1885.9" y="1237.6" width="4.2" height="3.8" rx="1.6" fill="#8a8f99"/><rect x="1885.9" y="1242.4" width="4.2" height="3.2" rx="0.8" fill="#b4b9c2"/><rect x="1886.9" y="1243.7" width="2.2" height="0.7" fill="#3a3d45"/><clipPath id="mapclip"><path d="M1276.67,280 H1906 V522 Q1906,528 1900,528 H1282.67 Q1276.67,528 1276.67,522 Z"/></clipPath><g clip-path="url(#mapclip)"><rect x="1276.67" y="280" width="629.33" height="248" fill="#1f1f20"/><path d="M1335.1,317.7 L1343.6,302.5 L1352.1,296.9 L1373.5,304.1 L1392.0,302.5 L1410.4,308.5 L1438.9,310.4 L1453.1,304.5 L1457.4,315.9 L1448.8,324.4 L1440.3,339.4 L1443.2,344.8 L1457.4,349.8 L1461.6,358.2 L1464.5,347.3 L1463.1,329.2 L1471.6,332.2 L1481.6,335.2 L1487.2,347.3 L1494.4,357.0 L1488.7,366.9 L1480.1,372.1 L1474.4,376.0 L1474.4,378.9 L1468.8,380.8 L1465.9,387.2 L1465.9,390.7 L1458.8,396.7 L1459.5,404.0 L1460.2,406.7 L1457.4,404.8 L1456.0,400.0 L1447.4,399.1 L1440.3,400.0 L1436.0,403.2 L1435.3,411.8 L1437.5,416.4 L1444.6,417.1 L1445.3,413.3 L1450.3,412.6 L1448.8,420.8 L1454.5,422.3 L1455.2,428.2 L1461.6,431.0 L1463.8,431.8 L1463.1,433.9 L1460.2,433.2 L1456.0,431.8 L1451.7,427.4 L1444.6,423.8 L1438.9,420.8 L1431.8,419.4 L1424.7,414.9 L1423.2,410.3 L1419.0,404.8 L1414.0,400.0 L1411.2,396.7 L1413.3,402.4 L1417.6,408.7 L1417.6,410.3 L1414.7,407.2 L1410.4,400.0 L1407.6,395.0 L1402.6,391.6 L1397.6,381.7 L1396.9,376.0 L1397.6,368.0 L1396.2,363.7 L1389.1,352.3 L1382.0,342.1 L1374.9,336.6 L1364.9,333.7 L1357.8,339.4 L1350.7,344.8 L1343.6,349.8 L1349.3,340.8 L1343.6,336.6 L1339.3,330.7 L1339.3,322.8 Z M1847.1,317.7 L1855.6,302.5 L1864.1,296.9 L1885.5,304.1 L1904.0,302.5 L1922.4,308.5 L1950.9,310.4 L1965.1,304.5 L1969.4,315.9 L1960.8,324.4 L1952.3,339.4 L1955.2,344.8 L1969.4,349.8 L1973.6,358.2 L1976.5,347.3 L1975.1,329.2 L1983.6,332.2 L1993.6,335.2 L1999.2,347.3 L2006.4,357.0 L2000.7,366.9 L1992.1,372.1 L1986.4,376.0 L1986.4,378.9 L1980.8,380.8 L1977.9,387.2 L1977.9,390.7 L1970.8,396.7 L1971.5,404.0 L1972.2,406.7 L1969.4,404.8 L1968.0,400.0 L1959.4,399.1 L1952.3,400.0 L1948.0,403.2 L1947.3,411.8 L1949.5,416.4 L1956.6,417.1 L1957.3,413.3 L1962.3,412.6 L1960.8,420.8 L1966.5,422.3 L1967.2,428.2 L1973.6,431.0 L1975.8,431.8 L1975.1,433.9 L1972.2,433.2 L1968.0,431.8 L1963.7,427.4 L1956.6,423.8 L1950.9,420.8 L1943.8,419.4 L1936.7,414.9 L1935.2,410.3 L1931.0,404.8 L1926.0,400.0 L1923.2,396.7 L1925.3,402.4 L1929.6,408.7 L1929.6,410.3 L1926.7,407.2 L1922.4,400.0 L1919.6,395.0 L1914.6,391.6 L1909.6,381.7 L1908.9,376.0 L1909.6,368.0 L1908.2,363.7 L1901.1,352.3 L1894.0,342.1 L1886.9,336.6 L1876.9,333.7 L1869.8,339.4 L1862.7,344.8 L1855.6,349.8 L1861.3,340.8 L1855.6,336.6 L1851.3,330.7 L1851.3,322.8 Z M1470.2,260.3 L1474.4,270.0 L1480.1,274.2 L1491.5,275.9 L1494.4,293.7 L1497.2,302.5 L1497.9,310.4 L1501.5,324.4 L1504.3,332.2 L1510.0,336.6 L1512.8,336.0 L1515.7,327.6 L1520.0,319.4 L1528.5,309.7 L1538.4,304.5 L1542.7,298.2 L1542.7,289.0 L1547.0,278.7 L1547.7,263.7 L1545.6,245.4 L1551.2,232.1 L1538.4,216.2 L1517.1,208.9 L1488.7,225.0 L1474.4,241.2 L1470.2,253.2 Z M1448.8,291.4 L1453.1,302.5 L1458.8,306.5 L1463.1,322.8 L1471.6,327.6 L1481.6,324.4 L1485.8,314.1 L1474.4,302.5 L1460.2,286.5 Z M1430.4,289.0 L1437.5,293.7 L1443.2,293.7 L1446.0,284.0 L1460.2,281.4 L1460.2,273.0 L1467.3,260.3 L1474.4,253.2 L1481.6,236.8 L1485.8,221.8 L1467.3,216.2 L1446.0,232.1 L1436.0,245.4 L1424.7,253.2 L1410.4,260.3 L1403.3,270.0 L1417.6,275.9 L1426.1,278.7 Z M1396.2,293.7 L1403.3,298.2 L1407.6,304.5 L1423.2,307.3 L1430.4,304.5 L1430.4,289.0 L1420.4,286.5 L1410.4,286.5 L1404.8,282.4 L1397.6,284.0 Z M1908.2,293.7 L1915.3,298.2 L1919.6,304.5 L1935.2,307.3 L1942.4,304.5 L1942.4,289.0 L1932.4,286.5 L1922.4,286.5 L1916.8,282.4 L1909.6,284.0 Z M1451.7,324.4 L1458.8,324.4 L1460.2,329.2 L1451.7,327.6 Z M1437.5,302.5 L1441.7,304.5 L1440.3,293.7 L1436.0,296.0 Z M1463.8,431.8 L1471.6,426.7 L1483.0,428.9 L1488.7,431.8 L1500.0,436.8 L1502.9,443.9 L1511.4,447.5 L1524.2,451.7 L1524.2,456.8 L1518.5,462.5 L1518.5,469.9 L1515.7,476.0 L1511.4,477.5 L1505.7,482.2 L1505.0,486.2 L1498.6,495.4 L1492.9,497.1 L1492.9,502.4 L1485.8,504.2 L1481.6,507.9 L1483.0,511.8 L1478.0,518.8 L1480.1,521.9 L1475.9,528.5 L1476.6,533.1 L1473.0,535.5 L1468.0,530.8 L1466.6,519.8 L1469.5,509.8 L1469.5,500.6 L1472.3,493.7 L1472.3,485.4 L1474.4,470.7 L1467.3,465.5 L1464.5,461.1 L1461.6,455.3 L1458.8,451.0 L1460.2,446.7 L1460.2,442.5 L1462.4,439.6 L1463.8,434.6 Z M1048.5,387.2 L1049.2,383.6 L1048.5,376.0 L1059.9,375.1 L1059.9,369.0 L1055.6,365.9 L1059.9,363.7 L1064.8,359.3 L1069.1,354.7 L1074.1,352.3 L1073.4,344.8 L1076.9,343.4 L1076.9,351.1 L1081.9,352.3 L1089.0,351.1 L1091.9,344.8 L1096.1,343.4 L1096.1,338.0 L1103.2,336.6 L1094.7,336.6 L1092.6,333.7 L1097.6,321.1 L1092.6,319.4 L1086.2,333.7 L1088.3,338.0 L1084.8,347.3 L1080.5,348.6 L1077.6,339.4 L1069.8,340.8 L1069.1,330.7 L1076.2,324.4 L1081.9,314.1 L1089.0,302.5 L1097.6,298.2 L1106.1,302.5 L1108.9,306.5 L1120.3,314.1 L1116.0,322.8 L1124.6,317.7 L1124.6,308.5 L1138.8,308.5 L1147.3,304.5 L1158.7,306.5 L1156.6,300.4 L1160.1,291.4 L1165.8,291.4 L1164.4,306.5 L1168.7,308.5 L1171.5,291.4 L1175.8,286.5 L1185.7,284.0 L1195.7,273.0 L1204.2,266.9 L1209.9,262.4 L1214.2,266.9 L1222.7,273.0 L1222.7,286.5 L1231.2,289.0 L1244.0,286.5 L1246.9,298.2 L1261.1,291.4 L1275.3,296.0 L1289.6,304.5 L1303.8,302.5 L1312.3,304.5 L1318.0,306.5 L1326.5,314.1 L1332.2,317.7 L1329.4,321.1 L1322.3,322.8 L1318.0,321.1 L1315.2,322.8 L1313.7,329.2 L1306.6,335.2 L1293.8,336.6 L1293.8,343.4 L1289.6,352.3 L1284.6,359.3 L1283.9,344.8 L1289.6,335.2 L1282.4,339.4 L1265.4,338.6 L1255.4,351.1 L1262.5,355.9 L1261.1,365.9 L1251.2,376.0 L1246.9,377.0 L1246.2,381.7 L1243.3,383.6 L1245.5,389.8 L1241.9,391.6 L1241.2,386.3 L1239.8,381.7 L1234.1,380.8 L1235.5,387.2 L1231.2,387.2 L1234.1,395.8 L1235.5,399.1 L1232.0,407.2 L1228.4,409.5 L1219.2,413.3 L1217.7,416.4 L1213.5,417.9 L1215.6,423.8 L1217.0,427.4 L1211.3,431.8 L1208.5,429.6 L1204.9,424.5 L1202.8,429.6 L1204.9,433.9 L1209.2,441.1 L1205.6,440.3 L1202.1,432.5 L1202.1,425.3 L1200.7,420.1 L1196.4,420.8 L1195.7,416.4 L1192.1,411.0 L1188.6,412.3 L1185.0,414.9 L1182.9,415.6 L1176.5,420.8 L1175.8,425.3 L1175.1,428.9 L1172.2,432.5 L1170.8,430.3 L1168.0,423.8 L1165.8,416.4 L1165.1,412.6 L1160.1,411.0 L1156.6,406.4 L1149.5,407.2 L1143.1,405.9 L1142.4,404.0 L1138.8,404.5 L1135.2,402.7 L1133.1,399.1 L1130.3,399.1 L1131.0,402.4 L1133.1,405.6 L1135.2,407.9 L1138.8,408.7 L1141.6,405.6 L1142.4,408.7 L1146.6,411.0 L1143.8,416.4 L1140.2,419.4 L1136.0,420.8 L1126.0,425.3 L1123.9,425.7 L1122.4,422.3 L1119.6,414.9 L1116.8,410.3 L1112.5,402.4 L1111.1,402.7 L1108.2,399.1 L1111.1,396.7 L1112.5,392.4 L1113.2,388.1 L1107.5,389.0 L1101.1,387.2 L1099.7,381.7 L1103.2,379.9 L1102.5,375.1 L1104.2,371.1 L1109.6,373.1 L1113.2,371.7 L1116.8,368.0 L1116.0,372.1 L1121.0,378.9 L1115.3,379.9 L1106.1,379.5 L1099.0,380.2 L1094.7,380.8 L1096.1,385.4 L1093.3,388.1 L1091.9,384.5 L1089.7,378.9 L1084.8,375.1 L1081.2,371.1 L1079.5,373.1 L1081.9,378.0 L1084.8,378.9 L1088.3,381.4 L1085.5,383.6 L1084.3,385.4 L1079.1,378.5 L1076.9,376.0 L1074.5,373.3 L1070.5,376.0 L1066.6,375.6 L1066.6,378.0 L1063.0,380.2 L1061.6,382.7 L1062.0,384.1 L1059.2,387.5 L1054.2,389.0 L1051.3,386.8 Z M1560.5,387.2 L1561.2,383.6 L1560.5,376.0 L1571.9,375.1 L1571.9,369.0 L1567.6,365.9 L1571.9,363.7 L1576.8,359.3 L1581.1,354.7 L1586.1,352.3 L1585.4,344.8 L1588.9,343.4 L1588.9,351.1 L1593.9,352.3 L1601.0,351.1 L1603.9,344.8 L1608.1,343.4 L1608.1,338.0 L1615.2,336.6 L1606.7,336.6 L1604.6,333.7 L1609.6,321.1 L1604.6,319.4 L1598.2,333.7 L1600.3,338.0 L1596.8,347.3 L1592.5,348.6 L1589.6,339.4 L1581.8,340.8 L1581.1,330.7 L1588.2,324.4 L1593.9,314.1 L1601.0,302.5 L1609.6,298.2 L1618.1,302.5 L1620.9,306.5 L1632.3,314.1 L1628.0,322.8 L1636.6,317.7 L1636.6,308.5 L1650.8,308.5 L1659.3,304.5 L1670.7,306.5 L1668.6,300.4 L1672.1,291.4 L1677.8,291.4 L1676.4,306.5 L1680.7,308.5 L1683.5,291.4 L1687.8,286.5 L1697.7,284.0 L1707.7,273.0 L1716.2,266.9 L1721.9,262.4 L1726.2,266.9 L1734.7,273.0 L1734.7,286.5 L1743.2,289.0 L1756.0,286.5 L1758.9,298.2 L1773.1,291.4 L1787.3,296.0 L1801.6,304.5 L1815.8,302.5 L1824.3,304.5 L1830.0,306.5 L1838.5,314.1 L1844.2,317.7 L1841.4,321.1 L1834.3,322.8 L1830.0,321.1 L1827.2,322.8 L1825.7,329.2 L1818.6,335.2 L1805.8,336.6 L1805.8,343.4 L1801.6,352.3 L1796.6,359.3 L1795.9,344.8 L1801.6,335.2 L1794.4,339.4 L1777.4,338.6 L1767.4,351.1 L1774.5,355.9 L1773.1,365.9 L1763.2,376.0 L1758.9,377.0 L1758.2,381.7 L1755.3,383.6 L1757.5,389.8 L1753.9,391.6 L1753.2,386.3 L1751.8,381.7 L1746.1,380.8 L1747.5,387.2 L1743.2,387.2 L1746.1,395.8 L1747.5,399.1 L1744.0,407.2 L1740.4,409.5 L1731.2,413.3 L1729.7,416.4 L1725.5,417.9 L1727.6,423.8 L1729.0,427.4 L1723.3,431.8 L1720.5,429.6 L1716.9,424.5 L1714.8,429.6 L1716.9,433.9 L1721.2,441.1 L1717.6,440.3 L1714.1,432.5 L1714.1,425.3 L1712.7,420.1 L1708.4,420.8 L1707.7,416.4 L1704.1,411.0 L1700.6,412.3 L1697.0,414.9 L1694.9,415.6 L1688.5,420.8 L1687.8,425.3 L1687.1,428.9 L1684.2,432.5 L1682.8,430.3 L1680.0,423.8 L1677.8,416.4 L1677.1,412.6 L1672.1,411.0 L1668.6,406.4 L1661.5,407.2 L1655.1,405.9 L1654.4,404.0 L1650.8,404.5 L1647.2,402.7 L1645.1,399.1 L1642.3,399.1 L1643.0,402.4 L1645.1,405.6 L1647.2,407.9 L1650.8,408.7 L1653.6,405.6 L1654.4,408.7 L1658.6,411.0 L1655.8,416.4 L1652.2,419.4 L1648.0,420.8 L1638.0,425.3 L1635.9,425.7 L1634.4,422.3 L1631.6,414.9 L1628.8,410.3 L1624.5,402.4 L1623.1,402.7 L1620.2,399.1 L1623.1,396.7 L1624.5,392.4 L1625.2,388.1 L1619.5,389.0 L1613.1,387.2 L1611.7,381.7 L1615.2,379.9 L1614.5,375.1 L1616.2,371.1 L1621.6,373.1 L1625.2,371.7 L1628.8,368.0 L1628.0,372.1 L1633.0,378.9 L1627.3,379.9 L1618.1,379.5 L1611.0,380.2 L1606.7,380.8 L1608.1,385.4 L1605.3,388.1 L1603.9,384.5 L1601.7,378.9 L1596.8,375.1 L1593.2,371.1 L1591.5,373.1 L1593.9,378.0 L1596.8,378.9 L1600.3,381.4 L1597.5,383.6 L1596.3,385.4 L1591.1,378.5 L1588.9,376.0 L1586.5,373.3 L1582.5,376.0 L1578.6,375.6 L1578.6,378.0 L1575.0,380.2 L1573.6,382.7 L1574.0,384.1 L1571.2,387.5 L1566.2,389.0 L1563.3,386.8 Z M1549.8,413.3 L1550.5,420.8 L1549.1,422.8 L1550.5,426.7 L1555.5,431.0 L1557.6,433.9 L1563.3,437.5 L1569.7,436.8 L1576.8,434.9 L1582.5,437.8 L1587.5,438.2 L1587.9,441.1 L1587.2,445.3 L1591.1,451.0 L1593.2,456.8 L1591.8,463.3 L1590.8,468.4 L1594.6,476.8 L1596.0,483.8 L1598.2,487.8 L1600.3,495.7 L1602.4,496.8 L1610.3,495.4 L1613.8,492.8 L1620.2,486.2 L1620.6,482.2 L1624.5,479.1 L1624.2,476.0 L1623.1,472.2 L1625.9,470.7 L1631.6,465.5 L1631.6,458.9 L1630.2,453.2 L1629.5,450.3 L1633.0,446.0 L1635.9,443.2 L1640.8,437.5 L1646.5,428.9 L1646.8,426.7 L1642.3,427.9 L1636.6,428.9 L1635.4,427.4 L1633.3,423.8 L1630.2,421.6 L1627.3,417.1 L1626.3,411.8 L1624.5,408.7 L1622.4,403.2 L1620.2,399.5 L1618.1,396.7 L1615.2,397.8 L1609.6,396.2 L1602.4,395.8 L1601.7,398.3 L1596.0,396.7 L1589.6,393.8 L1588.6,387.5 L1586.1,387.2 L1578.3,387.5 L1572.6,389.8 L1566.2,389.3 L1564.8,392.4 L1560.5,398.3 L1559.8,400.8 L1555.5,403.2 L1553.4,405.6 L1551.2,408.7 Z M1644.1,461.1 L1645.8,466.2 L1644.4,468.4 L1643.0,474.5 L1640.8,480.6 L1638.0,481.4 L1635.9,476.0 L1637.0,469.9 L1636.6,467.3 L1640.8,465.0 Z M1223.4,476.0 L1224.1,483.0 L1225.6,495.4 L1229.8,497.1 L1237.6,495.4 L1245.5,491.3 L1251.2,492.3 L1254.7,496.8 L1258.3,498.0 L1258.3,494.5 L1261.1,501.5 L1266.1,503.9 L1270.4,504.2 L1275.3,501.5 L1277.2,495.0 L1280.3,485.4 L1279.6,480.6 L1276.0,476.8 L1273.9,473.7 L1269.6,470.7 L1268.6,465.5 L1266.1,464.0 L1264.7,459.2 L1263.2,462.5 L1263.2,467.7 L1261.1,469.5 L1256.1,466.2 L1256.6,461.5 L1250.4,460.4 L1246.9,462.5 L1245.9,465.5 L1242.6,464.0 L1239.8,466.2 L1236.2,468.4 L1234.8,471.4 L1227.7,474.2 Z M1735.4,476.0 L1736.1,483.0 L1737.6,495.4 L1741.8,497.1 L1749.6,495.4 L1757.5,491.3 L1763.2,492.3 L1766.7,496.8 L1770.3,498.0 L1770.3,494.5 L1773.1,501.5 L1778.1,503.9 L1782.4,504.2 L1787.3,501.5 L1789.2,495.0 L1792.3,485.4 L1791.6,480.6 L1788.0,476.8 L1785.9,473.7 L1781.6,470.7 L1780.6,465.5 L1778.1,464.0 L1776.7,459.2 L1775.2,462.5 L1775.2,467.7 L1773.1,469.5 L1768.1,466.2 L1768.6,461.5 L1762.4,460.4 L1758.9,462.5 L1757.9,465.5 L1754.6,464.0 L1751.8,466.2 L1748.2,468.4 L1746.8,471.4 L1739.7,474.2 Z M1267.7,507.4 L1272.9,507.7 L1272.5,512.2 L1269.6,512.9 L1267.8,508.9 Z M1779.7,507.4 L1784.9,507.7 L1784.5,512.2 L1781.6,512.9 L1779.8,508.9 Z M1566.2,361.5 L1576.1,359.3 L1576.4,355.4 L1574.0,353.5 L1571.9,349.8 L1571.2,344.8 L1569.0,340.5 L1566.9,340.8 L1565.5,344.8 L1566.9,348.6 L1569.7,351.1 L1569.7,353.5 L1567.6,355.2 L1566.6,357.7 L1569.7,358.4 Z M1565.5,357.0 L1565.2,352.3 L1563.3,349.3 L1559.8,352.3 L1559.4,357.0 L1562.6,358.2 Z M1758.9,396.7 L1761.0,392.4 L1766.0,393.3 L1773.1,390.7 L1774.5,385.4 L1775.2,378.9 L1773.1,380.8 L1772.4,385.4 L1768.8,387.2 L1763.2,389.8 L1759.6,392.4 Z M1773.1,378.0 L1775.2,371.1 L1780.9,375.1 L1777.4,378.0 Z M1709.5,436.1 L1713.4,438.2 L1721.9,446.7 L1724.8,452.2 L1722.6,452.2 L1717.6,447.5 L1714.1,441.8 Z M1724.0,453.2 L1736.8,454.6 L1736.8,456.0 L1724.8,454.6 Z M1729.0,441.8 L1731.9,448.2 L1739.0,449.6 L1741.1,442.5 L1743.2,436.8 L1740.4,433.9 L1737.6,436.8 L1731.9,441.1 Z M1743.2,443.9 L1746.1,442.5 L1751.8,441.8 L1747.5,445.3 L1748.9,449.6 L1746.1,451.0 L1744.7,448.2 Z M1248.3,445.3 L1254.0,448.9 L1262.5,447.6 L1268.9,450.3 L1275.3,458.9 L1269.6,456.0 L1265.4,457.0 L1262.5,456.8 L1258.3,455.7 L1257.6,451.0 L1252.6,449.6 L1249.7,447.5 Z M1760.3,445.3 L1766.0,448.9 L1774.5,447.6 L1780.9,450.3 L1787.3,458.9 L1781.6,456.0 L1777.4,457.0 L1774.5,456.8 L1770.3,455.7 L1769.6,451.0 L1764.6,449.6 L1761.7,447.5 Z M1744.7,417.1 L1748.2,417.4 L1747.5,423.8 L1750.4,426.0 L1753.2,431.0 L1753.2,434.6 L1747.5,433.9 L1748.9,428.9 L1746.8,424.5 L1745.5,423.1 Z M1687.8,429.9 L1690.3,433.2 L1689.6,435.1 L1687.8,435.4 L1687.5,432.5 Z M1745.0,410.3 L1746.1,406.8 L1747.5,407.2 L1745.8,411.8 Z M1307.6,496.2 L1315.9,501.9 L1313.6,505.3 L1310.9,509.1 L1310.3,505.7 Z M1819.6,496.2 L1827.9,501.9 L1825.6,505.3 L1822.9,509.1 L1822.3,505.7 Z M1307.6,507.0 L1309.9,509.3 L1307.6,512.7 L1305.2,517.3 L1301.6,519.0 L1298.8,517.3 L1301.6,513.3 Z M1819.6,507.0 L1821.9,509.3 L1819.6,512.7 L1817.2,517.3 L1813.6,519.0 L1810.8,517.3 L1813.6,513.3 Z M1539.9,319.4 L1542.7,316.3 L1552.7,316.7 L1554.8,321.1 L1548.4,326.4 L1542.0,325.1 Z M1648.0,298.2 L1655.1,300.4 L1672.1,270.0 L1660.8,273.0 L1649.4,289.0 Z M1589.6,256.8 L1595.3,266.9 L1605.3,263.7 L1612.4,253.2 L1609.6,242.9 L1599.6,241.2 L1589.6,247.0 Z M1776.0,370.1 L1778.1,363.7 L1776.7,351.6 L1776.0,359.3 Z M1453.1,412.1 L1457.4,410.0 L1464.5,412.6 L1468.5,414.6 L1463.8,415.2 L1458.8,412.1 Z M1468.0,417.1 L1471.6,414.9 L1476.6,416.8 L1473.0,417.9 Z M1704.8,253.2 L1716.2,260.3 L1724.8,253.2 L1721.9,236.8 L1710.5,236.8 Z M1256.8,278.7 L1264.0,286.5 L1275.3,278.7 L1269.6,273.0 L1261.1,271.8 Z M1768.8,278.7 L1776.0,286.5 L1787.3,278.7 L1781.6,273.0 L1773.1,271.8 Z M1315.9,298.2 L1320.8,296.9 L1319.4,294.7 L1316.6,295.6 Z M1827.9,298.2 L1832.8,296.9 L1831.4,294.7 L1828.6,295.6 Z M1638.0,245.4 L1659.3,241.2 L1662.2,232.1 L1645.1,232.1 Z" fill="#15171a" stroke="#2a2c31" stroke-width="0.6"/><path d="M1399.1,363.7 L1438.9,363.7 L1447.4,365.9 L1456.0,370.1 L1461.6,376.0 L1467.3,372.1 L1473.0,372.1 L1478.7,366.9 M1407.6,395.0 L1416.1,397.0 L1423.2,396.2 L1427.5,400.8 L1432.5,403.2 L1435.8,405.7 M1373.5,336.6 L1373.5,304.1 M1571.2,375.4 L1578.3,377.0 M1581.1,375.1 L1582.5,370.1 L1585.4,366.9 L1584.7,363.7 L1582.5,361.5 L1582.5,357.5 L1584.0,353.5 M1594.6,352.3 L1595.3,359.3 L1599.6,362.6 L1606.0,363.7 L1608.1,359.3 L1607.4,352.3 M1613.8,347.3 L1616.7,359.3 L1620.9,357.0 L1625.2,361.5 L1630.9,365.9 L1628.0,368.0 M1605.3,378.0 L1611.0,374.1 L1613.8,371.1 M1630.9,379.9 L1636.6,378.9 L1639.4,384.5 L1636.6,387.2 L1633.7,387.2 M1636.6,387.2 L1643.7,385.4 L1650.8,386.3 L1655.1,385.4 L1660.8,388.1 L1660.8,397.5 L1663.6,400.0 L1660.8,406.4 M1660.8,388.1 L1667.9,385.4 L1673.6,387.2 L1680.7,385.4 L1687.8,378.0 L1694.9,368.0 L1697.7,363.7 M1677.8,390.7 L1680.7,394.1 L1684.9,390.7 L1686.4,397.5 L1689.2,399.1 L1699.2,402.4 L1704.8,403.2 L1712.0,402.4 M1697.7,363.7 L1710.5,361.5 L1723.3,361.5 L1736.1,361.5 L1744.7,357.0 L1754.6,361.5 L1760.3,368.0 L1766.0,365.9 M1712.0,402.4 L1714.8,408.7 L1717.6,411.8 L1721.9,411.0 L1727.6,412.6 M1566.9,389.3 L1571.2,397.5 L1571.9,402.4 L1561.9,405.6 L1549.8,413.3 M1549.8,413.3 L1566.9,414.9 L1574.0,413.3 L1579.7,416.4 L1586.8,422.3 L1592.5,423.8 L1595.3,414.9 L1602.4,411.8 L1608.1,414.9 L1609.6,414.9 L1609.6,396.2 M1592.5,423.8 L1595.3,429.6 L1605.3,432.5 L1612.4,436.8 L1616.7,438.9 L1623.8,436.8 L1630.9,438.2 L1636.6,436.8 L1640.8,432.5 M1609.6,411.8 L1619.5,411.8 L1626.6,411.8 M1587.5,438.2 L1593.9,441.1 L1599.6,438.9 L1605.3,438.2 L1612.4,436.8 M1591.1,451.0 L1599.6,455.3 L1608.1,459.6 L1616.7,456.0 L1620.9,457.5 L1630.9,458.9 M1591.1,468.4 L1599.6,469.9 L1603.9,469.9 L1609.6,469.5 L1615.2,467.0 L1620.9,468.4 L1624.5,479.1 M1602.4,476.0 L1602.4,480.6 L1609.6,481.4 L1613.8,477.5 L1619.5,476.8 M1474.4,470.7 L1477.3,477.5 L1477.3,483.8 L1474.4,493.7 L1473.0,506.1 L1471.6,526.3 L1474.4,535.5 M1467.3,465.5 L1475.9,459.6 L1488.7,462.5 L1491.5,467.0 L1491.5,472.9 L1497.2,480.6 L1497.2,483.8 L1494.4,488.7 L1498.6,495.4 M1463.1,442.5 L1467.3,445.3 L1474.4,449.6 L1474.4,442.5 L1478.7,441.1 L1488.7,436.8 L1492.9,435.4 L1497.2,441.1 L1501.5,438.2 M1491.5,472.9 L1485.8,476.0 L1480.1,476.0 L1477.3,477.5 M1443.2,417.9 L1446.0,420.8 L1447.4,423.8 M1571.6,390.7 L1572.3,395.8 L1568.9,396.5 L1561.6,401.3 L1561.6,402.9 M1549.8,412.9 L1555.5,412.9 L1555.5,410.3 L1561.6,403.5 M1556.9,422.6 L1557.6,421.6 L1566.2,421.6 L1566.2,420.1 L1565.5,413.3 L1567.2,407.2 M1567.2,407.2 L1575.4,413.3 L1579.7,416.4 L1582.2,415.8 L1590.9,409.5 M1587.5,399.1 L1588.2,407.2 L1590.9,409.5 M1609.6,396.5 L1609.6,411.8 M1590.9,409.5 L1595.3,410.3 L1608.1,415.6 L1608.1,414.9 L1609.6,414.9 L1609.6,411.8 M1609.6,411.8 L1626.6,411.8 M1579.1,427.1 L1579.7,424.5 L1585.4,425.3 L1591.1,425.3 L1593.2,424.2 M1593.2,424.2 L1594.6,425.3 L1596.0,429.6 L1593.9,430.3 L1596.0,433.2 L1601.0,431.0 L1605.3,428.2 L1607.4,431.5 L1605.3,425.3 L1606.0,423.8 L1608.1,421.6 L1608.1,415.6 M1607.4,431.5 L1612.4,430.3 L1620.9,429.6 L1622.4,430.3 M1620.9,429.6 L1623.8,426.0 L1625.9,423.5 L1628.0,423.1 L1630.9,423.1 L1633.7,426.0 L1635.2,428.2 M1634.9,428.3 L1638.0,432.5 L1642.3,432.5 L1636.6,436.9 L1633.0,438.2 L1629.5,438.9 L1624.9,436.8 L1623.8,436.8 L1622.4,432.5 L1620.9,432.5 M1632.3,446.3 L1632.3,439.9 L1633.0,438.2 M1622.4,445.3 L1627.6,449.0 L1629.8,450.6 M1591.4,452.4 L1592.5,450.3 L1596.8,448.9 L1598.9,445.3 L1600.3,441.1 L1600.3,438.9 L1601.7,436.8 L1606.7,437.5 L1609.6,436.8 L1613.1,436.8 L1616.7,438.9 L1618.1,440.8 L1616.1,445.9 L1615.2,450.3 L1616.0,452.4 L1617.4,456.0 L1614.5,456.0 L1614.5,459.6 L1616.0,463.3 L1612.4,461.1 L1609.6,460.4 L1607.4,459.6 L1605.3,459.6 L1604.6,453.9 L1602.4,453.9 L1598.9,455.3 L1597.5,452.4 L1591.4,452.4 M1590.8,468.9 L1593.9,469.0 L1602.4,469.6 L1607.4,469.2 L1609.6,469.6 M1597.5,486.4 L1602.4,486.1 L1602.4,480.3 L1602.4,476.0 L1603.9,469.9 M1602.4,480.3 L1609.6,481.7 L1612.4,479.1 L1615.7,476.3 L1618.5,476.6 M1618.5,476.6 L1620.2,474.5 L1620.9,469.9 L1617.4,467.0 L1620.9,464.0 L1624.2,457.6 M1616.0,463.3 L1617.4,456.0 L1620.9,457.5 L1624.2,457.6 L1631.6,458.9 M1550.2,426.1 L1557.8,426.1 L1561.9,427.7 L1562.2,429.6 L1558.9,431.0 L1557.6,433.9 M1562.2,429.6 L1566.2,429.0 L1570.2,430.3 L1569.7,436.8 M1570.2,430.3 L1573.3,428.2 L1574.0,428.2 L1575.7,435.2 M1574.3,428.2 L1576.8,426.0 L1579.1,427.1 L1577.8,434.8 M1586.1,437.5 L1586.8,434.6 L1590.4,433.9 L1592.5,431.0 L1594.6,426.0 M1571.4,375.4 L1578.6,377.2 M1577.6,359.1 L1579.7,361.5 L1582.5,362.6 L1585.4,363.7 L1584.7,366.9 L1582.5,369.6 L1584.0,371.1 L1584.0,374.1 L1584.7,374.5 M1582.5,359.8 L1584.0,356.6 L1584.2,354.2 M1594.2,352.3 L1594.8,355.9 L1595.3,359.3 M1591.1,360.9 L1593.2,364.6 L1592.5,366.9 L1588.2,367.4 L1587.7,366.9 L1584.7,366.9 M1595.3,359.3 L1598.2,360.9 L1600.7,362.6 L1606.0,363.5 M1597.5,364.4 L1596.9,368.4 L1593.3,369.0 L1591.6,368.0 L1588.9,368.4 M1606.0,365.5 L1603.9,369.6 L1600.3,370.3 L1596.9,368.4 M1607.4,352.3 L1607.4,357.0 L1608.1,360.4 L1606.0,363.5 M1607.4,352.3 L1611.7,348.3 L1613.8,347.1 M1607.6,358.2 L1616.7,358.2 L1619.2,356.8 L1623.8,356.3 L1628.0,362.0 L1630.9,362.6 L1628.0,368.0 M1606.0,365.5 L1611.8,365.2 L1614.1,371.1 L1616.2,371.5 M1606.3,373.7 L1609.6,374.7 L1614.5,374.7 M1600.3,370.3 L1601.0,372.3 L1606.3,373.7 M1601.6,378.0 L1603.9,377.4 L1606.0,377.4 L1606.7,379.3 L1611.0,379.3 M1613.8,306.5 L1615.2,317.7 L1616.7,326.1 L1613.1,335.2 M1591.8,339.4 L1591.1,333.7 L1591.8,325.1 L1594.6,320.1 L1597.5,311.6 L1602.4,305.8 L1606.7,308.5 L1609.6,306.5 M1608.1,318.4 L1607.6,310.8 L1603.9,306.5 M1604.6,343.2 L1611.7,342.9 L1613.4,343.4 L1613.8,347.1 M1640.8,366.9 L1645.1,359.3 L1652.2,360.2 L1660.8,359.3 L1661.5,354.7 L1670.7,348.6 L1679.2,352.3 L1682.1,351.1 L1687.8,359.3 L1692.0,359.3 L1697.7,363.5 M1648.0,378.0 L1653.6,379.3 L1657.3,371.1 L1660.8,373.5 L1667.9,377.0 L1672.1,379.1 L1675.0,376.4 L1679.2,376.0 L1687.8,377.0 L1688.2,372.1 L1692.0,368.0 L1695.6,368.0 L1697.7,363.5 M1649.4,386.7 L1652.2,385.4 L1656.5,385.9 L1660.8,387.9 L1662.9,390.2 L1665.0,387.9 L1668.6,386.5 L1670.3,386.8 L1673.6,385.0 L1675.4,387.7 L1680.0,387.2 M1636.6,386.8 L1638.7,389.1 L1639.6,394.1 L1642.0,397.5 L1643.0,399.1 M1625.3,387.7 L1628.0,387.5 L1630.9,387.2 L1634.2,386.8 L1637.7,386.8 M1634.2,386.8 L1632.3,391.7 L1629.5,395.3 L1626.6,396.7 L1623.8,400.0 M1629.5,395.3 L1633.7,397.5 L1637.6,400.4 L1641.6,400.8 M1635.2,420.0 L1639.8,419.1 L1648.0,416.4 L1653.2,414.9 L1652.2,410.7 L1648.0,409.5 L1647.2,408.3 M1660.8,399.5 L1662.2,400.1 L1668.6,399.3 L1668.6,396.7 L1672.6,396.0 L1675.0,392.4 L1675.4,387.7 M1680.0,387.2 L1681.4,389.3 L1684.6,389.8 L1687.1,395.0 L1686.1,397.5 L1688.1,398.6 L1689.2,398.8 L1693.5,401.4 L1699.2,403.4 L1700.3,403.5 L1704.8,404.3 L1712.0,402.4 M1670.7,409.2 L1675.0,408.1 L1674.6,402.7 L1678.4,399.3 L1680.1,397.2 L1680.0,394.6 L1681.4,389.3 M1698.9,363.3 L1703.4,369.0 L1710.5,376.0 L1723.3,378.7 L1730.4,376.8 L1733.3,372.1 L1739.0,371.3 L1744.7,368.0 L1744.2,362.6 L1740.0,361.8 L1736.1,361.1 L1727.6,363.1 L1720.5,361.1 L1713.4,357.0 L1704.8,360.0 L1698.9,363.3 M1744.2,362.6 L1746.8,354.0 L1755.0,362.0 L1760.3,366.5 L1765.3,365.5 L1760.3,372.3 L1759.9,377.0 M1688.2,372.1 L1687.8,377.0 L1680.7,380.8 L1678.7,382.8 L1680.0,387.2 M1712.7,402.1 L1714.1,406.4 L1713.0,408.7 L1715.5,411.7 L1717.9,412.4 L1719.4,411.0 L1723.8,410.0 L1727.6,412.6 M1714.1,428.9 L1714.8,420.1 L1713.4,415.2 L1716.4,414.3 M1716.4,414.3 L1717.9,415.6 L1719.1,417.9 L1723.0,418.8 L1724.2,422.3 L1720.5,423.3 L1719.5,424.5 L1720.5,427.4 M1719.4,411.0 L1722.6,414.1 L1722.9,416.5 L1725.5,419.4 L1727.0,421.6 L1726.6,423.8 L1724.8,425.3 M1750.9,381.7 L1753.9,378.3 L1756.0,378.0 L1759.9,377.0 M1754.2,385.8 L1757.5,384.9 M1443.2,423.1 L1447.1,423.8 L1449.3,424.8 L1452.1,428.2 L1455.0,428.3 L1456.5,430.3 L1463.9,432.6 M1470.9,426.7 L1471.2,433.3 L1474.4,434.1 L1478.0,435.1 L1477.9,441.1 L1474.4,441.8 L1475.2,445.3 L1474.4,449.6 L1470.2,451.0 L1467.3,444.2 L1461.9,441.9 M1470.2,451.0 L1470.2,456.8 L1473.7,459.6 L1475.9,459.6 L1481.0,457.8 L1485.8,463.3 L1488.7,464.0 L1491.5,467.4 L1491.5,472.9 L1496.3,481.4 L1497.8,482.5 L1497.5,484.1 L1494.4,489.0 L1498.1,494.9 M1475.9,459.6 L1475.2,464.7 L1476.2,467.7 L1475.2,469.3 L1473.9,470.4 M1477.3,477.5 L1481.6,476.0 L1485.0,476.3 L1485.8,476.0 L1491.5,472.9 M1478.0,477.2 L1476.6,480.6 L1475.0,485.4 L1473.7,492.0 L1474.4,497.1 L1473.0,502.4 L1472.0,507.9 L1472.3,513.7 L1471.6,521.9 L1470.2,526.3 L1471.6,530.8 L1476.4,531.9 M1488.7,431.8 L1487.7,436.5 L1488.7,441.1 L1493.6,441.2 L1497.2,441.1 L1500.5,437.9 M1467.3,444.2 L1460.2,448.9 M1757.5,491.3 L1757.5,465.3 M1770.3,467.0 L1770.3,482.2 L1774.5,482.2 L1774.5,502.4 M1757.5,482.2 L1770.3,482.2 M1411.9,363.7 L1399.1,363.7 M1373.5,336.6 L1379.2,339.4 L1389.1,347.3 L1389.1,351.1" fill="none" stroke="#51545c" stroke-width="0.7" stroke-linejoin="round"/><text x="1418.5" y="355" font-size="10" fill="#9a9ea6" text-anchor="middle" font-weight="normal" letter-spacing="0.3">NORTH</text><text x="1420" y="367" font-size="10" fill="#9a9ea6" text-anchor="middle" font-weight="normal" letter-spacing="0.3">AMERICA</text><text x="1698" y="360" font-size="10" fill="#9a9ea6" text-anchor="middle" font-weight="normal" letter-spacing="0.3">ASIA</text><text x="1597" y="430" font-size="10" fill="#9a9ea6" text-anchor="middle" font-weight="normal" letter-spacing="0.3">AFRICA</text><text x="1485" y="470" font-size="10" fill="#9a9ea6" text-anchor="middle" font-weight="normal" letter-spacing="0.3">SOUTH</text><text x="1484" y="482" font-size="10" fill="#9a9ea6" text-anchor="middle" font-weight="normal" letter-spacing="0.3">AMERICA</text><text x="1818" y="464" font-size="10" fill="#9a9ea6" text-anchor="middle" font-weight="normal" letter-spacing="0.3">OCEANIA</text><text x="1302" y="464" font-size="10" fill="#9a9ea6" text-anchor="middle" font-weight="normal" letter-spacing="0.3">OCEANIA</text><circle cx="1398" cy="366.3" r="5.7" fill="#4562d4" fill-opacity="0.88"/><circle cx="1402.4" cy="390.7" r="9.7" fill="#2b8cc9" fill-opacity="0.88"/><circle cx="1432.5" cy="385.7" r="12.4" fill="#14c7b0" fill-opacity="0.88"/><circle cx="1434.2" cy="374.7" r="5.7" fill="#4562d4" fill-opacity="0.88"/><circle cx="1456.7" cy="376" r="6.7" fill="#4562d4" fill-opacity="0.88"/><circle cx="1460" cy="389.4" r="9" fill="#2b8cc9" fill-opacity="0.88"/><circle cx="1427.8" cy="414.9" r="6.7" fill="#4562d4" fill-opacity="0.88"/><circle cx="1462.4" cy="430.3" r="5.7" fill="#4562d4" fill-opacity="0.88"/><circle cx="1479.1" cy="431.6" r="5.7" fill="#4562d4" fill-opacity="0.88"/><circle cx="1457.7" cy="453.4" r="5.7" fill="#4562d4" fill-opacity="0.88"/><circle cx="1516.6" cy="449.4" r="5.7" fill="#4562d4" fill-opacity="0.88"/><circle cx="1504.6" cy="466.1" r="5.7" fill="#4562d4" fill-opacity="0.88"/><circle cx="1510" cy="477.5" r="5.7" fill="#4562d4" fill-opacity="0.88"/><circle cx="1496.5" cy="487.6" r="5.7" fill="#4562d4" fill-opacity="0.88"/><circle cx="1307.9" cy="500.3" r="5.7" fill="#4562d4" fill-opacity="0.88"/><circle cx="1276.7" cy="495.6" r="5.7" fill="#4562d4" fill-opacity="0.88"/><circle cx="1552.5" cy="395.1" r="6.7" fill="#4562d4" fill-opacity="0.88"/><circle cx="1571" cy="358" r="9.4" fill="#2b8cc9" fill-opacity="0.88"/><circle cx="1581" cy="357.2" r="12" fill="#19b8d4" fill-opacity="0.88"/><circle cx="1590.4" cy="342.2" r="6" fill="#4562d4" fill-opacity="0.88"/><circle cx="1610.2" cy="339.5" r="6" fill="#4562d4" fill-opacity="0.88"/><circle cx="1610.2" cy="370.6" r="9.4" fill="#2b8cc9" fill-opacity="0.88"/><circle cx="1584" cy="385.4" r="5.7" fill="#4562d4" fill-opacity="0.88"/><circle cx="1616.8" cy="388" r="5.7" fill="#4562d4" fill-opacity="0.88"/><circle cx="1566.2" cy="435.3" r="5.7" fill="#4562d4" fill-opacity="0.88"/><circle cx="1576.3" cy="434.7" r="5.7" fill="#4562d4" fill-opacity="0.88"/><circle cx="1626.9" cy="431" r="5.7" fill="#4562d4" fill-opacity="0.88"/><circle cx="1592.4" cy="477.5" r="5.7" fill="#4562d4" fill-opacity="0.88"/><circle cx="1607.8" cy="481.2" r="5.7" fill="#4562d4" fill-opacity="0.88"/><circle cx="1653" cy="471.8" r="6.7" fill="#4562d4" fill-opacity="0.88"/><circle cx="1652" cy="342.2" r="6.7" fill="#4562d4" fill-opacity="0.88"/><circle cx="1657.7" cy="349.9" r="5.7" fill="#4562d4" fill-opacity="0.88"/><circle cx="1703.3" cy="347.2" r="5.7" fill="#4562d4" fill-opacity="0.88"/><circle cx="1681.5" cy="402.8" r="6" fill="#4562d4" fill-opacity="0.88"/><circle cx="1678.2" cy="419.9" r="6" fill="#4562d4" fill-opacity="0.88"/><circle cx="1722.4" cy="397.5" r="6" fill="#4562d4" fill-opacity="0.88"/><circle cx="1734.1" cy="393.1" r="12" fill="#14c7b0" fill-opacity="0.88"/><circle cx="1749.9" cy="374" r="5.7" fill="#4562d4" fill-opacity="0.88"/><circle cx="1770" cy="389.7" r="6.7" fill="#4562d4" fill-opacity="0.88"/><circle cx="1744.2" cy="424.3" r="5.7" fill="#4562d4" fill-opacity="0.88"/><circle cx="1721.4" cy="431.6" r="9.4" fill="#2b8cc9" fill-opacity="0.88"/><circle cx="1723.1" cy="452.7" r="9.4" fill="#2b8cc9" fill-opacity="0.88"/><circle cx="1786.8" cy="495.3" r="5.7" fill="#4562d4" fill-opacity="0.88"/><circle cx="1819.6" cy="500.3" r="5.7" fill="#4562d4" fill-opacity="0.88"/><circle cx="1910" cy="366.3" r="5.7" fill="#4562d4" fill-opacity="0.88"/><circle cx="1910" cy="390.7" r="6" fill="#4562d4" fill-opacity="0.88"/><circle cx="1644.7" cy="389.1" r="20" fill="#e00b0b"/></g><filter id="sh" x="-30%" y="-30%" width="160%" height="160%"><feDropShadow dx="0" dy="1" stdDeviation="1.5" flood-color="#000" flood-opacity="0.5"/></filter><g filter="url(#sh)"><rect x="1289.5" y="291.5" width="31" height="64" rx="5" fill="#1d1e24"/><rect x="1289.5" y="364.5" width="31" height="31" rx="5" fill="#1d1e24"/><rect x="1289.5" y="404.5" width="31" height="31" rx="5" fill="#1d1e24"/><rect x="1289.5" y="444.5" width="31" height="31" rx="5" fill="#1d1e24"/><rect x="1862.5" y="293.5" width="31" height="30" rx="5" fill="#1d1e24"/></g><circle cx="1305" cy="308.5" r="7.5" fill="#e8ebf0"/><path d="M1305 304.5 V312.5 M1301 308.5 H1309" stroke="#1d1e24" stroke-width="1.2"/><circle cx="1305" cy="340" r="7.5" fill="#6a6e78"/><path d="M1301 340 H1309" stroke="#1d1e24" stroke-width="1.2"/><g stroke="#dfe5ef" stroke-width="1" fill="none"><circle cx="1305" cy="380" r="6" stroke-dasharray="3,1.5"/><path d="M1305 372 V375 M1305 385 V388 M1297 380 H1300 M1310 380 H1313"/><circle cx="1305" cy="380" r="0.8" fill="#dfe5ef"/></g><g stroke="#dfe5ef" stroke-width="1.1" fill="none"><path d="M1298.5 426.5 L1311.5 413.5 M1306.5 413.5 H1311.5 V418.5 M1298.5 421.5 V426.5 H1303.5"/></g><g stroke="#dfe5ef" stroke-width="1.1" fill="none"><path d="M1299 453.5 A4 4 0 0 0 1305 458.5 L1310 464 A1.8 1.8 0 0 0 1312.5 461.5 L1307 456.5 A4 4 0 0 0 1302 450.5 L1304 453 L1302 455 Z"/></g><g stroke="#dfe5ef" stroke-width="1.1" fill="none"><path d="M1872 308.5 H1885 M1875 304.5 H1885 M1875 312.5 H1885 M1874 306 L1871.5 308.5 L1874 311"/></g><text x="1894" y="485.5" font-size="10" fill="#f0f2f5" text-anchor="end" font-weight="normal" ><tspan font-weight="bold">zoom:</tspan> 0</text><g font-size="10.2" font-weight="bold" fill="#e8ebf0"><text x="1513.5" y="510.5" textLength="104" lengthAdjust="spacingAndGlyphs">Elastic Maps Service</text><text x="1633" y="510.5" textLength="79" lengthAdjust="spacingAndGlyphs">, OpenMapTiles</text><text x="1728" y="510.5" textLength="150" lengthAdjust="spacingAndGlyphs">, OpenStreetMap contributors</text></g><g stroke="#e8ebf0" stroke-width="0.9" fill="none"><path d="M1624.5 503 H1622.5 V511 H1630.5 V509"/><path d="M1626.5 503 H1630.5 V507 M1630.5 503 L1626.0 507.5"/></g><g stroke="#e8ebf0" stroke-width="0.9" fill="none"><path d="M1717.5 503 H1715.5 V511 H1723.5 V509"/><path d="M1719.5 503 H1723.5 V507 M1723.5 503 L1719.0 507.5"/></g><g stroke="#e8ebf0" stroke-width="0.9" fill="none"><path d="M1884.5 503 H1882.5 V511 H1890.5 V509"/><path d="M1886.5 503 H1890.5 V507 M1890.5 503 L1886.0 507.5"/></g><text x="391.2" y="1484" font-size="16" fill="#d9874a" text-anchor="start" font-weight="normal" >user1</text><text x="513.3" y="1484.5" font-size="16" fill="#c8405a" text-anchor="start" font-weight="normal" >nfsnobod</text><text x="291.5" y="1500.7" font-size="16" fill="#c04ac8" text-anchor="start" font-weight="normal" >MGR</text><text x="344.3" y="1508.9" font-size="16" fill="#6cc644" text-anchor="start" font-weight="normal" >888888</text><text x="431.4" y="1506.7" font-size="16" fill="#c8c840" text-anchor="start" font-weight="normal" >admindb</text><text x="516.1" y="1510.5" font-size="16" fill="#40bf70" text-anchor="start" font-weight="normal" >admin1</text><text x="591.9" y="1508.6" font-size="16" fill="#4060c8" text-anchor="start" font-weight="normal" >alicia</text><text x="261.9" y="1523.7" font-size="16" fill="#40bfa0" text-anchor="start" font-weight="normal" >pi</text><text x="294.9" y="1528.7" font-size="16" fill="#40bf70" text-anchor="start" font-weight="normal" >ai</text><text x="332.9" y="1531.2" font-size="16" fill="#c8408f" text-anchor="start" font-weight="normal" >ade</text><text x="374.8" y="1531.7" font-size="16" fill="#c84050" text-anchor="start" font-weight="normal" >ubuntu</text><text x="445.5" y="1532.5" font-size="16" fill="#40b0c8" text-anchor="start" font-weight="normal" >1</text><text x="474.6" y="1531.6" font-size="16" fill="#d8a060" text-anchor="start" font-weight="normal" >123</text><text x="540" y="1534.4" font-size="16.5" fill="#4070d0" text-anchor="start" font-weight="normal" >1234</text><text x="668.2" y="1523.7" font-size="16" fill="#9040c8" text-anchor="start" font-weight="normal" >kingbase</text><text x="595.3" y="1535.4" font-size="16" fill="#8040c8" text-anchor="start" font-weight="normal" >adam</text><text x="672.9" y="1548.6" font-size="16" fill="#c840a0" text-anchor="start" font-weight="normal" >ahmed</text><text x="206.9" y="1556.8" font-size="16" fill="#a0c040" text-anchor="start" font-weight="normal" >tech</text><text x="256.3" y="1550.5" font-size="16" fill="#c0b040" text-anchor="start" font-weight="normal" >support</text><text x="328.9" y="1557.5" font-size="17.5" fill="#4080d0" text-anchor="start" font-weight="normal" >mysql</text><text x="391.5" y="1563.9" font-size="18" fill="#40bf40" text-anchor="start" font-weight="normal" >git</text><text x="423" y="1579.5" font-size="62" fill="#c8a840" text-anchor="start" font-weight="normal" >root</text><text x="557" y="1558.4" font-size="17.5" fill="#b0c040" text-anchor="start" font-weight="normal" >user</text><text x="618.3" y="1561.4" font-size="16" fill="#40c0b0" text-anchor="start" font-weight="normal" >Root</text><text x="673.9" y="1575.3" font-size="16" fill="#d08040" text-anchor="start" font-weight="normal" >12345</text><text x="173.1" y="1583.6" font-size="16" fill="#d05040" text-anchor="start" font-weight="normal" >anonymous</text><text x="275.6" y="1583.6" font-size="16" fill="#a040c8" text-anchor="start" font-weight="normal" >ADMIN</text><text x="543.8" y="1581.6" font-size="19" fill="#c040b0" text-anchor="start" font-weight="normal" >sa</text><text x="595.1" y="1584.4" font-size="16.5" fill="#c040b0" text-anchor="start" font-weight="normal" >(empty)</text><text x="354.7" y="1593.5" font-size="17.5" fill="#d0a040" text-anchor="start" font-weight="normal" >oracle</text><text x="664.8" y="1597.6" font-size="16" fill="#60c040" text-anchor="start" font-weight="normal" >lenovo</text><text x="728.9" y="1597.6" font-size="16" fill="#6040d0" text-anchor="start" font-weight="normal" >test</text><text x="336.7" y="1608.3" font-size="16" fill="#40bfa0" text-anchor="start" font-weight="normal" >a</text><text x="421.7" y="1611.4" font-size="27.4" fill="#40c060" text-anchor="start" font-weight="normal" >admin</text><text x="510.5" y="1608.5" font-size="20.7" fill="#6040d0" text-anchor="start" font-weight="normal" >postgres</text><text x="189.3" y="1615.5" font-size="16" fill="#c040c8" text-anchor="start" font-weight="normal" >Epuser</text><text x="260.2" y="1615.5" font-size="16" fill="#4050c8" text-anchor="start" font-weight="normal" >vhserver</text><text x="607" y="1619.3" font-size="16" fill="#a0c040" text-anchor="start" font-weight="normal" >abt</text><text x="641.4" y="1616.4" font-size="16" fill="#8fc040" text-anchor="start" font-weight="normal" >0</text><text x="375.8" y="1620" font-size="16.5" fill="#40c0a0" text-anchor="start" font-weight="normal" >ubnt</text><text x="665.9" y="1621.1" font-size="16" fill="#a0c040" text-anchor="start" font-weight="normal" >app</text><text x="431.7" y="1636.2" font-size="16" fill="#a040c8" text-anchor="start" font-weight="normal" >123456</text><text x="498.2" y="1635.6" font-size="16" fill="#d04040" text-anchor="start" font-weight="normal" >Admin</text><text x="623.9" y="1643.8" font-size="16" fill="#40b0c8" text-anchor="start" font-weight="normal" >apache</text><text x="568.9" y="1645.6" font-size="16" fill="#40a0c8" text-anchor="start" font-weight="normal" >alice</text><text x="197.2" y="1647.6" font-size="16" fill="#40bf40" text-anchor="start" font-weight="normal" >Administrator</text><text x="309.1" y="1649.3" font-size="16" fill="#c06040" text-anchor="start" font-weight="normal" >administrator</text><text x="518.7" y="1659.4" font-size="16" fill="#c8b040" text-anchor="start" font-weight="normal" >alex</text><text x="431.7" y="1662.2" font-size="16" fill="#a040c8" text-anchor="start" font-weight="normal" >minecraft</text><text x="579.6" y="1669.2" font-size="16" fill="#4090d0" text-anchor="start" font-weight="normal" >wanghao</text><text x="1519.5" y="1445.6" font-size="16" fill="#b040c8" text-anchor="start" font-weight="normal" >Password01!</text><text x="1367.4" y="1449.7" font-size="16" fill="#a0c040" text-anchor="start" font-weight="normal" >Changeme_123</text><text x="1236.5" y="1471.3" font-size="16" fill="#40bf90" text-anchor="start" font-weight="normal" >Git1234</text><text x="1309.2" y="1472.8" font-size="16" fill="#40bf70" text-anchor="start" font-weight="normal" >Aa123456.</text><text x="1408.7" y="1474.9" font-size="16" fill="#6040c8" text-anchor="start" font-weight="normal" >admin123</text><text x="1525.3" y="1478.3" font-size="16" fill="#d06040" text-anchor="start" font-weight="normal" >12345678</text><text x="1628.8" y="1485.8" font-size="16" fill="#c84070" text-anchor="start" font-weight="normal" >Git123</text><text x="1239" y="1494.3" font-size="16" fill="#d09040" text-anchor="start" font-weight="normal" >BrAhMoS@15</text><text x="1166.8" y="1507.5" font-size="16" fill="#a040c8" text-anchor="start" font-weight="normal" >ADMIN</text><text x="1364.7" y="1511.7" font-size="26.7" fill="#d04040" text-anchor="start" font-weight="normal" >password</text><text x="1511.9" y="1516" font-size="20.9" fill="#c84060" text-anchor="start" font-weight="normal" >kjashd123sadhj123dhs1SS</text><text x="1109.6" y="1535.8" font-size="16" fill="#9040c8" text-anchor="start" font-weight="normal" >Git1</text><text x="1310.3" y="1534.1" font-size="19" fill="#80c040" text-anchor="start" font-weight="normal" >0</text><text x="1152.1" y="1539.4" font-size="16" fill="#40bf40" text-anchor="start" font-weight="normal" >Admin@123</text><text x="1255.8" y="1540.4" font-size="20.7" fill="#40bf90" text-anchor="start" font-weight="normal" >ubnt</text><text x="1694.1" y="1542.6" font-size="16" fill="#80c040" text-anchor="start" font-weight="normal" >888888</text><text x="1594.9" y="1544.4" font-size="17.8" fill="#6040d0" text-anchor="start" font-weight="normal" >postgres</text><text x="1564.7" y="1545.2" font-size="22" fill="#40c0c0" text-anchor="start" font-weight="normal" >1</text><text x="1692.4" y="1566.3" font-size="16" fill="#40bf70" text-anchor="start" font-weight="normal" >root123</text><text x="1765.8" y="1564.5" font-size="16" fill="#40bf40" text-anchor="start" font-weight="normal" >Oracle1234</text><text x="1077.4" y="1570.4" font-size="16" fill="#d04848" text-anchor="start" font-weight="normal" >Admin</text><text x="1226.9" y="1572.5" font-size="16.5" fill="#d8a060" text-anchor="start" font-weight="normal" >123</text><text x="1135.8" y="1575.4" font-size="16" fill="#4080d0" text-anchor="start" font-weight="normal" >Root1234</text><text x="1267.3" y="1576" font-size="29.8" fill="#c8a840" text-anchor="start" font-weight="normal" >root</text><text x="1550.4" y="1579.6" font-size="27.9" fill="#4060d0" text-anchor="start" font-weight="normal" >1234</text><text x="1330.2" y="1580.2" font-size="62" fill="#a040c8" text-anchor="start" font-weight="normal" >123456</text><text x="1628.3" y="1582.9" font-size="16" fill="#d08040" text-anchor="start" font-weight="normal" >12345</text><text x="1112.4" y="1598.4" font-size="16" fill="#40b0c8" text-anchor="start" font-weight="normal" >666666</text><text x="1585.6" y="1602.2" font-size="20.3" fill="#8040c8" text-anchor="start" font-weight="normal" >eve</text><text x="1234.9" y="1605.3" font-size="18.8" fill="#b0c040" text-anchor="start" font-weight="normal" >user</text><text x="1729.3" y="1605.5" font-size="16" fill="#4060c8" text-anchor="start" font-weight="normal" >Ac123456</text><text x="1636.8" y="1606.5" font-size="16" fill="#c040b0" text-anchor="start" font-weight="normal" >Admin123</text><text x="1472.5" y="1619.8" font-size="36" fill="#40c060" text-anchor="start" font-weight="normal" >admin</text><text x="1100.4" y="1627.7" font-size="16" fill="#40c0c0" text-anchor="start" font-weight="normal" >Admin1</text><text x="1167.9" y="1628.8" font-size="16" fill="#d04050" text-anchor="start" font-weight="normal" >Win1doW$</text><text x="1283" y="1631.5" font-size="49.5" fill="#c040a0" text-anchor="start" font-weight="normal" >(empty)</text><text x="1585.6" y="1634.9" font-size="16" fill="#a040d0" text-anchor="start" font-weight="normal" >111111</text><text x="1524.5" y="1640.7" font-size="16" fill="#40c0c0" text-anchor="start" font-weight="normal" >a</text><text x="1717.3" y="1641.7" font-size="16" fill="#d07040" text-anchor="start" font-weight="normal" >Oracle1</text><text x="1646.4" y="1645.7" font-size="16" fill="#4050d0" text-anchor="start" font-weight="normal" >1111111</text><text x="1284.1" y="1661.2" font-size="16" fill="#c04090" text-anchor="start" font-weight="normal" >pass</text><text x="1215.4" y="1661.9" font-size="16" fill="#c8b040" text-anchor="start" font-weight="normal" >support</text><text x="1146.3" y="1663.6" font-size="16" fill="#c0c040" text-anchor="start" font-weight="normal" >Mysql1</text><text x="1332.3" y="1665" font-size="16" fill="#4090d0" text-anchor="start" font-weight="normal" >admin1234</text><text x="1437.8" y="1667.5" font-size="16" fill="#40bf40" text-anchor="start" font-weight="normal" >00000000</text><text x="1533.8" y="1669.3" font-size="16" fill="#b0c040" text-anchor="start" font-weight="normal" >abc@123</text><text x="1618.2" y="1678.9" font-size="16" fill="#6040d0" text-anchor="start" font-weight="normal" >Mysql123</text><text x="1212.3" y="1694.3" font-size="16" fill="#40a0d0" text-anchor="start" font-weight="normal" >Oracle123</text><text x="1320.1" y="1698.5" font-size="16" fill="#c040b0" text-anchor="start" font-weight="normal" >AHdianxin@1234</text><text x="1480.5" y="1702" font-size="16" fill="#d0b040" text-anchor="start" font-weight="normal" >Aa123456@</text>
</svg>
</body></html>
